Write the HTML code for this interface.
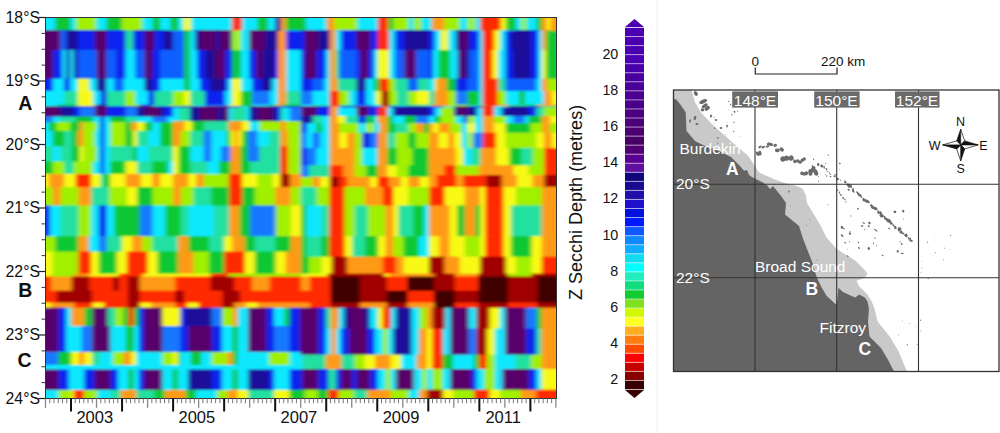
<!DOCTYPE html>
<html><head><meta charset="utf-8"><style>
html,body{margin:0;padding:0;background:#fff;}
svg{display:block;font-family:"Liberation Sans",sans-serif;}
</style></head><body>
<svg width="1000" height="433" viewBox="0 0 1000 433">
<defs>
<clipPath id="pc"><rect x="45.5" y="17.5" width="511" height="381"/></clipPath>
<filter id="bl" x="0" y="0" width="1" height="1"><feGaussianBlur stdDeviation="2.2 1.2"/></filter>
</defs>
<rect width="1000" height="433" fill="#fff"/>

<g clip-path="url(#pc)"><g filter="url(#bl)">
<rect x="38.00" y="273.00" width="13.51" height="4.15" fill="#f8fa18"/>
<rect x="50.91" y="273.00" width="24.25" height="4.15" fill="#a0f000"/>
<rect x="74.56" y="273.00" width="15.38" height="4.15" fill="#ff9a18"/>
<rect x="89.34" y="273.00" width="30.16" height="4.15" fill="#f8fa18"/>
<rect x="118.90" y="273.00" width="24.25" height="4.15" fill="#ff2a00"/>
<rect x="142.55" y="273.00" width="68.59" height="4.15" fill="#f8fa18"/>
<rect x="210.54" y="273.00" width="18.34" height="4.15" fill="#ff2a00"/>
<rect x="228.28" y="273.00" width="73.32" height="4.15" fill="#a0f000"/>
<rect x="38.00" y="276.55" width="13.51" height="14.79" fill="#ff2a00"/>
<rect x="50.91" y="276.55" width="21.29" height="14.79" fill="#ff9a18"/>
<rect x="71.61" y="276.55" width="18.34" height="14.79" fill="#a00000"/>
<rect x="89.34" y="276.55" width="24.25" height="14.79" fill="#ff2a00"/>
<rect x="112.99" y="276.55" width="6.51" height="14.79" fill="#a00000"/>
<rect x="118.90" y="276.55" width="9.47" height="14.79" fill="#ff2a00"/>
<rect x="127.77" y="276.55" width="12.42" height="14.79" fill="#a00000"/>
<rect x="139.60" y="276.55" width="36.07" height="14.79" fill="#ff9a18"/>
<rect x="175.07" y="276.55" width="36.07" height="14.79" fill="#ff2a00"/>
<rect x="210.54" y="276.55" width="24.25" height="14.79" fill="#a00000"/>
<rect x="234.19" y="276.55" width="18.34" height="14.79" fill="#ff2a00"/>
<rect x="251.93" y="276.55" width="18.34" height="14.79" fill="#ff9a18"/>
<rect x="269.67" y="276.55" width="31.93" height="14.79" fill="#ff2a00"/>
<rect x="38.00" y="290.74" width="19.42" height="12.42" fill="#ff2a00"/>
<rect x="56.82" y="290.74" width="36.07" height="12.42" fill="#a00000"/>
<rect x="92.30" y="290.74" width="36.07" height="12.42" fill="#ff2a00"/>
<rect x="127.77" y="290.74" width="12.42" height="12.42" fill="#a00000"/>
<rect x="139.60" y="290.74" width="36.07" height="12.42" fill="#ff2a00"/>
<rect x="175.07" y="290.74" width="9.47" height="12.42" fill="#a00000"/>
<rect x="183.94" y="290.74" width="39.03" height="12.42" fill="#ff2a00"/>
<rect x="222.37" y="290.74" width="18.34" height="12.42" fill="#a00000"/>
<rect x="240.10" y="290.74" width="61.50" height="12.42" fill="#ff2a00"/>
<rect x="38.00" y="302.56" width="13.51" height="5.92" fill="#f8fa18"/>
<rect x="50.91" y="302.56" width="24.25" height="5.92" fill="#ff9a18"/>
<rect x="74.56" y="302.56" width="18.34" height="5.92" fill="#ff2a00"/>
<rect x="92.30" y="302.56" width="12.42" height="5.92" fill="#f8fa18"/>
<rect x="104.12" y="302.56" width="24.25" height="5.92" fill="#ff2a00"/>
<rect x="127.77" y="302.56" width="12.42" height="5.92" fill="#a00000"/>
<rect x="139.60" y="302.56" width="12.42" height="5.92" fill="#f8fa18"/>
<rect x="151.42" y="302.56" width="24.25" height="5.92" fill="#ff9a18"/>
<rect x="175.07" y="302.56" width="12.42" height="5.92" fill="#ff2a00"/>
<rect x="186.89" y="302.56" width="12.42" height="5.92" fill="#f8fa18"/>
<rect x="198.72" y="302.56" width="24.25" height="5.92" fill="#ff2a00"/>
<rect x="222.37" y="302.56" width="12.42" height="5.92" fill="#a00000"/>
<rect x="234.19" y="302.56" width="12.42" height="5.92" fill="#ff9a18"/>
<rect x="246.02" y="302.56" width="12.42" height="5.92" fill="#f8fa18"/>
<rect x="257.84" y="302.56" width="43.76" height="5.92" fill="#ff9a18"/>
<rect x="38.00" y="307.88" width="19.42" height="10.06" fill="#58066a"/>
<rect x="56.82" y="307.88" width="9.47" height="10.06" fill="#1024ee"/>
<rect x="65.69" y="307.88" width="9.47" height="10.06" fill="#10c830"/>
<rect x="74.56" y="307.88" width="15.38" height="10.06" fill="#a0f000"/>
<rect x="89.34" y="307.88" width="6.51" height="10.06" fill="#10c830"/>
<rect x="95.25" y="307.88" width="15.38" height="10.06" fill="#58066a"/>
<rect x="110.03" y="307.88" width="9.47" height="10.06" fill="#10c830"/>
<rect x="118.90" y="307.88" width="9.47" height="10.06" fill="#f8fa18"/>
<rect x="127.77" y="307.88" width="6.51" height="10.06" fill="#ff2a00"/>
<rect x="133.68" y="307.88" width="3.56" height="10.06" fill="#10e8ff"/>
<rect x="136.64" y="307.88" width="27.21" height="10.06" fill="#58066a"/>
<rect x="163.24" y="307.88" width="24.25" height="10.06" fill="#a0f000"/>
<rect x="186.89" y="307.88" width="24.25" height="10.06" fill="#1c0c9a"/>
<rect x="210.54" y="307.88" width="12.42" height="10.06" fill="#10e8ff"/>
<rect x="222.37" y="307.88" width="12.42" height="10.06" fill="#f8fa18"/>
<rect x="234.19" y="307.88" width="12.42" height="10.06" fill="#10c830"/>
<rect x="246.02" y="307.88" width="24.25" height="10.06" fill="#58066a"/>
<rect x="269.67" y="307.88" width="12.42" height="10.06" fill="#10c830"/>
<rect x="281.49" y="307.88" width="20.11" height="10.06" fill="#1024ee"/>
<rect x="38.00" y="317.34" width="19.42" height="15.38" fill="#58066a"/>
<rect x="56.82" y="317.34" width="9.47" height="15.38" fill="#1024ee"/>
<rect x="65.69" y="317.34" width="12.42" height="15.38" fill="#10e8ff"/>
<rect x="77.52" y="317.34" width="12.42" height="15.38" fill="#10c830"/>
<rect x="89.34" y="317.34" width="6.51" height="15.38" fill="#10e8ff"/>
<rect x="95.25" y="317.34" width="15.38" height="15.38" fill="#58066a"/>
<rect x="110.03" y="317.34" width="12.42" height="15.38" fill="#10e8ff"/>
<rect x="121.86" y="317.34" width="9.47" height="15.38" fill="#10c830"/>
<rect x="130.73" y="317.34" width="6.51" height="15.38" fill="#10e8ff"/>
<rect x="136.64" y="317.34" width="27.21" height="15.38" fill="#58066a"/>
<rect x="163.24" y="317.34" width="12.42" height="15.38" fill="#20e0a0"/>
<rect x="175.07" y="317.34" width="12.42" height="15.38" fill="#10e8ff"/>
<rect x="186.89" y="317.34" width="24.25" height="15.38" fill="#58066a"/>
<rect x="210.54" y="317.34" width="18.34" height="15.38" fill="#10e8ff"/>
<rect x="228.28" y="317.34" width="12.42" height="15.38" fill="#10c830"/>
<rect x="240.10" y="317.34" width="9.47" height="15.38" fill="#10e8ff"/>
<rect x="248.97" y="317.34" width="24.25" height="15.38" fill="#58066a"/>
<rect x="272.62" y="317.34" width="12.42" height="15.38" fill="#10e8ff"/>
<rect x="284.45" y="317.34" width="17.15" height="15.38" fill="#1024ee"/>
<rect x="38.00" y="332.12" width="19.42" height="24.25" fill="#58066a"/>
<rect x="56.82" y="332.12" width="6.51" height="24.25" fill="#1024ee"/>
<rect x="62.74" y="332.12" width="30.16" height="24.25" fill="#10e8ff"/>
<rect x="92.30" y="332.12" width="5.03" height="24.25" fill="#1024ee"/>
<rect x="96.73" y="332.12" width="12.42" height="24.25" fill="#58066a"/>
<rect x="108.56" y="332.12" width="5.03" height="24.25" fill="#1024ee"/>
<rect x="112.99" y="332.12" width="21.29" height="24.25" fill="#10e8ff"/>
<rect x="133.68" y="332.12" width="5.03" height="24.25" fill="#1024ee"/>
<rect x="138.12" y="332.12" width="24.25" height="24.25" fill="#58066a"/>
<rect x="161.77" y="332.12" width="5.03" height="24.25" fill="#1024ee"/>
<rect x="166.20" y="332.12" width="18.34" height="24.25" fill="#10e8ff"/>
<rect x="183.94" y="332.12" width="5.03" height="24.25" fill="#1024ee"/>
<rect x="188.37" y="332.12" width="21.29" height="24.25" fill="#58066a"/>
<rect x="209.06" y="332.12" width="5.03" height="24.25" fill="#1024ee"/>
<rect x="213.50" y="332.12" width="33.12" height="24.25" fill="#10e8ff"/>
<rect x="246.02" y="332.12" width="5.03" height="24.25" fill="#1024ee"/>
<rect x="250.45" y="332.12" width="19.81" height="24.25" fill="#58066a"/>
<rect x="269.67" y="332.12" width="5.03" height="24.25" fill="#1024ee"/>
<rect x="274.10" y="332.12" width="13.90" height="24.25" fill="#10e8ff"/>
<rect x="287.40" y="332.12" width="14.20" height="24.25" fill="#1024ee"/>
<rect x="38.00" y="355.77" width="16.47" height="10.95" fill="#10e8ff"/>
<rect x="53.87" y="355.77" width="21.29" height="10.95" fill="#10c830"/>
<rect x="74.56" y="355.77" width="12.42" height="10.95" fill="#f8fa18"/>
<rect x="86.39" y="355.77" width="9.47" height="10.95" fill="#10c830"/>
<rect x="95.25" y="355.77" width="15.38" height="10.95" fill="#10e8ff"/>
<rect x="110.03" y="355.77" width="15.38" height="10.95" fill="#10c830"/>
<rect x="124.82" y="355.77" width="12.42" height="10.95" fill="#ff9a18"/>
<rect x="136.64" y="355.77" width="21.29" height="10.95" fill="#10e8ff"/>
<rect x="157.33" y="355.77" width="12.42" height="10.95" fill="#10c830"/>
<rect x="169.16" y="355.77" width="12.42" height="10.95" fill="#f8fa18"/>
<rect x="180.98" y="355.77" width="18.34" height="10.95" fill="#10c830"/>
<rect x="198.72" y="355.77" width="15.38" height="10.95" fill="#10e8ff"/>
<rect x="213.50" y="355.77" width="15.38" height="10.95" fill="#10c830"/>
<rect x="228.28" y="355.77" width="12.42" height="10.95" fill="#ff9a18"/>
<rect x="240.10" y="355.77" width="12.42" height="10.95" fill="#10c830"/>
<rect x="251.93" y="355.77" width="24.25" height="10.95" fill="#10e8ff"/>
<rect x="275.58" y="355.77" width="26.02" height="10.95" fill="#a0f000"/>
<rect x="38.00" y="366.12" width="19.42" height="24.25" fill="#58066a"/>
<rect x="56.82" y="366.12" width="12.42" height="24.25" fill="#1024ee"/>
<rect x="68.65" y="366.12" width="27.21" height="24.25" fill="#10e8ff"/>
<rect x="95.25" y="366.12" width="21.29" height="24.25" fill="#58066a"/>
<rect x="115.95" y="366.12" width="18.34" height="24.25" fill="#10e8ff"/>
<rect x="133.68" y="366.12" width="30.16" height="24.25" fill="#58066a"/>
<rect x="163.24" y="366.12" width="18.34" height="24.25" fill="#10e8ff"/>
<rect x="180.98" y="366.12" width="6.51" height="24.25" fill="#1024ee"/>
<rect x="186.89" y="366.12" width="24.25" height="24.25" fill="#58066a"/>
<rect x="210.54" y="366.12" width="36.07" height="24.25" fill="#10e8ff"/>
<rect x="246.02" y="366.12" width="27.21" height="24.25" fill="#58066a"/>
<rect x="272.62" y="366.12" width="15.38" height="24.25" fill="#10e8ff"/>
<rect x="287.40" y="366.12" width="14.20" height="24.25" fill="#1024ee"/>
<rect x="38.00" y="389.77" width="19.42" height="7.99" fill="#10e8ff"/>
<rect x="56.82" y="389.77" width="18.34" height="7.99" fill="#a0f000"/>
<rect x="74.56" y="389.77" width="9.47" height="7.99" fill="#ff2a00"/>
<rect x="83.43" y="389.77" width="15.38" height="7.99" fill="#a0f000"/>
<rect x="98.21" y="389.77" width="18.34" height="7.99" fill="#10e8ff"/>
<rect x="115.95" y="389.77" width="12.42" height="7.99" fill="#f8fa18"/>
<rect x="127.77" y="389.77" width="12.42" height="7.99" fill="#ff2a00"/>
<rect x="139.60" y="389.77" width="24.25" height="7.99" fill="#a0f000"/>
<rect x="163.24" y="389.77" width="18.34" height="7.99" fill="#20e0a0"/>
<rect x="180.98" y="389.77" width="18.34" height="7.99" fill="#f8fa18"/>
<rect x="198.72" y="389.77" width="12.42" height="7.99" fill="#10c830"/>
<rect x="210.54" y="389.77" width="24.25" height="7.99" fill="#10e8ff"/>
<rect x="234.19" y="389.77" width="18.34" height="7.99" fill="#a0f000"/>
<rect x="251.93" y="389.77" width="18.34" height="7.99" fill="#20e0a0"/>
<rect x="269.67" y="389.77" width="31.93" height="7.99" fill="#a0f000"/>
<rect x="301.00" y="273.00" width="27.21" height="4.15" fill="#f8fa18"/>
<rect x="327.61" y="273.00" width="56.77" height="4.15" fill="#a00000"/>
<rect x="383.77" y="273.00" width="6.51" height="4.15" fill="#f8fa18"/>
<rect x="389.68" y="273.00" width="44.94" height="4.15" fill="#ff9a18"/>
<rect x="434.03" y="273.00" width="21.29" height="4.15" fill="#a00000"/>
<rect x="454.72" y="273.00" width="24.25" height="4.15" fill="#ff9a18"/>
<rect x="478.37" y="273.00" width="30.16" height="4.15" fill="#a00000"/>
<rect x="507.93" y="273.00" width="24.25" height="4.15" fill="#a0f000"/>
<rect x="531.58" y="273.00" width="34.02" height="4.15" fill="#a00000"/>
<rect x="301.00" y="276.55" width="9.47" height="14.79" fill="#ff9a18"/>
<rect x="309.87" y="276.55" width="21.29" height="14.79" fill="#ff2a00"/>
<rect x="330.56" y="276.55" width="30.16" height="14.79" fill="#400000"/>
<rect x="360.12" y="276.55" width="27.21" height="14.79" fill="#a00000"/>
<rect x="386.73" y="276.55" width="21.29" height="14.79" fill="#ff2a00"/>
<rect x="407.42" y="276.55" width="27.21" height="14.79" fill="#400000"/>
<rect x="434.03" y="276.55" width="21.29" height="14.79" fill="#a00000"/>
<rect x="454.72" y="276.55" width="24.25" height="14.79" fill="#ff2a00"/>
<rect x="478.37" y="276.55" width="30.16" height="14.79" fill="#400000"/>
<rect x="507.93" y="276.55" width="30.16" height="14.79" fill="#a00000"/>
<rect x="537.49" y="276.55" width="28.11" height="14.79" fill="#400000"/>
<rect x="301.00" y="290.74" width="30.16" height="12.42" fill="#ff2a00"/>
<rect x="330.56" y="290.74" width="30.16" height="12.42" fill="#400000"/>
<rect x="360.12" y="290.74" width="27.21" height="12.42" fill="#a00000"/>
<rect x="386.73" y="290.74" width="21.29" height="12.42" fill="#400000"/>
<rect x="407.42" y="290.74" width="27.21" height="12.42" fill="#ff2a00"/>
<rect x="434.03" y="290.74" width="21.29" height="12.42" fill="#400000"/>
<rect x="454.72" y="290.74" width="24.25" height="12.42" fill="#a00000"/>
<rect x="478.37" y="290.74" width="30.16" height="12.42" fill="#400000"/>
<rect x="507.93" y="290.74" width="30.16" height="12.42" fill="#a00000"/>
<rect x="537.49" y="290.74" width="28.11" height="12.42" fill="#400000"/>
<rect x="301.00" y="302.56" width="9.47" height="5.92" fill="#ff9a18"/>
<rect x="309.87" y="302.56" width="21.29" height="5.92" fill="#ff2a00"/>
<rect x="330.56" y="302.56" width="30.16" height="5.92" fill="#a00000"/>
<rect x="360.12" y="302.56" width="27.21" height="5.92" fill="#ff9a18"/>
<rect x="386.73" y="302.56" width="21.29" height="5.92" fill="#a00000"/>
<rect x="407.42" y="302.56" width="27.21" height="5.92" fill="#ff9a18"/>
<rect x="434.03" y="302.56" width="21.29" height="5.92" fill="#400000"/>
<rect x="454.72" y="302.56" width="24.25" height="5.92" fill="#ff2a00"/>
<rect x="478.37" y="302.56" width="30.16" height="5.92" fill="#a00000"/>
<rect x="507.93" y="302.56" width="30.16" height="5.92" fill="#ff2a00"/>
<rect x="537.49" y="302.56" width="28.11" height="5.92" fill="#a00000"/>
<rect x="301.00" y="307.88" width="6.51" height="10.06" fill="#10e8ff"/>
<rect x="306.91" y="307.88" width="18.34" height="10.06" fill="#1c0c9a"/>
<rect x="324.65" y="307.88" width="6.51" height="10.06" fill="#10e8ff"/>
<rect x="330.56" y="307.88" width="6.51" height="10.06" fill="#f8fa18"/>
<rect x="336.47" y="307.88" width="6.51" height="10.06" fill="#10e8ff"/>
<rect x="342.39" y="307.88" width="24.25" height="10.06" fill="#1024ee"/>
<rect x="366.03" y="307.88" width="15.38" height="10.06" fill="#20e0a0"/>
<rect x="380.82" y="307.88" width="9.47" height="10.06" fill="#10c830"/>
<rect x="389.68" y="307.88" width="9.47" height="10.06" fill="#10e8ff"/>
<rect x="398.55" y="307.88" width="21.29" height="10.06" fill="#1024ee"/>
<rect x="419.24" y="307.88" width="12.42" height="10.06" fill="#10e8ff"/>
<rect x="431.07" y="307.88" width="6.51" height="10.06" fill="#10c830"/>
<rect x="436.98" y="307.88" width="9.47" height="10.06" fill="#a00000"/>
<rect x="445.85" y="307.88" width="6.51" height="10.06" fill="#10e8ff"/>
<rect x="451.76" y="307.88" width="15.38" height="10.06" fill="#1024ee"/>
<rect x="466.54" y="307.88" width="12.42" height="10.06" fill="#10e8ff"/>
<rect x="478.37" y="307.88" width="18.34" height="10.06" fill="#f8fa18"/>
<rect x="496.10" y="307.88" width="9.47" height="10.06" fill="#10e8ff"/>
<rect x="504.97" y="307.88" width="24.25" height="10.06" fill="#1c0c9a"/>
<rect x="528.62" y="307.88" width="15.38" height="10.06" fill="#10e8ff"/>
<rect x="543.40" y="307.88" width="22.20" height="10.06" fill="#ff9a18"/>
<rect x="301.00" y="317.34" width="15.38" height="15.38" fill="#58066a"/>
<rect x="315.78" y="317.34" width="12.42" height="15.38" fill="#1024ee"/>
<rect x="327.61" y="317.34" width="12.42" height="15.38" fill="#10e8ff"/>
<rect x="339.43" y="317.34" width="9.47" height="15.38" fill="#1024ee"/>
<rect x="348.30" y="317.34" width="15.38" height="15.38" fill="#58066a"/>
<rect x="363.08" y="317.34" width="12.42" height="15.38" fill="#1024ee"/>
<rect x="374.90" y="317.34" width="9.47" height="15.38" fill="#10e8ff"/>
<rect x="383.77" y="317.34" width="6.51" height="15.38" fill="#10c830"/>
<rect x="389.68" y="317.34" width="9.47" height="15.38" fill="#10e8ff"/>
<rect x="398.55" y="317.34" width="15.38" height="15.38" fill="#1c0c9a"/>
<rect x="413.33" y="317.34" width="12.42" height="15.38" fill="#1024ee"/>
<rect x="425.16" y="317.34" width="9.47" height="15.38" fill="#10e8ff"/>
<rect x="434.03" y="317.34" width="12.42" height="15.38" fill="#ff2a00"/>
<rect x="445.85" y="317.34" width="6.51" height="15.38" fill="#10e8ff"/>
<rect x="451.76" y="317.34" width="15.38" height="15.38" fill="#58066a"/>
<rect x="466.54" y="317.34" width="12.42" height="15.38" fill="#1024ee"/>
<rect x="478.37" y="317.34" width="9.47" height="15.38" fill="#10e8ff"/>
<rect x="487.24" y="317.34" width="9.47" height="15.38" fill="#f8fa18"/>
<rect x="496.10" y="317.34" width="9.47" height="15.38" fill="#10e8ff"/>
<rect x="504.97" y="317.34" width="21.29" height="15.38" fill="#58066a"/>
<rect x="525.67" y="317.34" width="12.42" height="15.38" fill="#1024ee"/>
<rect x="537.49" y="317.34" width="9.47" height="15.38" fill="#10e8ff"/>
<rect x="546.36" y="317.34" width="19.24" height="15.38" fill="#ff9a18"/>
<rect x="301.00" y="332.12" width="15.38" height="21.29" fill="#58066a"/>
<rect x="315.78" y="332.12" width="12.42" height="21.29" fill="#1024ee"/>
<rect x="327.61" y="332.12" width="15.38" height="21.29" fill="#10e8ff"/>
<rect x="342.39" y="332.12" width="9.47" height="21.29" fill="#1024ee"/>
<rect x="351.25" y="332.12" width="18.34" height="21.29" fill="#58066a"/>
<rect x="368.99" y="332.12" width="9.47" height="21.29" fill="#1024ee"/>
<rect x="377.86" y="332.12" width="6.51" height="21.29" fill="#10e8ff"/>
<rect x="383.77" y="332.12" width="6.51" height="21.29" fill="#10c830"/>
<rect x="389.68" y="332.12" width="12.42" height="21.29" fill="#10e8ff"/>
<rect x="401.51" y="332.12" width="15.38" height="21.29" fill="#1c0c9a"/>
<rect x="416.29" y="332.12" width="9.47" height="21.29" fill="#1024ee"/>
<rect x="425.16" y="332.12" width="6.51" height="21.29" fill="#10e8ff"/>
<rect x="431.07" y="332.12" width="9.47" height="21.29" fill="#10c830"/>
<rect x="439.94" y="332.12" width="9.47" height="21.29" fill="#ff2a00"/>
<rect x="448.81" y="332.12" width="6.51" height="21.29" fill="#10e8ff"/>
<rect x="454.72" y="332.12" width="15.38" height="21.29" fill="#58066a"/>
<rect x="469.50" y="332.12" width="9.47" height="21.29" fill="#1024ee"/>
<rect x="478.37" y="332.12" width="12.42" height="21.29" fill="#10e8ff"/>
<rect x="490.19" y="332.12" width="6.51" height="21.29" fill="#f8fa18"/>
<rect x="496.10" y="332.12" width="12.42" height="21.29" fill="#1878ff"/>
<rect x="507.93" y="332.12" width="21.29" height="21.29" fill="#58066a"/>
<rect x="528.62" y="332.12" width="12.42" height="21.29" fill="#1024ee"/>
<rect x="540.45" y="332.12" width="6.51" height="21.29" fill="#10e8ff"/>
<rect x="546.36" y="332.12" width="19.24" height="21.29" fill="#ff9a18"/>
<rect x="301.00" y="352.82" width="9.47" height="15.38" fill="#10e8ff"/>
<rect x="309.87" y="352.82" width="12.42" height="15.38" fill="#10c830"/>
<rect x="321.69" y="352.82" width="12.42" height="15.38" fill="#f8fa18"/>
<rect x="333.52" y="352.82" width="9.47" height="15.38" fill="#ff9a18"/>
<rect x="342.39" y="352.82" width="18.34" height="15.38" fill="#10c830"/>
<rect x="360.12" y="352.82" width="18.34" height="15.38" fill="#a0f000"/>
<rect x="377.86" y="352.82" width="12.42" height="15.38" fill="#ff9a18"/>
<rect x="389.68" y="352.82" width="12.42" height="15.38" fill="#f8fa18"/>
<rect x="401.51" y="352.82" width="12.42" height="15.38" fill="#10c830"/>
<rect x="413.33" y="352.82" width="12.42" height="15.38" fill="#ff9a18"/>
<rect x="425.16" y="352.82" width="9.47" height="15.38" fill="#10c830"/>
<rect x="434.03" y="352.82" width="12.42" height="15.38" fill="#ff2a00"/>
<rect x="445.85" y="352.82" width="9.47" height="15.38" fill="#a0f000"/>
<rect x="454.72" y="352.82" width="12.42" height="15.38" fill="#20e0a0"/>
<rect x="466.54" y="352.82" width="12.42" height="15.38" fill="#f8fa18"/>
<rect x="478.37" y="352.82" width="12.42" height="15.38" fill="#ff9a18"/>
<rect x="490.19" y="352.82" width="12.42" height="15.38" fill="#a0f000"/>
<rect x="502.02" y="352.82" width="24.25" height="15.38" fill="#20e0a0"/>
<rect x="525.67" y="352.82" width="18.34" height="15.38" fill="#a0f000"/>
<rect x="543.40" y="352.82" width="22.20" height="15.38" fill="#ff9a18"/>
<rect x="301.00" y="367.60" width="18.34" height="24.25" fill="#58066a"/>
<rect x="318.74" y="367.60" width="12.42" height="24.25" fill="#1024ee"/>
<rect x="330.56" y="367.60" width="12.42" height="24.25" fill="#10e8ff"/>
<rect x="342.39" y="367.60" width="9.47" height="24.25" fill="#1024ee"/>
<rect x="351.25" y="367.60" width="21.29" height="24.25" fill="#58066a"/>
<rect x="371.95" y="367.60" width="9.47" height="24.25" fill="#1024ee"/>
<rect x="380.82" y="367.60" width="15.38" height="24.25" fill="#10e8ff"/>
<rect x="395.60" y="367.60" width="18.34" height="24.25" fill="#1c0c9a"/>
<rect x="413.33" y="367.60" width="12.42" height="24.25" fill="#10e8ff"/>
<rect x="425.16" y="367.60" width="9.47" height="24.25" fill="#10c830"/>
<rect x="434.03" y="367.60" width="9.47" height="24.25" fill="#ff9a18"/>
<rect x="442.89" y="367.60" width="6.51" height="24.25" fill="#10e8ff"/>
<rect x="448.81" y="367.60" width="18.34" height="24.25" fill="#58066a"/>
<rect x="466.54" y="367.60" width="12.42" height="24.25" fill="#1024ee"/>
<rect x="478.37" y="367.60" width="12.42" height="24.25" fill="#20e0a0"/>
<rect x="490.19" y="367.60" width="12.42" height="24.25" fill="#10e8ff"/>
<rect x="502.02" y="367.60" width="24.25" height="24.25" fill="#58066a"/>
<rect x="525.67" y="367.60" width="12.42" height="24.25" fill="#1024ee"/>
<rect x="537.49" y="367.60" width="9.47" height="24.25" fill="#10e8ff"/>
<rect x="546.36" y="367.60" width="19.24" height="24.25" fill="#ff9a18"/>
<rect x="301.00" y="391.24" width="24.25" height="6.51" fill="#a0f000"/>
<rect x="324.65" y="391.24" width="12.42" height="6.51" fill="#f8fa18"/>
<rect x="336.47" y="391.24" width="6.51" height="6.51" fill="#ff9a18"/>
<rect x="342.39" y="391.24" width="18.34" height="6.51" fill="#a0f000"/>
<rect x="360.12" y="391.24" width="18.34" height="6.51" fill="#10c830"/>
<rect x="377.86" y="391.24" width="12.42" height="6.51" fill="#f8fa18"/>
<rect x="389.68" y="391.24" width="18.34" height="6.51" fill="#10c830"/>
<rect x="407.42" y="391.24" width="24.25" height="6.51" fill="#f8fa18"/>
<rect x="431.07" y="391.24" width="12.42" height="6.51" fill="#a00000"/>
<rect x="442.89" y="391.24" width="12.42" height="6.51" fill="#f8fa18"/>
<rect x="454.72" y="391.24" width="24.25" height="6.51" fill="#10c830"/>
<rect x="478.37" y="391.24" width="12.42" height="6.51" fill="#ff9a18"/>
<rect x="490.19" y="391.24" width="18.34" height="6.51" fill="#f8fa18"/>
<rect x="507.93" y="391.24" width="24.25" height="6.51" fill="#ff9a18"/>
<rect x="531.58" y="391.24" width="34.02" height="6.51" fill="#ff2a00"/>
<rect x="38.00" y="10.00" width="19.42" height="19.42" fill="#10e8ff"/>
<rect x="56.82" y="10.00" width="12.42" height="19.42" fill="#10c830"/>
<rect x="68.65" y="10.00" width="9.47" height="19.42" fill="#10e8ff"/>
<rect x="77.52" y="10.00" width="18.34" height="19.42" fill="#a0f000"/>
<rect x="95.25" y="10.00" width="6.51" height="19.42" fill="#10e8ff"/>
<rect x="101.17" y="10.00" width="5.03" height="19.42" fill="#1060ff"/>
<rect x="105.60" y="10.00" width="19.81" height="19.42" fill="#10e8ff"/>
<rect x="124.82" y="10.00" width="18.34" height="19.42" fill="#a0f000"/>
<rect x="142.55" y="10.00" width="27.21" height="19.42" fill="#10e8ff"/>
<rect x="169.16" y="10.00" width="15.38" height="19.42" fill="#10c830"/>
<rect x="183.94" y="10.00" width="6.51" height="19.42" fill="#f8fa18"/>
<rect x="189.85" y="10.00" width="39.03" height="19.42" fill="#10e8ff"/>
<rect x="228.28" y="10.00" width="12.42" height="19.42" fill="#ff2a00"/>
<rect x="240.10" y="10.00" width="12.42" height="19.42" fill="#10c830"/>
<rect x="251.93" y="10.00" width="18.34" height="19.42" fill="#10e8ff"/>
<rect x="269.67" y="10.00" width="6.51" height="19.42" fill="#10c830"/>
<rect x="275.58" y="10.00" width="6.51" height="19.42" fill="#ff9a18"/>
<rect x="281.49" y="10.00" width="20.11" height="19.42" fill="#20e0a0"/>
<rect x="38.00" y="28.82" width="19.42" height="6.51" fill="#58066a"/>
<rect x="56.82" y="28.82" width="9.47" height="6.51" fill="#1024ee"/>
<rect x="65.69" y="28.82" width="12.42" height="6.51" fill="#1c0c9a"/>
<rect x="77.52" y="28.82" width="15.38" height="6.51" fill="#1024ee"/>
<rect x="92.30" y="28.82" width="15.38" height="6.51" fill="#58066a"/>
<rect x="107.08" y="28.82" width="18.34" height="6.51" fill="#1024ee"/>
<rect x="124.82" y="28.82" width="9.47" height="6.51" fill="#10c830"/>
<rect x="133.68" y="28.82" width="18.34" height="6.51" fill="#58066a"/>
<rect x="151.42" y="28.82" width="18.34" height="6.51" fill="#1c0c9a"/>
<rect x="169.16" y="28.82" width="9.47" height="6.51" fill="#10e8ff"/>
<rect x="178.03" y="28.82" width="15.38" height="6.51" fill="#10c830"/>
<rect x="192.81" y="28.82" width="12.42" height="6.51" fill="#1c0c9a"/>
<rect x="204.63" y="28.82" width="24.25" height="6.51" fill="#58066a"/>
<rect x="228.28" y="28.82" width="12.42" height="6.51" fill="#ff9a18"/>
<rect x="240.10" y="28.82" width="9.47" height="6.51" fill="#10e8ff"/>
<rect x="248.97" y="28.82" width="27.21" height="6.51" fill="#58066a"/>
<rect x="275.58" y="28.82" width="6.51" height="6.51" fill="#1c0c9a"/>
<rect x="281.49" y="28.82" width="20.11" height="6.51" fill="#10e8ff"/>
<rect x="38.00" y="34.74" width="19.42" height="12.42" fill="#1c0c9a"/>
<rect x="56.82" y="34.74" width="9.47" height="12.42" fill="#1024ee"/>
<rect x="65.69" y="34.74" width="12.42" height="12.42" fill="#10e8ff"/>
<rect x="77.52" y="34.74" width="18.34" height="12.42" fill="#1060ff"/>
<rect x="95.25" y="34.74" width="12.42" height="12.42" fill="#58066a"/>
<rect x="107.08" y="34.74" width="18.34" height="12.42" fill="#1024ee"/>
<rect x="124.82" y="34.74" width="9.47" height="12.42" fill="#10e8ff"/>
<rect x="133.68" y="34.74" width="18.34" height="12.42" fill="#58066a"/>
<rect x="151.42" y="34.74" width="18.34" height="12.42" fill="#1c0c9a"/>
<rect x="169.16" y="34.74" width="12.42" height="12.42" fill="#10e8ff"/>
<rect x="180.98" y="34.74" width="12.42" height="12.42" fill="#10c830"/>
<rect x="192.81" y="34.74" width="12.42" height="12.42" fill="#1024ee"/>
<rect x="204.63" y="34.74" width="24.25" height="12.42" fill="#58066a"/>
<rect x="228.28" y="34.74" width="9.47" height="12.42" fill="#f8fa18"/>
<rect x="237.15" y="34.74" width="12.42" height="12.42" fill="#10e8ff"/>
<rect x="248.97" y="34.74" width="27.21" height="12.42" fill="#58066a"/>
<rect x="275.58" y="34.74" width="6.51" height="12.42" fill="#1c0c9a"/>
<rect x="281.49" y="34.74" width="20.11" height="12.42" fill="#1878ff"/>
<rect x="38.00" y="46.56" width="19.42" height="7.99" fill="#1024ee"/>
<rect x="56.82" y="46.56" width="39.03" height="7.99" fill="#10e8ff"/>
<rect x="95.25" y="46.56" width="12.42" height="7.99" fill="#58066a"/>
<rect x="107.08" y="46.56" width="27.21" height="7.99" fill="#10e8ff"/>
<rect x="133.68" y="46.56" width="18.34" height="7.99" fill="#58066a"/>
<rect x="151.42" y="46.56" width="18.34" height="7.99" fill="#1024ee"/>
<rect x="169.16" y="46.56" width="24.25" height="7.99" fill="#20e0a0"/>
<rect x="192.81" y="46.56" width="12.42" height="7.99" fill="#10e8ff"/>
<rect x="204.63" y="46.56" width="24.25" height="7.99" fill="#1c0c9a"/>
<rect x="228.28" y="46.56" width="12.42" height="7.99" fill="#a0f000"/>
<rect x="240.10" y="46.56" width="12.42" height="7.99" fill="#10e8ff"/>
<rect x="251.93" y="46.56" width="24.25" height="7.99" fill="#1c0c9a"/>
<rect x="275.58" y="46.56" width="6.51" height="7.99" fill="#ff9a18"/>
<rect x="281.49" y="46.56" width="20.11" height="7.99" fill="#10e8ff"/>
<rect x="38.00" y="53.95" width="19.42" height="22.77" fill="#1024ee"/>
<rect x="56.82" y="53.95" width="15.38" height="22.77" fill="#1878ff"/>
<rect x="71.61" y="53.95" width="6.51" height="22.77" fill="#1024ee"/>
<rect x="77.52" y="53.95" width="18.34" height="22.77" fill="#1878ff"/>
<rect x="95.25" y="53.95" width="12.42" height="22.77" fill="#58066a"/>
<rect x="107.08" y="53.95" width="18.34" height="22.77" fill="#1024ee"/>
<rect x="124.82" y="53.95" width="15.38" height="22.77" fill="#1878ff"/>
<rect x="139.60" y="53.95" width="12.42" height="22.77" fill="#58066a"/>
<rect x="151.42" y="53.95" width="18.34" height="22.77" fill="#1024ee"/>
<rect x="169.16" y="53.95" width="15.38" height="22.77" fill="#1878ff"/>
<rect x="183.94" y="53.95" width="6.51" height="22.77" fill="#10c830"/>
<rect x="189.85" y="53.95" width="9.47" height="22.77" fill="#1024ee"/>
<rect x="198.72" y="53.95" width="12.42" height="22.77" fill="#1c0c9a"/>
<rect x="210.54" y="53.95" width="18.34" height="22.77" fill="#58066a"/>
<rect x="228.28" y="53.95" width="9.47" height="22.77" fill="#a0f000"/>
<rect x="237.15" y="53.95" width="15.38" height="22.77" fill="#10e8ff"/>
<rect x="251.93" y="53.95" width="9.47" height="22.77" fill="#58066a"/>
<rect x="260.80" y="53.95" width="15.38" height="22.77" fill="#1024ee"/>
<rect x="275.58" y="53.95" width="6.51" height="22.77" fill="#ff9a18"/>
<rect x="281.49" y="53.95" width="20.11" height="22.77" fill="#10e8ff"/>
<rect x="38.00" y="76.12" width="19.42" height="15.38" fill="#1024ee"/>
<rect x="56.82" y="76.12" width="21.29" height="15.38" fill="#10e8ff"/>
<rect x="77.52" y="76.12" width="18.34" height="15.38" fill="#f8fa18"/>
<rect x="95.25" y="76.12" width="12.42" height="15.38" fill="#1c0c9a"/>
<rect x="107.08" y="76.12" width="18.34" height="15.38" fill="#1878ff"/>
<rect x="124.82" y="76.12" width="15.38" height="15.38" fill="#10c830"/>
<rect x="139.60" y="76.12" width="12.42" height="15.38" fill="#1c0c9a"/>
<rect x="151.42" y="76.12" width="18.34" height="15.38" fill="#1878ff"/>
<rect x="169.16" y="76.12" width="15.38" height="15.38" fill="#10e8ff"/>
<rect x="183.94" y="76.12" width="6.51" height="15.38" fill="#10c830"/>
<rect x="189.85" y="76.12" width="9.47" height="15.38" fill="#10e8ff"/>
<rect x="198.72" y="76.12" width="30.16" height="15.38" fill="#1024ee"/>
<rect x="228.28" y="76.12" width="9.47" height="15.38" fill="#f8fa18"/>
<rect x="237.15" y="76.12" width="15.38" height="15.38" fill="#10e8ff"/>
<rect x="251.93" y="76.12" width="18.34" height="15.38" fill="#1024ee"/>
<rect x="269.67" y="76.12" width="6.51" height="15.38" fill="#10e8ff"/>
<rect x="275.58" y="76.12" width="6.51" height="15.38" fill="#ff9a18"/>
<rect x="281.49" y="76.12" width="20.11" height="15.38" fill="#20e0a0"/>
<rect x="38.00" y="90.90" width="19.42" height="15.97" fill="#10e8ff"/>
<rect x="56.82" y="90.90" width="21.29" height="15.97" fill="#10c830"/>
<rect x="77.52" y="90.90" width="18.34" height="15.97" fill="#f8fa18"/>
<rect x="95.25" y="90.90" width="12.42" height="15.97" fill="#1c0c9a"/>
<rect x="107.08" y="90.90" width="18.34" height="15.97" fill="#20e0a0"/>
<rect x="124.82" y="90.90" width="15.38" height="15.97" fill="#a0f000"/>
<rect x="139.60" y="90.90" width="12.42" height="15.97" fill="#1024ee"/>
<rect x="151.42" y="90.90" width="18.34" height="15.97" fill="#20e0a0"/>
<rect x="169.16" y="90.90" width="24.25" height="15.97" fill="#a0f000"/>
<rect x="192.81" y="90.90" width="12.42" height="15.97" fill="#10e8ff"/>
<rect x="204.63" y="90.90" width="24.25" height="15.97" fill="#1878ff"/>
<rect x="228.28" y="90.90" width="12.42" height="15.97" fill="#f8fa18"/>
<rect x="240.10" y="90.90" width="12.42" height="15.97" fill="#10c830"/>
<rect x="251.93" y="90.90" width="18.34" height="15.97" fill="#10e8ff"/>
<rect x="269.67" y="90.90" width="6.51" height="15.97" fill="#10c830"/>
<rect x="275.58" y="90.90" width="6.51" height="15.97" fill="#ff9a18"/>
<rect x="281.49" y="90.90" width="20.11" height="15.97" fill="#10c830"/>
<rect x="38.00" y="106.27" width="19.42" height="4.44" fill="#58066a"/>
<rect x="56.82" y="106.27" width="39.03" height="4.44" fill="#1024ee"/>
<rect x="95.25" y="106.27" width="12.42" height="4.44" fill="#58066a"/>
<rect x="107.08" y="106.27" width="30.16" height="4.44" fill="#1024ee"/>
<rect x="136.64" y="106.27" width="18.34" height="4.44" fill="#58066a"/>
<rect x="154.38" y="106.27" width="39.03" height="4.44" fill="#1024ee"/>
<rect x="192.81" y="106.27" width="36.07" height="4.44" fill="#58066a"/>
<rect x="228.28" y="106.27" width="12.42" height="4.44" fill="#1024ee"/>
<rect x="240.10" y="106.27" width="9.47" height="4.44" fill="#10e8ff"/>
<rect x="248.97" y="106.27" width="21.29" height="4.44" fill="#58066a"/>
<rect x="269.67" y="106.27" width="31.93" height="4.44" fill="#1024ee"/>
<rect x="38.00" y="110.12" width="19.42" height="9.47" fill="#1c0c9a"/>
<rect x="56.82" y="110.12" width="39.03" height="9.47" fill="#1878ff"/>
<rect x="95.25" y="110.12" width="12.42" height="9.47" fill="#1c0c9a"/>
<rect x="107.08" y="110.12" width="30.16" height="9.47" fill="#1878ff"/>
<rect x="136.64" y="110.12" width="18.34" height="9.47" fill="#1c0c9a"/>
<rect x="154.38" y="110.12" width="39.03" height="9.47" fill="#10e8ff"/>
<rect x="192.81" y="110.12" width="36.07" height="9.47" fill="#1c0c9a"/>
<rect x="228.28" y="110.12" width="24.25" height="9.47" fill="#10e8ff"/>
<rect x="251.93" y="110.12" width="18.34" height="9.47" fill="#1c0c9a"/>
<rect x="269.67" y="110.12" width="31.93" height="9.47" fill="#10e8ff"/>
<rect x="301.00" y="10.00" width="6.51" height="19.42" fill="#10c830"/>
<rect x="306.91" y="10.00" width="24.25" height="19.42" fill="#10e8ff"/>
<rect x="330.56" y="10.00" width="6.51" height="19.42" fill="#ff9a18"/>
<rect x="336.47" y="10.00" width="21.29" height="19.42" fill="#a0f000"/>
<rect x="357.17" y="10.00" width="21.29" height="19.42" fill="#10e8ff"/>
<rect x="377.86" y="10.00" width="12.42" height="19.42" fill="#ff2a00"/>
<rect x="389.68" y="10.00" width="12.42" height="19.42" fill="#10c830"/>
<rect x="401.51" y="10.00" width="33.12" height="19.42" fill="#10e8ff"/>
<rect x="434.03" y="10.00" width="15.38" height="19.42" fill="#ff9a18"/>
<rect x="448.81" y="10.00" width="18.34" height="19.42" fill="#a0f000"/>
<rect x="466.54" y="10.00" width="12.42" height="19.42" fill="#10e8ff"/>
<rect x="478.37" y="10.00" width="6.51" height="19.42" fill="#10c830"/>
<rect x="484.28" y="10.00" width="12.42" height="19.42" fill="#ff2a00"/>
<rect x="496.10" y="10.00" width="12.42" height="19.42" fill="#a0f000"/>
<rect x="507.93" y="10.00" width="18.34" height="19.42" fill="#20e0a0"/>
<rect x="525.67" y="10.00" width="12.42" height="19.42" fill="#10c830"/>
<rect x="537.49" y="10.00" width="6.51" height="19.42" fill="#10e8ff"/>
<rect x="543.40" y="10.00" width="22.20" height="19.42" fill="#ff9a18"/>
<rect x="301.00" y="28.82" width="12.42" height="6.51" fill="#58066a"/>
<rect x="312.82" y="28.82" width="18.34" height="6.51" fill="#1024ee"/>
<rect x="330.56" y="28.82" width="6.51" height="6.51" fill="#ff9a18"/>
<rect x="336.47" y="28.82" width="18.34" height="6.51" fill="#1878ff"/>
<rect x="354.21" y="28.82" width="18.34" height="6.51" fill="#58066a"/>
<rect x="371.95" y="28.82" width="6.51" height="6.51" fill="#1024ee"/>
<rect x="377.86" y="28.82" width="9.47" height="6.51" fill="#ff2a00"/>
<rect x="386.73" y="28.82" width="9.47" height="6.51" fill="#10e8ff"/>
<rect x="395.60" y="28.82" width="12.42" height="6.51" fill="#1024ee"/>
<rect x="407.42" y="28.82" width="24.25" height="6.51" fill="#1c0c9a"/>
<rect x="431.07" y="28.82" width="9.47" height="6.51" fill="#10e8ff"/>
<rect x="439.94" y="28.82" width="9.47" height="6.51" fill="#f8fa18"/>
<rect x="448.81" y="28.82" width="6.51" height="6.51" fill="#10e8ff"/>
<rect x="454.72" y="28.82" width="18.34" height="6.51" fill="#1c0c9a"/>
<rect x="472.45" y="28.82" width="9.47" height="6.51" fill="#10e8ff"/>
<rect x="481.32" y="28.82" width="12.42" height="6.51" fill="#ff2a00"/>
<rect x="493.15" y="28.82" width="9.47" height="6.51" fill="#a0f000"/>
<rect x="502.02" y="28.82" width="12.42" height="6.51" fill="#10e8ff"/>
<rect x="513.84" y="28.82" width="18.34" height="6.51" fill="#1c0c9a"/>
<rect x="531.58" y="28.82" width="9.47" height="6.51" fill="#1024ee"/>
<rect x="540.45" y="28.82" width="25.15" height="6.51" fill="#ff9a18"/>
<rect x="301.00" y="34.74" width="15.38" height="12.42" fill="#58066a"/>
<rect x="315.78" y="34.74" width="15.38" height="12.42" fill="#1024ee"/>
<rect x="330.56" y="34.74" width="6.51" height="12.42" fill="#ff9a18"/>
<rect x="336.47" y="34.74" width="18.34" height="12.42" fill="#1878ff"/>
<rect x="354.21" y="34.74" width="18.34" height="12.42" fill="#58066a"/>
<rect x="371.95" y="34.74" width="6.51" height="12.42" fill="#1024ee"/>
<rect x="377.86" y="34.74" width="9.47" height="12.42" fill="#ff9a18"/>
<rect x="386.73" y="34.74" width="9.47" height="12.42" fill="#10e8ff"/>
<rect x="395.60" y="34.74" width="12.42" height="12.42" fill="#1024ee"/>
<rect x="407.42" y="34.74" width="24.25" height="12.42" fill="#1c0c9a"/>
<rect x="431.07" y="34.74" width="9.47" height="12.42" fill="#10e8ff"/>
<rect x="439.94" y="34.74" width="9.47" height="12.42" fill="#10c830"/>
<rect x="448.81" y="34.74" width="6.51" height="12.42" fill="#10e8ff"/>
<rect x="454.72" y="34.74" width="18.34" height="12.42" fill="#1c0c9a"/>
<rect x="472.45" y="34.74" width="12.42" height="12.42" fill="#1024ee"/>
<rect x="484.28" y="34.74" width="9.47" height="12.42" fill="#ff2a00"/>
<rect x="493.15" y="34.74" width="9.47" height="12.42" fill="#f8fa18"/>
<rect x="502.02" y="34.74" width="12.42" height="12.42" fill="#10e8ff"/>
<rect x="513.84" y="34.74" width="21.29" height="12.42" fill="#1c0c9a"/>
<rect x="534.53" y="34.74" width="6.51" height="12.42" fill="#1024ee"/>
<rect x="540.45" y="34.74" width="25.15" height="12.42" fill="#a0f000"/>
<rect x="301.00" y="46.56" width="12.42" height="7.99" fill="#1024ee"/>
<rect x="312.82" y="46.56" width="18.34" height="7.99" fill="#10e8ff"/>
<rect x="330.56" y="46.56" width="6.51" height="7.99" fill="#f8fa18"/>
<rect x="336.47" y="46.56" width="21.29" height="7.99" fill="#10e8ff"/>
<rect x="357.17" y="46.56" width="15.38" height="7.99" fill="#58066a"/>
<rect x="371.95" y="46.56" width="6.51" height="7.99" fill="#10e8ff"/>
<rect x="377.86" y="46.56" width="9.47" height="7.99" fill="#ff9a18"/>
<rect x="386.73" y="46.56" width="21.29" height="7.99" fill="#10e8ff"/>
<rect x="407.42" y="46.56" width="24.25" height="7.99" fill="#1024ee"/>
<rect x="431.07" y="46.56" width="18.34" height="7.99" fill="#20e0a0"/>
<rect x="448.81" y="46.56" width="12.42" height="7.99" fill="#10e8ff"/>
<rect x="460.63" y="46.56" width="12.42" height="7.99" fill="#1024ee"/>
<rect x="472.45" y="46.56" width="12.42" height="7.99" fill="#10e8ff"/>
<rect x="484.28" y="46.56" width="9.47" height="7.99" fill="#ff2a00"/>
<rect x="493.15" y="46.56" width="12.42" height="7.99" fill="#f8fa18"/>
<rect x="504.97" y="46.56" width="9.47" height="7.99" fill="#10e8ff"/>
<rect x="513.84" y="46.56" width="21.29" height="7.99" fill="#1024ee"/>
<rect x="534.53" y="46.56" width="6.51" height="7.99" fill="#10e8ff"/>
<rect x="540.45" y="46.56" width="25.15" height="7.99" fill="#10c830"/>
<rect x="301.00" y="53.95" width="15.38" height="22.77" fill="#58066a"/>
<rect x="315.78" y="53.95" width="15.38" height="22.77" fill="#1024ee"/>
<rect x="330.56" y="53.95" width="6.51" height="22.77" fill="#a0f000"/>
<rect x="336.47" y="53.95" width="18.34" height="22.77" fill="#10e8ff"/>
<rect x="354.21" y="53.95" width="18.34" height="22.77" fill="#58066a"/>
<rect x="371.95" y="53.95" width="6.51" height="22.77" fill="#1024ee"/>
<rect x="377.86" y="53.95" width="9.47" height="22.77" fill="#a0f000"/>
<rect x="386.73" y="53.95" width="9.47" height="22.77" fill="#10e8ff"/>
<rect x="395.60" y="53.95" width="12.42" height="22.77" fill="#1878ff"/>
<rect x="407.42" y="53.95" width="12.42" height="22.77" fill="#58066a"/>
<rect x="419.24" y="53.95" width="12.42" height="22.77" fill="#1c0c9a"/>
<rect x="431.07" y="53.95" width="9.47" height="22.77" fill="#10e8ff"/>
<rect x="439.94" y="53.95" width="9.47" height="22.77" fill="#10c830"/>
<rect x="448.81" y="53.95" width="9.47" height="22.77" fill="#10e8ff"/>
<rect x="457.67" y="53.95" width="12.42" height="22.77" fill="#1c0c9a"/>
<rect x="469.50" y="53.95" width="15.38" height="22.77" fill="#1878ff"/>
<rect x="484.28" y="53.95" width="12.42" height="22.77" fill="#ff2a00"/>
<rect x="496.10" y="53.95" width="9.47" height="22.77" fill="#f8fa18"/>
<rect x="504.97" y="53.95" width="9.47" height="22.77" fill="#10e8ff"/>
<rect x="513.84" y="53.95" width="24.25" height="22.77" fill="#1c0c9a"/>
<rect x="537.49" y="53.95" width="6.51" height="22.77" fill="#10e8ff"/>
<rect x="543.40" y="53.95" width="22.20" height="22.77" fill="#a0f000"/>
<rect x="301.00" y="76.12" width="18.34" height="15.38" fill="#1024ee"/>
<rect x="318.74" y="76.12" width="12.42" height="15.38" fill="#10e8ff"/>
<rect x="330.56" y="76.12" width="6.51" height="15.38" fill="#f8fa18"/>
<rect x="336.47" y="76.12" width="18.34" height="15.38" fill="#10e8ff"/>
<rect x="354.21" y="76.12" width="18.34" height="15.38" fill="#1c0c9a"/>
<rect x="371.95" y="76.12" width="6.51" height="15.38" fill="#1024ee"/>
<rect x="377.86" y="76.12" width="9.47" height="15.38" fill="#10c830"/>
<rect x="386.73" y="76.12" width="15.38" height="15.38" fill="#10e8ff"/>
<rect x="401.51" y="76.12" width="30.16" height="15.38" fill="#1024ee"/>
<rect x="431.07" y="76.12" width="9.47" height="15.38" fill="#10e8ff"/>
<rect x="439.94" y="76.12" width="9.47" height="15.38" fill="#a0f000"/>
<rect x="448.81" y="76.12" width="18.34" height="15.38" fill="#10e8ff"/>
<rect x="466.54" y="76.12" width="18.34" height="15.38" fill="#1878ff"/>
<rect x="484.28" y="76.12" width="12.42" height="15.38" fill="#ff2a00"/>
<rect x="496.10" y="76.12" width="9.47" height="15.38" fill="#f8fa18"/>
<rect x="504.97" y="76.12" width="9.47" height="15.38" fill="#10e8ff"/>
<rect x="513.84" y="76.12" width="24.25" height="15.38" fill="#1878ff"/>
<rect x="537.49" y="76.12" width="28.11" height="15.38" fill="#20e0a0"/>
<rect x="301.00" y="90.90" width="12.42" height="15.97" fill="#10e8ff"/>
<rect x="312.82" y="90.90" width="18.34" height="15.97" fill="#20e0a0"/>
<rect x="330.56" y="90.90" width="9.47" height="15.97" fill="#ff2a00"/>
<rect x="339.43" y="90.90" width="15.38" height="15.97" fill="#20e0a0"/>
<rect x="354.21" y="90.90" width="18.34" height="15.97" fill="#1878ff"/>
<rect x="371.95" y="90.90" width="9.47" height="15.97" fill="#10e8ff"/>
<rect x="380.82" y="90.90" width="9.47" height="15.97" fill="#a00000"/>
<rect x="389.68" y="90.90" width="18.34" height="15.97" fill="#20e0a0"/>
<rect x="407.42" y="90.90" width="24.25" height="15.97" fill="#20e0a0"/>
<rect x="431.07" y="90.90" width="18.34" height="15.97" fill="#ff9a18"/>
<rect x="448.81" y="90.90" width="18.34" height="15.97" fill="#a0f000"/>
<rect x="466.54" y="90.90" width="18.34" height="15.97" fill="#20e0a0"/>
<rect x="484.28" y="90.90" width="12.42" height="15.97" fill="#ff2a00"/>
<rect x="496.10" y="90.90" width="12.42" height="15.97" fill="#ff9a18"/>
<rect x="507.93" y="90.90" width="18.34" height="15.97" fill="#20e0a0"/>
<rect x="525.67" y="90.90" width="12.42" height="15.97" fill="#10c830"/>
<rect x="537.49" y="90.90" width="28.11" height="15.97" fill="#ff9a18"/>
<rect x="301.00" y="106.27" width="18.34" height="4.44" fill="#58066a"/>
<rect x="318.74" y="106.27" width="12.42" height="4.44" fill="#1024ee"/>
<rect x="330.56" y="106.27" width="9.47" height="4.44" fill="#ff9a18"/>
<rect x="339.43" y="106.27" width="15.38" height="4.44" fill="#1024ee"/>
<rect x="354.21" y="106.27" width="18.34" height="4.44" fill="#58066a"/>
<rect x="371.95" y="106.27" width="9.47" height="4.44" fill="#1024ee"/>
<rect x="380.82" y="106.27" width="9.47" height="4.44" fill="#ff9a18"/>
<rect x="389.68" y="106.27" width="18.34" height="4.44" fill="#1024ee"/>
<rect x="407.42" y="106.27" width="18.34" height="4.44" fill="#1c0c9a"/>
<rect x="425.16" y="106.27" width="18.34" height="4.44" fill="#1024ee"/>
<rect x="442.89" y="106.27" width="12.42" height="4.44" fill="#10e8ff"/>
<rect x="454.72" y="106.27" width="15.38" height="4.44" fill="#58066a"/>
<rect x="469.50" y="106.27" width="12.42" height="4.44" fill="#1024ee"/>
<rect x="481.32" y="106.27" width="12.42" height="4.44" fill="#ff2a00"/>
<rect x="493.15" y="106.27" width="15.38" height="4.44" fill="#10e8ff"/>
<rect x="507.93" y="106.27" width="18.34" height="4.44" fill="#1c0c9a"/>
<rect x="525.67" y="106.27" width="15.38" height="4.44" fill="#1024ee"/>
<rect x="540.45" y="106.27" width="25.15" height="4.44" fill="#20e0a0"/>
<rect x="301.00" y="110.12" width="18.34" height="9.47" fill="#1c0c9a"/>
<rect x="318.74" y="110.12" width="12.42" height="9.47" fill="#10e8ff"/>
<rect x="330.56" y="110.12" width="9.47" height="9.47" fill="#ff9a18"/>
<rect x="339.43" y="110.12" width="15.38" height="9.47" fill="#10e8ff"/>
<rect x="354.21" y="110.12" width="18.34" height="9.47" fill="#1c0c9a"/>
<rect x="371.95" y="110.12" width="9.47" height="9.47" fill="#10e8ff"/>
<rect x="380.82" y="110.12" width="9.47" height="9.47" fill="#f8fa18"/>
<rect x="389.68" y="110.12" width="18.34" height="9.47" fill="#10e8ff"/>
<rect x="407.42" y="110.12" width="24.25" height="9.47" fill="#1878ff"/>
<rect x="431.07" y="110.12" width="24.25" height="9.47" fill="#10e8ff"/>
<rect x="454.72" y="110.12" width="18.34" height="9.47" fill="#1c0c9a"/>
<rect x="472.45" y="110.12" width="9.47" height="9.47" fill="#10e8ff"/>
<rect x="481.32" y="110.12" width="12.42" height="9.47" fill="#ff9a18"/>
<rect x="493.15" y="110.12" width="15.38" height="9.47" fill="#10e8ff"/>
<rect x="507.93" y="110.12" width="24.25" height="9.47" fill="#1c0c9a"/>
<rect x="531.58" y="110.12" width="12.42" height="9.47" fill="#10e8ff"/>
<rect x="543.40" y="110.12" width="22.20" height="9.47" fill="#10c830"/>
<rect x="38.00" y="30.70" width="22.90" height="19.90" fill="#58066a"/>
<rect x="60.30" y="30.70" width="6.40" height="19.90" fill="#1060ff"/>
<rect x="66.10" y="30.70" width="12.10" height="19.90" fill="#1c0c9a"/>
<rect x="77.60" y="30.70" width="17.80" height="19.90" fill="#1024ee"/>
<rect x="94.80" y="30.70" width="12.10" height="19.90" fill="#58066a"/>
<rect x="106.30" y="30.70" width="19.80" height="19.90" fill="#1024ee"/>
<rect x="125.50" y="30.70" width="8.20" height="19.90" fill="#20e0a0"/>
<rect x="133.10" y="30.70" width="12.10" height="19.90" fill="#1024ee"/>
<rect x="144.60" y="30.70" width="10.20" height="19.90" fill="#58066a"/>
<rect x="154.20" y="30.70" width="10.20" height="19.90" fill="#1024ee"/>
<rect x="163.80" y="30.70" width="9.80" height="19.90" fill="#1c0c9a"/>
<rect x="173.00" y="30.70" width="11.60" height="19.90" fill="#1060ff"/>
<rect x="184.00" y="30.70" width="6.60" height="19.90" fill="#10c830"/>
<rect x="190.00" y="30.70" width="5.60" height="19.90" fill="#10e8ff"/>
<rect x="195.00" y="30.70" width="5.60" height="19.90" fill="#1c0c9a"/>
<rect x="200.00" y="30.70" width="15.60" height="19.90" fill="#58066a"/>
<rect x="215.00" y="30.70" width="5.60" height="19.90" fill="#1c0c9a"/>
<rect x="220.00" y="30.70" width="10.60" height="19.90" fill="#58066a"/>
<rect x="230.00" y="30.70" width="2.60" height="19.90" fill="#1c0c9a"/>
<rect x="232.00" y="30.70" width="9.60" height="19.90" fill="#a0f000"/>
<rect x="241.00" y="30.70" width="8.60" height="19.90" fill="#10e8ff"/>
<rect x="249.00" y="30.70" width="16.60" height="19.90" fill="#58066a"/>
<rect x="265.00" y="30.70" width="13.60" height="19.90" fill="#1c0c9a"/>
<rect x="278.00" y="30.70" width="8.60" height="19.90" fill="#ff9a18"/>
<rect x="286.00" y="30.70" width="15.60" height="19.90" fill="#1024ee"/>
<rect x="301.00" y="30.70" width="4.40" height="19.90" fill="#1024ee"/>
<rect x="304.80" y="30.70" width="14.00" height="19.90" fill="#58066a"/>
<rect x="318.20" y="30.70" width="12.10" height="19.90" fill="#1c0c9a"/>
<rect x="329.70" y="30.70" width="6.40" height="19.90" fill="#ff9a18"/>
<rect x="335.50" y="30.70" width="6.30" height="19.90" fill="#10e8ff"/>
<rect x="341.20" y="30.70" width="16.00" height="19.90" fill="#1024ee"/>
<rect x="356.60" y="30.70" width="14.00" height="19.90" fill="#58066a"/>
<rect x="370.00" y="30.70" width="8.20" height="19.90" fill="#1024ee"/>
<rect x="377.60" y="30.70" width="12.10" height="19.90" fill="#ff2a00"/>
<rect x="389.10" y="30.70" width="6.40" height="19.90" fill="#10e8ff"/>
<rect x="394.90" y="30.70" width="10.20" height="19.90" fill="#1024ee"/>
<rect x="404.50" y="30.70" width="12.10" height="19.90" fill="#1c0c9a"/>
<rect x="416.00" y="30.70" width="13.60" height="19.90" fill="#1c0c9a"/>
<rect x="429.00" y="30.70" width="6.30" height="19.90" fill="#1024ee"/>
<rect x="434.70" y="30.70" width="6.40" height="19.90" fill="#10e8ff"/>
<rect x="440.50" y="30.70" width="8.30" height="19.90" fill="#f8fa18"/>
<rect x="448.20" y="30.70" width="8.20" height="19.90" fill="#10e8ff"/>
<rect x="455.80" y="30.70" width="4.50" height="19.90" fill="#1c0c9a"/>
<rect x="459.70" y="30.70" width="8.20" height="19.90" fill="#58066a"/>
<rect x="467.30" y="30.70" width="2.50" height="19.90" fill="#1c0c9a"/>
<rect x="469.20" y="30.70" width="10.20" height="19.90" fill="#1024ee"/>
<rect x="478.80" y="30.70" width="4.50" height="19.90" fill="#10e8ff"/>
<rect x="482.70" y="30.70" width="12.00" height="19.90" fill="#ff2a00"/>
<rect x="494.10" y="30.70" width="6.40" height="19.90" fill="#f8fa18"/>
<rect x="499.90" y="30.70" width="6.30" height="19.90" fill="#10e8ff"/>
<rect x="505.60" y="30.70" width="6.40" height="19.90" fill="#1024ee"/>
<rect x="511.40" y="30.70" width="19.80" height="19.90" fill="#1c0c9a"/>
<rect x="530.60" y="30.70" width="8.20" height="19.90" fill="#1024ee"/>
<rect x="538.20" y="30.70" width="4.40" height="19.90" fill="#10e8ff"/>
<rect x="542.00" y="30.70" width="4.50" height="19.90" fill="#ff9a18"/>
<rect x="545.90" y="30.70" width="19.70" height="19.90" fill="#10c830"/>
<rect x="38.00" y="50.00" width="15.30" height="29.20" fill="#58066a"/>
<rect x="52.70" y="50.00" width="10.10" height="29.20" fill="#1024ee"/>
<rect x="62.20" y="50.00" width="4.50" height="29.20" fill="#10e8ff"/>
<rect x="66.10" y="50.00" width="4.40" height="29.20" fill="#1c0c9a"/>
<rect x="69.90" y="50.00" width="4.40" height="29.20" fill="#10e8ff"/>
<rect x="73.70" y="50.00" width="4.50" height="29.20" fill="#1c0c9a"/>
<rect x="77.60" y="50.00" width="19.70" height="29.20" fill="#1060ff"/>
<rect x="96.70" y="50.00" width="10.20" height="29.20" fill="#58066a"/>
<rect x="106.30" y="50.00" width="10.20" height="29.20" fill="#1060ff"/>
<rect x="115.90" y="50.00" width="10.20" height="29.20" fill="#1024ee"/>
<rect x="125.50" y="50.00" width="10.20" height="29.20" fill="#10e8ff"/>
<rect x="135.10" y="50.00" width="10.10" height="29.20" fill="#1060ff"/>
<rect x="144.60" y="50.00" width="8.30" height="29.20" fill="#58066a"/>
<rect x="152.30" y="50.00" width="8.30" height="29.20" fill="#1024ee"/>
<rect x="160.00" y="50.00" width="13.60" height="29.20" fill="#1060ff"/>
<rect x="173.00" y="50.00" width="11.60" height="29.20" fill="#1060ff"/>
<rect x="184.00" y="50.00" width="6.60" height="29.20" fill="#10c830"/>
<rect x="190.00" y="50.00" width="7.60" height="29.20" fill="#10e8ff"/>
<rect x="197.00" y="50.00" width="8.60" height="29.20" fill="#1024ee"/>
<rect x="205.00" y="50.00" width="10.60" height="29.20" fill="#1c0c9a"/>
<rect x="215.00" y="50.00" width="10.60" height="29.20" fill="#58066a"/>
<rect x="225.00" y="50.00" width="7.60" height="29.20" fill="#1024ee"/>
<rect x="232.00" y="50.00" width="9.60" height="29.20" fill="#10c830"/>
<rect x="241.00" y="50.00" width="8.60" height="29.20" fill="#10e8ff"/>
<rect x="249.00" y="50.00" width="7.60" height="29.20" fill="#1024ee"/>
<rect x="256.00" y="50.00" width="6.60" height="29.20" fill="#58066a"/>
<rect x="262.00" y="50.00" width="13.60" height="29.20" fill="#1c0c9a"/>
<rect x="275.00" y="50.00" width="3.60" height="29.20" fill="#1024ee"/>
<rect x="278.00" y="50.00" width="8.60" height="29.20" fill="#ff9a18"/>
<rect x="286.00" y="50.00" width="15.60" height="29.20" fill="#10e8ff"/>
<rect x="301.00" y="50.00" width="4.40" height="29.20" fill="#1024ee"/>
<rect x="304.80" y="50.00" width="12.10" height="29.20" fill="#58066a"/>
<rect x="316.30" y="50.00" width="10.20" height="29.20" fill="#1024ee"/>
<rect x="325.90" y="50.00" width="4.40" height="29.20" fill="#10e8ff"/>
<rect x="329.70" y="50.00" width="6.40" height="29.20" fill="#ff9a18"/>
<rect x="335.50" y="50.00" width="4.40" height="29.20" fill="#20e0a0"/>
<rect x="339.30" y="50.00" width="17.90" height="29.20" fill="#1060ff"/>
<rect x="356.60" y="50.00" width="4.40" height="29.20" fill="#1024ee"/>
<rect x="360.40" y="50.00" width="8.30" height="29.20" fill="#58066a"/>
<rect x="368.10" y="50.00" width="6.30" height="29.20" fill="#1024ee"/>
<rect x="373.80" y="50.00" width="4.40" height="29.20" fill="#10e8ff"/>
<rect x="377.60" y="50.00" width="12.10" height="29.20" fill="#f8fa18"/>
<rect x="389.10" y="50.00" width="6.40" height="29.20" fill="#10e8ff"/>
<rect x="394.90" y="50.00" width="10.20" height="29.20" fill="#1060ff"/>
<rect x="404.50" y="50.00" width="12.10" height="29.20" fill="#58066a"/>
<rect x="416.00" y="50.00" width="13.60" height="29.20" fill="#1060ff"/>
<rect x="429.00" y="50.00" width="4.40" height="29.20" fill="#1024ee"/>
<rect x="432.80" y="50.00" width="6.40" height="29.20" fill="#10e8ff"/>
<rect x="438.60" y="50.00" width="12.10" height="29.20" fill="#10c830"/>
<rect x="450.10" y="50.00" width="8.20" height="29.20" fill="#10e8ff"/>
<rect x="457.70" y="50.00" width="2.60" height="29.20" fill="#1c0c9a"/>
<rect x="459.70" y="50.00" width="5.90" height="29.20" fill="#58066a"/>
<rect x="465.00" y="50.00" width="4.80" height="29.20" fill="#1c0c9a"/>
<rect x="469.20" y="50.00" width="10.20" height="29.20" fill="#1060ff"/>
<rect x="478.80" y="50.00" width="4.50" height="29.20" fill="#10e8ff"/>
<rect x="482.70" y="50.00" width="10.10" height="29.20" fill="#ff2a00"/>
<rect x="492.20" y="50.00" width="6.40" height="29.20" fill="#f8fa18"/>
<rect x="498.00" y="50.00" width="8.20" height="29.20" fill="#10e8ff"/>
<rect x="505.60" y="50.00" width="8.30" height="29.20" fill="#1024ee"/>
<rect x="513.30" y="50.00" width="17.90" height="29.20" fill="#1c0c9a"/>
<rect x="530.60" y="50.00" width="8.20" height="29.20" fill="#1024ee"/>
<rect x="538.20" y="50.00" width="4.40" height="29.20" fill="#10e8ff"/>
<rect x="542.00" y="50.00" width="4.50" height="29.20" fill="#f8fa18"/>
<rect x="545.90" y="50.00" width="19.70" height="29.20" fill="#10c830"/>
<rect x="38.00" y="78.60" width="15.30" height="13.00" fill="#1024ee"/>
<rect x="52.70" y="78.60" width="12.10" height="13.00" fill="#10e8ff"/>
<rect x="64.20" y="78.60" width="6.30" height="13.00" fill="#1024ee"/>
<rect x="69.90" y="78.60" width="8.30" height="13.00" fill="#10e8ff"/>
<rect x="77.60" y="78.60" width="12.10" height="13.00" fill="#f8fa18"/>
<rect x="89.10" y="78.60" width="8.20" height="13.00" fill="#10e8ff"/>
<rect x="96.70" y="78.60" width="10.20" height="13.00" fill="#1c0c9a"/>
<rect x="106.30" y="78.60" width="8.30" height="13.00" fill="#10e8ff"/>
<rect x="114.00" y="78.60" width="10.20" height="13.00" fill="#1060ff"/>
<rect x="123.60" y="78.60" width="21.60" height="13.00" fill="#10e8ff"/>
<rect x="144.60" y="78.60" width="8.30" height="13.00" fill="#1c0c9a"/>
<rect x="152.30" y="78.60" width="8.30" height="13.00" fill="#1024ee"/>
<rect x="160.00" y="78.60" width="13.60" height="13.00" fill="#10e8ff"/>
<rect x="173.00" y="78.60" width="11.60" height="13.00" fill="#10e8ff"/>
<rect x="184.00" y="78.60" width="6.60" height="13.00" fill="#10c830"/>
<rect x="190.00" y="78.60" width="10.60" height="13.00" fill="#10e8ff"/>
<rect x="200.00" y="78.60" width="10.60" height="13.00" fill="#1024ee"/>
<rect x="210.00" y="78.60" width="15.60" height="13.00" fill="#1c0c9a"/>
<rect x="225.00" y="78.60" width="3.60" height="13.00" fill="#1024ee"/>
<rect x="228.00" y="78.60" width="4.60" height="13.00" fill="#10e8ff"/>
<rect x="232.00" y="78.60" width="9.60" height="13.00" fill="#f8fa18"/>
<rect x="241.00" y="78.60" width="11.60" height="13.00" fill="#10e8ff"/>
<rect x="252.00" y="78.60" width="10.60" height="13.00" fill="#1024ee"/>
<rect x="262.00" y="78.60" width="10.60" height="13.00" fill="#1c0c9a"/>
<rect x="272.00" y="78.60" width="6.60" height="13.00" fill="#10e8ff"/>
<rect x="278.00" y="78.60" width="8.60" height="13.00" fill="#ff9a18"/>
<rect x="286.00" y="78.60" width="15.60" height="13.00" fill="#10e8ff"/>
<rect x="301.00" y="78.60" width="12.10" height="13.00" fill="#1024ee"/>
<rect x="312.50" y="78.60" width="12.10" height="13.00" fill="#1060ff"/>
<rect x="324.00" y="78.60" width="6.30" height="13.00" fill="#10e8ff"/>
<rect x="329.70" y="78.60" width="8.30" height="13.00" fill="#ff9a18"/>
<rect x="337.40" y="78.60" width="19.80" height="13.00" fill="#20e0a0"/>
<rect x="356.60" y="78.60" width="10.10" height="13.00" fill="#1c0c9a"/>
<rect x="366.10" y="78.60" width="8.30" height="13.00" fill="#10e8ff"/>
<rect x="373.80" y="78.60" width="6.40" height="13.00" fill="#10c830"/>
<rect x="379.60" y="78.60" width="10.10" height="13.00" fill="#ff2a00"/>
<rect x="389.10" y="78.60" width="6.40" height="13.00" fill="#a0f000"/>
<rect x="394.90" y="78.60" width="14.00" height="13.00" fill="#20e0a0"/>
<rect x="408.30" y="78.60" width="10.20" height="13.00" fill="#1060ff"/>
<rect x="417.90" y="78.60" width="11.70" height="13.00" fill="#20e0a0"/>
<rect x="429.00" y="78.60" width="6.30" height="13.00" fill="#10e8ff"/>
<rect x="434.70" y="78.60" width="2.60" height="13.00" fill="#f8fa18"/>
<rect x="436.70" y="78.60" width="10.10" height="13.00" fill="#ff9a18"/>
<rect x="446.20" y="78.60" width="10.20" height="13.00" fill="#10c830"/>
<rect x="455.80" y="78.60" width="12.10" height="13.00" fill="#1024ee"/>
<rect x="467.30" y="78.60" width="12.10" height="13.00" fill="#1060ff"/>
<rect x="478.80" y="78.60" width="4.50" height="13.00" fill="#10e8ff"/>
<rect x="482.70" y="78.60" width="15.90" height="13.00" fill="#ff2a00"/>
<rect x="498.00" y="78.60" width="8.20" height="13.00" fill="#20e0a0"/>
<rect x="505.60" y="78.60" width="31.30" height="13.00" fill="#1060ff"/>
<rect x="536.30" y="78.60" width="6.30" height="13.00" fill="#10e8ff"/>
<rect x="542.00" y="78.60" width="6.40" height="13.00" fill="#ff9a18"/>
<rect x="547.80" y="78.60" width="17.80" height="13.00" fill="#a0f000"/>
<rect x="38.00" y="91.00" width="26.80" height="13.60" fill="#10e8ff"/>
<rect x="64.20" y="91.00" width="14.00" height="13.60" fill="#20e0a0"/>
<rect x="77.60" y="91.00" width="15.90" height="13.60" fill="#f8fa18"/>
<rect x="92.90" y="91.00" width="8.30" height="13.60" fill="#10e8ff"/>
<rect x="100.60" y="91.00" width="6.30" height="13.60" fill="#1024ee"/>
<rect x="106.30" y="91.00" width="19.80" height="13.60" fill="#20e0a0"/>
<rect x="125.50" y="91.00" width="10.20" height="13.60" fill="#a0f000"/>
<rect x="135.10" y="91.00" width="14.00" height="13.60" fill="#10e8ff"/>
<rect x="148.50" y="91.00" width="6.30" height="13.60" fill="#1024ee"/>
<rect x="154.20" y="91.00" width="19.40" height="13.60" fill="#20e0a0"/>
<rect x="173.00" y="91.00" width="11.60" height="13.60" fill="#a0f000"/>
<rect x="184.00" y="91.00" width="6.60" height="13.60" fill="#f8fa18"/>
<rect x="190.00" y="91.00" width="15.60" height="13.60" fill="#20e0a0"/>
<rect x="205.00" y="91.00" width="20.60" height="13.60" fill="#1024ee"/>
<rect x="225.00" y="91.00" width="7.60" height="13.60" fill="#10e8ff"/>
<rect x="232.00" y="91.00" width="9.60" height="13.60" fill="#f8fa18"/>
<rect x="241.00" y="91.00" width="11.60" height="13.60" fill="#10c830"/>
<rect x="252.00" y="91.00" width="18.60" height="13.60" fill="#1878ff"/>
<rect x="270.00" y="91.00" width="8.60" height="13.60" fill="#10e8ff"/>
<rect x="278.00" y="91.00" width="8.60" height="13.60" fill="#ff9a18"/>
<rect x="286.00" y="91.00" width="15.60" height="13.60" fill="#20e0a0"/>
<rect x="301.00" y="91.00" width="12.10" height="13.60" fill="#1878ff"/>
<rect x="312.50" y="91.00" width="17.80" height="13.60" fill="#10e8ff"/>
<rect x="329.70" y="91.00" width="10.20" height="13.60" fill="#ff2a00"/>
<rect x="339.30" y="91.00" width="10.20" height="13.60" fill="#a0f000"/>
<rect x="348.90" y="91.00" width="8.30" height="13.60" fill="#10e8ff"/>
<rect x="356.60" y="91.00" width="10.10" height="13.60" fill="#1024ee"/>
<rect x="366.10" y="91.00" width="10.20" height="13.60" fill="#10e8ff"/>
<rect x="375.70" y="91.00" width="6.40" height="13.60" fill="#f8fa18"/>
<rect x="381.50" y="91.00" width="8.20" height="13.60" fill="#a00000"/>
<rect x="389.10" y="91.00" width="8.30" height="13.60" fill="#a0f000"/>
<rect x="396.80" y="91.00" width="12.10" height="13.60" fill="#20e0a0"/>
<rect x="408.30" y="91.00" width="8.30" height="13.60" fill="#a0f000"/>
<rect x="416.00" y="91.00" width="13.60" height="13.60" fill="#f8fa18"/>
<rect x="429.00" y="91.00" width="6.30" height="13.60" fill="#20e0a0"/>
<rect x="434.70" y="91.00" width="14.10" height="13.60" fill="#ff9a18"/>
<rect x="448.20" y="91.00" width="8.20" height="13.60" fill="#a0f000"/>
<rect x="455.80" y="91.00" width="12.10" height="13.60" fill="#1878ff"/>
<rect x="467.30" y="91.00" width="12.10" height="13.60" fill="#10c830"/>
<rect x="478.80" y="91.00" width="4.50" height="13.60" fill="#10e8ff"/>
<rect x="482.70" y="91.00" width="15.90" height="13.60" fill="#ff2a00"/>
<rect x="498.00" y="91.00" width="8.20" height="13.60" fill="#a0f000"/>
<rect x="505.60" y="91.00" width="14.10" height="13.60" fill="#10e8ff"/>
<rect x="519.10" y="91.00" width="6.30" height="13.60" fill="#10c830"/>
<rect x="524.80" y="91.00" width="19.80" height="13.60" fill="#10e8ff"/>
<rect x="544.00" y="91.00" width="8.20" height="13.60" fill="#ff9a18"/>
<rect x="551.60" y="91.00" width="14.00" height="13.60" fill="#f8fa18"/>
<rect x="38.00" y="107.50" width="22.90" height="9.60" fill="#58066a"/>
<rect x="60.30" y="107.50" width="14.00" height="9.60" fill="#1c0c9a"/>
<rect x="73.70" y="107.50" width="6.40" height="9.60" fill="#1024ee"/>
<rect x="79.50" y="107.50" width="15.90" height="9.60" fill="#1878ff"/>
<rect x="94.80" y="107.50" width="12.10" height="9.60" fill="#58066a"/>
<rect x="106.30" y="107.50" width="19.80" height="9.60" fill="#1024ee"/>
<rect x="125.50" y="107.50" width="12.10" height="9.60" fill="#1878ff"/>
<rect x="137.00" y="107.50" width="8.20" height="9.60" fill="#1c0c9a"/>
<rect x="144.60" y="107.50" width="16.00" height="9.60" fill="#58066a"/>
<rect x="160.00" y="107.50" width="4.40" height="9.60" fill="#1c0c9a"/>
<rect x="163.80" y="107.50" width="9.80" height="9.60" fill="#1024ee"/>
<rect x="38.00" y="116.50" width="15.30" height="6.30" fill="#1878ff"/>
<rect x="52.70" y="116.50" width="8.20" height="6.30" fill="#10e8ff"/>
<rect x="60.30" y="116.50" width="16.00" height="6.30" fill="#20e0a0"/>
<rect x="75.70" y="116.50" width="17.80" height="6.30" fill="#10c830"/>
<rect x="92.90" y="116.50" width="8.30" height="6.30" fill="#10e8ff"/>
<rect x="100.60" y="116.50" width="4.40" height="6.30" fill="#1024ee"/>
<rect x="104.40" y="116.50" width="6.30" height="6.30" fill="#10e8ff"/>
<rect x="110.10" y="116.50" width="16.00" height="6.30" fill="#10c830"/>
<rect x="125.50" y="116.50" width="12.10" height="6.30" fill="#20e0a0"/>
<rect x="137.00" y="116.50" width="15.90" height="6.30" fill="#10e8ff"/>
<rect x="152.30" y="116.50" width="15.90" height="6.30" fill="#1878ff"/>
<rect x="167.60" y="116.50" width="6.00" height="6.30" fill="#10e8ff"/>
<rect x="38.00" y="122.20" width="11.40" height="9.20" fill="#10e8ff"/>
<rect x="48.80" y="122.20" width="8.30" height="9.20" fill="#10c830"/>
<rect x="56.50" y="122.20" width="14.00" height="9.20" fill="#a0f000"/>
<rect x="69.90" y="122.20" width="10.20" height="9.20" fill="#10c830"/>
<rect x="79.50" y="122.20" width="4.40" height="9.20" fill="#ff9a18"/>
<rect x="83.30" y="122.20" width="14.00" height="9.20" fill="#a0f000"/>
<rect x="96.70" y="122.20" width="4.50" height="9.20" fill="#10e8ff"/>
<rect x="100.60" y="122.20" width="4.40" height="9.20" fill="#1024ee"/>
<rect x="104.40" y="122.20" width="6.30" height="9.20" fill="#10e8ff"/>
<rect x="110.10" y="122.20" width="16.00" height="9.20" fill="#a0f000"/>
<rect x="125.50" y="122.20" width="6.30" height="9.20" fill="#10c830"/>
<rect x="131.20" y="122.20" width="6.40" height="9.20" fill="#ff9a18"/>
<rect x="137.00" y="122.20" width="8.20" height="9.20" fill="#f8fa18"/>
<rect x="144.60" y="122.20" width="8.30" height="9.20" fill="#10c830"/>
<rect x="152.30" y="122.20" width="8.30" height="9.20" fill="#10e8ff"/>
<rect x="160.00" y="122.20" width="13.60" height="9.20" fill="#10c830"/>
<rect x="38.00" y="130.80" width="15.30" height="16.00" fill="#10e8ff"/>
<rect x="52.70" y="130.80" width="12.10" height="16.00" fill="#10c830"/>
<rect x="64.20" y="130.80" width="8.20" height="16.00" fill="#20e0a0"/>
<rect x="71.80" y="130.80" width="6.40" height="16.00" fill="#10c830"/>
<rect x="77.60" y="130.80" width="6.30" height="16.00" fill="#ff9a18"/>
<rect x="83.30" y="130.80" width="12.10" height="16.00" fill="#a0f000"/>
<rect x="94.80" y="130.80" width="6.40" height="16.00" fill="#10e8ff"/>
<rect x="100.60" y="130.80" width="4.40" height="16.00" fill="#1024ee"/>
<rect x="104.40" y="130.80" width="6.30" height="16.00" fill="#10e8ff"/>
<rect x="110.10" y="130.80" width="16.00" height="16.00" fill="#a0f000"/>
<rect x="125.50" y="130.80" width="8.20" height="16.00" fill="#10c830"/>
<rect x="133.10" y="130.80" width="4.50" height="16.00" fill="#f8fa18"/>
<rect x="137.00" y="130.80" width="12.10" height="16.00" fill="#20e0a0"/>
<rect x="148.50" y="130.80" width="12.10" height="16.00" fill="#10e8ff"/>
<rect x="160.00" y="130.80" width="13.60" height="16.00" fill="#10c830"/>
<rect x="38.00" y="146.20" width="15.30" height="15.90" fill="#20e0a0"/>
<rect x="52.70" y="146.20" width="8.20" height="15.90" fill="#10e8ff"/>
<rect x="60.30" y="146.20" width="12.10" height="15.90" fill="#20e0a0"/>
<rect x="71.80" y="146.20" width="8.30" height="15.90" fill="#10c830"/>
<rect x="79.50" y="146.20" width="4.40" height="15.90" fill="#f8fa18"/>
<rect x="83.30" y="146.20" width="14.00" height="15.90" fill="#a0f000"/>
<rect x="96.70" y="146.20" width="4.50" height="15.90" fill="#10e8ff"/>
<rect x="100.60" y="146.20" width="4.40" height="15.90" fill="#1024ee"/>
<rect x="104.40" y="146.20" width="6.30" height="15.90" fill="#10e8ff"/>
<rect x="110.10" y="146.20" width="16.00" height="15.90" fill="#20e0a0"/>
<rect x="125.50" y="146.20" width="8.20" height="15.90" fill="#20e0a0"/>
<rect x="133.10" y="146.20" width="4.50" height="15.90" fill="#10c830"/>
<rect x="137.00" y="146.20" width="12.10" height="15.90" fill="#10e8ff"/>
<rect x="148.50" y="146.20" width="12.10" height="15.90" fill="#20e0a0"/>
<rect x="160.00" y="146.20" width="13.60" height="15.90" fill="#20e0a0"/>
<rect x="38.00" y="161.50" width="15.30" height="13.10" fill="#10c830"/>
<rect x="52.70" y="161.50" width="12.10" height="13.10" fill="#a0f000"/>
<rect x="64.20" y="161.50" width="10.10" height="13.10" fill="#20e0a0"/>
<rect x="73.70" y="161.50" width="19.80" height="13.10" fill="#a0f000"/>
<rect x="92.90" y="161.50" width="8.30" height="13.10" fill="#10e8ff"/>
<rect x="100.60" y="161.50" width="4.40" height="13.10" fill="#1024ee"/>
<rect x="104.40" y="161.50" width="6.30" height="13.10" fill="#10e8ff"/>
<rect x="110.10" y="161.50" width="16.00" height="13.10" fill="#10c830"/>
<rect x="125.50" y="161.50" width="12.10" height="13.10" fill="#f8fa18"/>
<rect x="137.00" y="161.50" width="15.90" height="13.10" fill="#20e0a0"/>
<rect x="152.30" y="161.50" width="15.90" height="13.10" fill="#10c830"/>
<rect x="167.60" y="161.50" width="6.00" height="13.10" fill="#10e8ff"/>
<rect x="38.00" y="174.00" width="11.40" height="13.60" fill="#f8fa18"/>
<rect x="48.80" y="174.00" width="16.00" height="13.60" fill="#ff9a18"/>
<rect x="64.20" y="174.00" width="12.10" height="13.60" fill="#f8fa18"/>
<rect x="75.70" y="174.00" width="15.90" height="13.60" fill="#ff2a00"/>
<rect x="91.00" y="174.00" width="10.20" height="13.60" fill="#f8fa18"/>
<rect x="100.60" y="174.00" width="4.40" height="13.60" fill="#20e0a0"/>
<rect x="104.40" y="174.00" width="6.30" height="13.60" fill="#10c830"/>
<rect x="110.10" y="174.00" width="16.00" height="13.60" fill="#f8fa18"/>
<rect x="125.50" y="174.00" width="15.90" height="13.60" fill="#ff9a18"/>
<rect x="140.80" y="174.00" width="12.10" height="13.60" fill="#f8fa18"/>
<rect x="152.30" y="174.00" width="8.30" height="13.60" fill="#ff9a18"/>
<rect x="160.00" y="174.00" width="13.60" height="13.60" fill="#f8fa18"/>
<rect x="173.00" y="107.50" width="6.30" height="14.30" fill="#10e8ff"/>
<rect x="178.70" y="107.50" width="12.10" height="14.30" fill="#20e0a0"/>
<rect x="190.20" y="107.50" width="10.20" height="14.30" fill="#1c0c9a"/>
<rect x="199.80" y="107.50" width="17.90" height="14.30" fill="#58066a"/>
<rect x="217.10" y="107.50" width="6.30" height="14.30" fill="#1c0c9a"/>
<rect x="222.80" y="107.50" width="6.40" height="14.30" fill="#58066a"/>
<rect x="228.60" y="107.50" width="4.40" height="14.30" fill="#10e8ff"/>
<rect x="232.40" y="107.50" width="14.00" height="14.30" fill="#20e0a0"/>
<rect x="245.80" y="107.50" width="4.40" height="14.30" fill="#10e8ff"/>
<rect x="249.60" y="107.50" width="8.30" height="14.30" fill="#1c0c9a"/>
<rect x="257.30" y="107.50" width="15.90" height="14.30" fill="#58066a"/>
<rect x="272.60" y="107.50" width="4.50" height="14.30" fill="#1c0c9a"/>
<rect x="276.50" y="107.50" width="4.40" height="14.30" fill="#1024ee"/>
<rect x="280.30" y="107.50" width="4.40" height="14.30" fill="#20e0a0"/>
<rect x="284.10" y="107.50" width="6.40" height="14.30" fill="#10e8ff"/>
<rect x="289.90" y="107.50" width="11.70" height="14.30" fill="#1878ff"/>
<rect x="173.00" y="121.20" width="12.10" height="10.20" fill="#ff9a18"/>
<rect x="184.50" y="121.20" width="8.30" height="10.20" fill="#f8fa18"/>
<rect x="192.20" y="121.20" width="12.10" height="10.20" fill="#10c830"/>
<rect x="203.70" y="121.20" width="25.50" height="10.20" fill="#20e0a0"/>
<rect x="228.60" y="121.20" width="14.00" height="10.20" fill="#ff9a18"/>
<rect x="242.00" y="121.20" width="8.20" height="10.20" fill="#f8fa18"/>
<rect x="249.60" y="121.20" width="10.20" height="10.20" fill="#10e8ff"/>
<rect x="259.20" y="121.20" width="21.70" height="10.20" fill="#a0f000"/>
<rect x="280.30" y="121.20" width="6.30" height="10.20" fill="#ff9a18"/>
<rect x="286.00" y="121.20" width="15.60" height="10.20" fill="#a0f000"/>
<rect x="173.00" y="130.80" width="8.30" height="16.00" fill="#ff9a18"/>
<rect x="180.70" y="130.80" width="10.10" height="16.00" fill="#a0f000"/>
<rect x="190.20" y="130.80" width="14.10" height="16.00" fill="#20e0a0"/>
<rect x="203.70" y="130.80" width="8.20" height="16.00" fill="#1878ff"/>
<rect x="211.30" y="130.80" width="15.90" height="16.00" fill="#10e8ff"/>
<rect x="226.60" y="130.80" width="4.50" height="16.00" fill="#10c830"/>
<rect x="230.50" y="130.80" width="4.40" height="16.00" fill="#f8fa18"/>
<rect x="234.30" y="130.80" width="4.40" height="16.00" fill="#ff9a18"/>
<rect x="238.10" y="130.80" width="4.50" height="16.00" fill="#f8fa18"/>
<rect x="242.00" y="130.80" width="6.30" height="16.00" fill="#10c830"/>
<rect x="247.70" y="130.80" width="10.20" height="16.00" fill="#1878ff"/>
<rect x="257.30" y="130.80" width="12.10" height="16.00" fill="#10e8ff"/>
<rect x="268.80" y="130.80" width="12.10" height="16.00" fill="#20e0a0"/>
<rect x="280.30" y="130.80" width="8.30" height="16.00" fill="#ff9a18"/>
<rect x="288.00" y="130.80" width="13.60" height="16.00" fill="#a0f000"/>
<rect x="173.00" y="146.20" width="6.30" height="15.90" fill="#f8fa18"/>
<rect x="178.70" y="146.20" width="12.10" height="15.90" fill="#10c830"/>
<rect x="190.20" y="146.20" width="14.10" height="15.90" fill="#10e8ff"/>
<rect x="203.70" y="146.20" width="8.20" height="15.90" fill="#1878ff"/>
<rect x="211.30" y="146.20" width="10.20" height="15.90" fill="#10e8ff"/>
<rect x="220.90" y="146.20" width="10.20" height="15.90" fill="#1878ff"/>
<rect x="230.50" y="146.20" width="10.20" height="15.90" fill="#ff9a18"/>
<rect x="240.10" y="146.20" width="8.20" height="15.90" fill="#10c830"/>
<rect x="247.70" y="146.20" width="12.10" height="15.90" fill="#1878ff"/>
<rect x="259.20" y="146.20" width="21.70" height="15.90" fill="#20e0a0"/>
<rect x="280.30" y="146.20" width="8.30" height="15.90" fill="#ff2a00"/>
<rect x="288.00" y="146.20" width="13.60" height="15.90" fill="#a0f000"/>
<rect x="173.00" y="161.50" width="6.30" height="13.10" fill="#f8fa18"/>
<rect x="178.70" y="161.50" width="12.10" height="13.10" fill="#10c830"/>
<rect x="190.20" y="161.50" width="17.90" height="13.10" fill="#20e0a0"/>
<rect x="207.50" y="161.50" width="12.10" height="13.10" fill="#10e8ff"/>
<rect x="219.00" y="161.50" width="12.10" height="13.10" fill="#10c830"/>
<rect x="230.50" y="161.50" width="10.20" height="13.10" fill="#ff9a18"/>
<rect x="240.10" y="161.50" width="10.10" height="13.10" fill="#10c830"/>
<rect x="249.60" y="161.50" width="12.10" height="13.10" fill="#20e0a0"/>
<rect x="261.10" y="161.50" width="19.80" height="13.10" fill="#20e0a0"/>
<rect x="280.30" y="161.50" width="8.30" height="13.10" fill="#ff2a00"/>
<rect x="288.00" y="161.50" width="13.60" height="13.10" fill="#a0f000"/>
<rect x="173.00" y="174.00" width="15.90" height="13.60" fill="#ff9a18"/>
<rect x="188.30" y="174.00" width="8.30" height="13.60" fill="#f8fa18"/>
<rect x="196.00" y="174.00" width="8.30" height="13.60" fill="#ff9a18"/>
<rect x="203.70" y="174.00" width="14.00" height="13.60" fill="#a0f000"/>
<rect x="217.10" y="174.00" width="12.10" height="13.60" fill="#a0f000"/>
<rect x="228.60" y="174.00" width="14.00" height="13.60" fill="#ff2a00"/>
<rect x="242.00" y="174.00" width="15.90" height="13.60" fill="#f8fa18"/>
<rect x="257.30" y="174.00" width="15.90" height="13.60" fill="#a0f000"/>
<rect x="272.60" y="174.00" width="8.30" height="13.60" fill="#f8fa18"/>
<rect x="280.30" y="174.00" width="10.20" height="13.60" fill="#a00000"/>
<rect x="289.90" y="174.00" width="11.70" height="13.60" fill="#ff9a18"/>
<rect x="301.00" y="107.50" width="15.90" height="9.10" fill="#58066a"/>
<rect x="316.30" y="107.50" width="14.00" height="9.10" fill="#1024ee"/>
<rect x="329.70" y="107.50" width="8.30" height="9.10" fill="#ff9a18"/>
<rect x="337.40" y="107.50" width="19.80" height="9.10" fill="#10e8ff"/>
<rect x="356.60" y="107.50" width="12.10" height="9.10" fill="#58066a"/>
<rect x="368.10" y="107.50" width="10.10" height="9.10" fill="#1024ee"/>
<rect x="377.60" y="107.50" width="10.20" height="9.10" fill="#ff2a00"/>
<rect x="387.20" y="107.50" width="6.40" height="9.10" fill="#10e8ff"/>
<rect x="393.00" y="107.50" width="36.60" height="9.10" fill="#1c0c9a"/>
<rect x="301.00" y="116.00" width="12.10" height="7.80" fill="#1c0c9a"/>
<rect x="312.50" y="116.00" width="10.20" height="7.80" fill="#20e0a0"/>
<rect x="322.10" y="116.00" width="8.20" height="7.80" fill="#10e8ff"/>
<rect x="329.70" y="116.00" width="8.30" height="7.80" fill="#ff9a18"/>
<rect x="337.40" y="116.00" width="8.30" height="7.80" fill="#f8fa18"/>
<rect x="345.10" y="116.00" width="14.00" height="7.80" fill="#20e0a0"/>
<rect x="358.50" y="116.00" width="8.20" height="7.80" fill="#1024ee"/>
<rect x="366.10" y="116.00" width="8.30" height="7.80" fill="#10c830"/>
<rect x="373.80" y="116.00" width="4.40" height="7.80" fill="#10e8ff"/>
<rect x="377.60" y="116.00" width="10.20" height="7.80" fill="#ff9a18"/>
<rect x="387.20" y="116.00" width="6.40" height="7.80" fill="#10c830"/>
<rect x="393.00" y="116.00" width="12.10" height="7.80" fill="#10e8ff"/>
<rect x="404.50" y="116.00" width="12.10" height="7.80" fill="#10c830"/>
<rect x="416.00" y="116.00" width="13.60" height="7.80" fill="#1878ff"/>
<rect x="301.00" y="123.20" width="6.30" height="10.10" fill="#1024ee"/>
<rect x="306.70" y="123.20" width="10.20" height="10.10" fill="#10e8ff"/>
<rect x="316.30" y="123.20" width="6.40" height="10.10" fill="#10c830"/>
<rect x="322.10" y="123.20" width="8.20" height="10.10" fill="#10e8ff"/>
<rect x="329.70" y="123.20" width="10.20" height="10.10" fill="#ff9a18"/>
<rect x="339.30" y="123.20" width="19.80" height="10.10" fill="#a0f000"/>
<rect x="358.50" y="123.20" width="8.20" height="10.10" fill="#10e8ff"/>
<rect x="366.10" y="123.20" width="8.30" height="10.10" fill="#a0f000"/>
<rect x="373.80" y="123.20" width="6.40" height="10.10" fill="#10e8ff"/>
<rect x="379.60" y="123.20" width="8.20" height="10.10" fill="#ff9a18"/>
<rect x="387.20" y="123.20" width="8.30" height="10.10" fill="#10c830"/>
<rect x="394.90" y="123.20" width="14.00" height="10.10" fill="#20e0a0"/>
<rect x="408.30" y="123.20" width="8.30" height="10.10" fill="#a0f000"/>
<rect x="416.00" y="123.20" width="8.20" height="10.10" fill="#ff9a18"/>
<rect x="423.60" y="123.20" width="6.00" height="10.10" fill="#10c830"/>
<rect x="301.00" y="132.70" width="6.30" height="15.90" fill="#1878ff"/>
<rect x="306.70" y="132.70" width="6.40" height="15.90" fill="#10e8ff"/>
<rect x="312.50" y="132.70" width="8.30" height="15.90" fill="#1878ff"/>
<rect x="320.20" y="132.70" width="10.10" height="15.90" fill="#10e8ff"/>
<rect x="329.70" y="132.70" width="10.20" height="15.90" fill="#ff9a18"/>
<rect x="339.30" y="132.70" width="8.30" height="15.90" fill="#f8fa18"/>
<rect x="347.00" y="132.70" width="8.30" height="15.90" fill="#ff9a18"/>
<rect x="354.70" y="132.70" width="8.20" height="15.90" fill="#a0f000"/>
<rect x="362.30" y="132.70" width="8.30" height="15.90" fill="#1024ee"/>
<rect x="370.00" y="132.70" width="8.20" height="15.90" fill="#1878ff"/>
<rect x="377.60" y="132.70" width="10.20" height="15.90" fill="#ff9a18"/>
<rect x="387.20" y="132.70" width="8.30" height="15.90" fill="#20e0a0"/>
<rect x="394.90" y="132.70" width="14.00" height="15.90" fill="#a0f000"/>
<rect x="408.30" y="132.70" width="8.30" height="15.90" fill="#10c830"/>
<rect x="416.00" y="132.70" width="13.60" height="15.90" fill="#a0f000"/>
<rect x="301.00" y="148.00" width="6.30" height="17.90" fill="#1024ee"/>
<rect x="306.70" y="148.00" width="10.20" height="17.90" fill="#1878ff"/>
<rect x="316.30" y="148.00" width="14.00" height="17.90" fill="#10e8ff"/>
<rect x="329.70" y="148.00" width="10.20" height="17.90" fill="#ff9a18"/>
<rect x="339.30" y="148.00" width="16.00" height="17.90" fill="#ff9a18"/>
<rect x="354.70" y="148.00" width="8.20" height="17.90" fill="#a0f000"/>
<rect x="362.30" y="148.00" width="15.90" height="17.90" fill="#10e8ff"/>
<rect x="377.60" y="148.00" width="10.20" height="17.90" fill="#ff9a18"/>
<rect x="387.20" y="148.00" width="10.20" height="17.90" fill="#10c830"/>
<rect x="396.80" y="148.00" width="15.90" height="17.90" fill="#a0f000"/>
<rect x="412.10" y="148.00" width="17.50" height="17.90" fill="#10c830"/>
<rect x="301.00" y="165.30" width="8.30" height="12.10" fill="#1878ff"/>
<rect x="308.70" y="165.30" width="12.10" height="12.10" fill="#20e0a0"/>
<rect x="320.20" y="165.30" width="10.10" height="12.10" fill="#20e0a0"/>
<rect x="329.70" y="165.30" width="14.10" height="12.10" fill="#ff2a00"/>
<rect x="343.20" y="165.30" width="12.10" height="12.10" fill="#ff9a18"/>
<rect x="354.70" y="165.30" width="12.00" height="12.10" fill="#a0f000"/>
<rect x="366.10" y="165.30" width="12.10" height="12.10" fill="#10c830"/>
<rect x="377.60" y="165.30" width="10.20" height="12.10" fill="#ff9a18"/>
<rect x="387.20" y="165.30" width="10.20" height="12.10" fill="#f8fa18"/>
<rect x="396.80" y="165.30" width="12.10" height="12.10" fill="#a0f000"/>
<rect x="408.30" y="165.30" width="21.30" height="12.10" fill="#10c830"/>
<rect x="301.00" y="176.80" width="12.10" height="10.80" fill="#a0f000"/>
<rect x="312.50" y="176.80" width="8.30" height="10.80" fill="#ff9a18"/>
<rect x="320.20" y="176.80" width="10.10" height="10.80" fill="#f8fa18"/>
<rect x="329.70" y="176.80" width="10.20" height="10.80" fill="#a00000"/>
<rect x="339.30" y="176.80" width="8.30" height="10.80" fill="#ff2a00"/>
<rect x="347.00" y="176.80" width="12.10" height="10.80" fill="#ff9a18"/>
<rect x="358.50" y="176.80" width="12.10" height="10.80" fill="#ff9a18"/>
<rect x="370.00" y="176.80" width="8.20" height="10.80" fill="#f8fa18"/>
<rect x="377.60" y="176.80" width="12.10" height="10.80" fill="#ff2a00"/>
<rect x="389.10" y="176.80" width="12.10" height="10.80" fill="#ff9a18"/>
<rect x="400.60" y="176.80" width="8.30" height="10.80" fill="#f8fa18"/>
<rect x="408.30" y="176.80" width="12.10" height="10.80" fill="#ff9a18"/>
<rect x="419.80" y="176.80" width="9.80" height="10.80" fill="#f8fa18"/>
<rect x="429.00" y="107.50" width="6.30" height="9.10" fill="#1024ee"/>
<rect x="434.70" y="107.50" width="6.40" height="9.10" fill="#10e8ff"/>
<rect x="440.50" y="107.50" width="14.00" height="9.10" fill="#a0f000"/>
<rect x="453.90" y="107.50" width="4.40" height="9.10" fill="#1c0c9a"/>
<rect x="457.70" y="107.50" width="10.20" height="9.10" fill="#58066a"/>
<rect x="467.30" y="107.50" width="10.20" height="9.10" fill="#1c0c9a"/>
<rect x="476.90" y="107.50" width="6.40" height="9.10" fill="#10e8ff"/>
<rect x="482.70" y="107.50" width="12.00" height="9.10" fill="#ff2a00"/>
<rect x="494.10" y="107.50" width="8.30" height="9.10" fill="#10e8ff"/>
<rect x="501.80" y="107.50" width="27.40" height="9.10" fill="#1c0c9a"/>
<rect x="528.60" y="107.50" width="8.30" height="9.10" fill="#1024ee"/>
<rect x="536.30" y="107.50" width="8.30" height="9.10" fill="#20e0a0"/>
<rect x="544.00" y="107.50" width="21.60" height="9.10" fill="#a0f000"/>
<rect x="429.00" y="116.00" width="6.30" height="7.80" fill="#10e8ff"/>
<rect x="434.70" y="116.00" width="6.40" height="7.80" fill="#10c830"/>
<rect x="440.50" y="116.00" width="15.90" height="7.80" fill="#a0f000"/>
<rect x="455.80" y="116.00" width="8.30" height="7.80" fill="#10e8ff"/>
<rect x="463.50" y="116.00" width="4.40" height="7.80" fill="#1024ee"/>
<rect x="467.30" y="116.00" width="8.30" height="7.80" fill="#a0f000"/>
<rect x="475.00" y="116.00" width="8.30" height="7.80" fill="#10e8ff"/>
<rect x="482.70" y="116.00" width="12.00" height="7.80" fill="#ff9a18"/>
<rect x="494.10" y="116.00" width="12.10" height="7.80" fill="#a0f000"/>
<rect x="505.60" y="116.00" width="8.30" height="7.80" fill="#10e8ff"/>
<rect x="513.30" y="116.00" width="12.10" height="7.80" fill="#1878ff"/>
<rect x="524.80" y="116.00" width="4.40" height="7.80" fill="#10e8ff"/>
<rect x="528.60" y="116.00" width="14.00" height="7.80" fill="#10c830"/>
<rect x="542.00" y="116.00" width="8.30" height="7.80" fill="#ff9a18"/>
<rect x="549.70" y="116.00" width="15.90" height="7.80" fill="#f8fa18"/>
<rect x="429.00" y="123.20" width="4.40" height="10.10" fill="#ff9a18"/>
<rect x="432.80" y="123.20" width="6.40" height="10.10" fill="#f8fa18"/>
<rect x="438.60" y="123.20" width="12.10" height="10.10" fill="#ff9a18"/>
<rect x="450.10" y="123.20" width="12.10" height="10.10" fill="#a0f000"/>
<rect x="461.60" y="123.20" width="6.30" height="10.10" fill="#10e8ff"/>
<rect x="467.30" y="123.20" width="8.30" height="10.10" fill="#f8fa18"/>
<rect x="475.00" y="123.20" width="8.30" height="10.10" fill="#10e8ff"/>
<rect x="482.70" y="123.20" width="12.00" height="10.10" fill="#ff9a18"/>
<rect x="494.10" y="123.20" width="12.10" height="10.10" fill="#f8fa18"/>
<rect x="505.60" y="123.20" width="25.60" height="10.10" fill="#10c830"/>
<rect x="530.60" y="123.20" width="12.00" height="10.10" fill="#a0f000"/>
<rect x="542.00" y="123.20" width="8.30" height="10.10" fill="#ff9a18"/>
<rect x="549.70" y="123.20" width="15.90" height="10.10" fill="#a0f000"/>
<rect x="429.00" y="132.70" width="10.20" height="15.90" fill="#ff9a18"/>
<rect x="438.60" y="132.70" width="10.20" height="15.90" fill="#f8fa18"/>
<rect x="448.20" y="132.70" width="6.30" height="15.90" fill="#ff9a18"/>
<rect x="453.90" y="132.70" width="8.30" height="15.90" fill="#f8fa18"/>
<rect x="461.60" y="132.70" width="6.30" height="15.90" fill="#10e8ff"/>
<rect x="467.30" y="132.70" width="6.40" height="15.90" fill="#a0f000"/>
<rect x="473.10" y="132.70" width="10.20" height="15.90" fill="#1878ff"/>
<rect x="482.70" y="132.70" width="14.00" height="15.90" fill="#ff2a00"/>
<rect x="496.10" y="132.70" width="10.10" height="15.90" fill="#f8fa18"/>
<rect x="505.60" y="132.70" width="31.30" height="15.90" fill="#a0f000"/>
<rect x="536.30" y="132.70" width="8.30" height="15.90" fill="#f8fa18"/>
<rect x="544.00" y="132.70" width="8.20" height="15.90" fill="#ff9a18"/>
<rect x="551.60" y="132.70" width="14.00" height="15.90" fill="#f8fa18"/>
<rect x="429.00" y="148.00" width="12.10" height="17.90" fill="#ff9a18"/>
<rect x="440.50" y="148.00" width="15.90" height="17.90" fill="#ff9a18"/>
<rect x="455.80" y="148.00" width="8.30" height="17.90" fill="#f8fa18"/>
<rect x="463.50" y="148.00" width="8.30" height="17.90" fill="#10e8ff"/>
<rect x="471.20" y="148.00" width="10.10" height="17.90" fill="#20e0a0"/>
<rect x="480.70" y="148.00" width="16.00" height="17.90" fill="#ff9a18"/>
<rect x="496.10" y="148.00" width="14.00" height="17.90" fill="#f8fa18"/>
<rect x="509.50" y="148.00" width="12.10" height="17.90" fill="#10c830"/>
<rect x="521.00" y="148.00" width="12.10" height="17.90" fill="#20e0a0"/>
<rect x="532.50" y="148.00" width="12.10" height="17.90" fill="#a0f000"/>
<rect x="544.00" y="148.00" width="21.60" height="17.90" fill="#ff2a00"/>
<rect x="429.00" y="165.30" width="15.90" height="10.30" fill="#ff9a18"/>
<rect x="444.30" y="165.30" width="12.10" height="10.30" fill="#ff2a00"/>
<rect x="455.80" y="165.30" width="12.10" height="10.30" fill="#a0f000"/>
<rect x="467.30" y="165.30" width="12.10" height="10.30" fill="#a0f000"/>
<rect x="478.80" y="165.30" width="19.80" height="10.30" fill="#ff9a18"/>
<rect x="498.00" y="165.30" width="15.90" height="10.30" fill="#ff9a18"/>
<rect x="513.30" y="165.30" width="15.90" height="10.30" fill="#f8fa18"/>
<rect x="528.60" y="165.30" width="16.00" height="10.30" fill="#a0f000"/>
<rect x="544.00" y="165.30" width="21.60" height="10.30" fill="#ff2a00"/>
<rect x="429.00" y="175.00" width="8.30" height="12.60" fill="#ff9a18"/>
<rect x="436.70" y="175.00" width="19.70" height="12.60" fill="#ff2a00"/>
<rect x="455.80" y="175.00" width="8.30" height="12.60" fill="#ff9a18"/>
<rect x="463.50" y="175.00" width="15.90" height="12.60" fill="#ff2a00"/>
<rect x="478.80" y="175.00" width="8.30" height="12.60" fill="#ff2a00"/>
<rect x="486.50" y="175.00" width="15.90" height="12.60" fill="#a00000"/>
<rect x="501.80" y="175.00" width="15.90" height="12.60" fill="#ff9a18"/>
<rect x="517.10" y="175.00" width="16.00" height="12.60" fill="#f8fa18"/>
<rect x="532.50" y="175.00" width="12.10" height="12.60" fill="#ff9a18"/>
<rect x="544.00" y="175.00" width="21.60" height="12.60" fill="#a00000"/>
<rect x="38.00" y="187.00" width="15.30" height="19.10" fill="#a0f000"/>
<rect x="52.70" y="187.00" width="8.30" height="19.10" fill="#ff9a18"/>
<rect x="60.40" y="187.00" width="18.50" height="19.10" fill="#a0f000"/>
<rect x="78.30" y="187.00" width="13.40" height="19.10" fill="#ff9a18"/>
<rect x="91.10" y="187.00" width="18.50" height="19.10" fill="#20e0a0"/>
<rect x="109.00" y="187.00" width="18.50" height="19.10" fill="#a0f000"/>
<rect x="126.90" y="187.00" width="10.90" height="19.10" fill="#f8fa18"/>
<rect x="137.20" y="187.00" width="15.90" height="19.10" fill="#10c830"/>
<rect x="152.50" y="187.00" width="21.10" height="19.10" fill="#a0f000"/>
<rect x="173.00" y="187.00" width="8.30" height="19.10" fill="#ff9a18"/>
<rect x="180.70" y="187.00" width="13.40" height="19.10" fill="#a0f000"/>
<rect x="193.50" y="187.00" width="18.50" height="19.10" fill="#20e0a0"/>
<rect x="211.40" y="187.00" width="18.50" height="19.10" fill="#10c830"/>
<rect x="229.30" y="187.00" width="13.40" height="19.10" fill="#ff2a00"/>
<rect x="242.10" y="187.00" width="13.40" height="19.10" fill="#10c830"/>
<rect x="254.90" y="187.00" width="21.10" height="19.10" fill="#a0f000"/>
<rect x="275.40" y="187.00" width="16.00" height="19.10" fill="#ff9a18"/>
<rect x="290.80" y="187.00" width="10.80" height="19.10" fill="#a0f000"/>
<rect x="38.00" y="205.50" width="12.70" height="31.30" fill="#1024ee"/>
<rect x="50.10" y="205.50" width="10.90" height="31.30" fill="#10e8ff"/>
<rect x="60.40" y="205.50" width="18.50" height="31.30" fill="#20e0a0"/>
<rect x="78.30" y="205.50" width="13.40" height="31.30" fill="#a0f000"/>
<rect x="91.10" y="205.50" width="8.30" height="31.30" fill="#10e8ff"/>
<rect x="98.80" y="205.50" width="8.20" height="31.30" fill="#1024ee"/>
<rect x="106.40" y="205.50" width="8.30" height="31.30" fill="#10e8ff"/>
<rect x="114.10" y="205.50" width="26.20" height="31.30" fill="#10c830"/>
<rect x="139.70" y="205.50" width="13.40" height="31.30" fill="#1878ff"/>
<rect x="152.50" y="205.50" width="13.40" height="31.30" fill="#10e8ff"/>
<rect x="165.30" y="205.50" width="16.00" height="31.30" fill="#10c830"/>
<rect x="180.70" y="205.50" width="8.30" height="31.30" fill="#20e0a0"/>
<rect x="188.40" y="205.50" width="26.20" height="31.30" fill="#10e8ff"/>
<rect x="214.00" y="205.50" width="15.90" height="31.30" fill="#20e0a0"/>
<rect x="229.30" y="205.50" width="10.90" height="31.30" fill="#ff9a18"/>
<rect x="239.60" y="205.50" width="10.80" height="31.30" fill="#10c830"/>
<rect x="249.80" y="205.50" width="26.20" height="31.30" fill="#1878ff"/>
<rect x="275.40" y="205.50" width="16.00" height="31.30" fill="#a0f000"/>
<rect x="290.80" y="205.50" width="10.80" height="31.30" fill="#f8fa18"/>
<rect x="38.00" y="236.20" width="17.80" height="16.00" fill="#a0f000"/>
<rect x="55.20" y="236.20" width="23.70" height="16.00" fill="#10c830"/>
<rect x="78.30" y="236.20" width="10.80" height="16.00" fill="#ff9a18"/>
<rect x="88.50" y="236.20" width="10.90" height="16.00" fill="#10e8ff"/>
<rect x="98.80" y="236.20" width="8.20" height="16.00" fill="#1878ff"/>
<rect x="106.40" y="236.20" width="16.00" height="16.00" fill="#20e0a0"/>
<rect x="121.80" y="236.20" width="10.80" height="16.00" fill="#f8fa18"/>
<rect x="132.00" y="236.20" width="10.90" height="16.00" fill="#ff9a18"/>
<rect x="142.30" y="236.20" width="10.80" height="16.00" fill="#a0f000"/>
<rect x="152.50" y="236.20" width="26.20" height="16.00" fill="#20e0a0"/>
<rect x="178.10" y="236.20" width="10.90" height="16.00" fill="#ff9a18"/>
<rect x="188.40" y="236.20" width="21.10" height="16.00" fill="#10c830"/>
<rect x="208.90" y="236.20" width="15.90" height="16.00" fill="#20e0a0"/>
<rect x="224.20" y="236.20" width="8.30" height="16.00" fill="#f8fa18"/>
<rect x="231.90" y="236.20" width="13.40" height="16.00" fill="#ff9a18"/>
<rect x="244.70" y="236.20" width="10.80" height="16.00" fill="#10c830"/>
<rect x="254.90" y="236.20" width="21.10" height="16.00" fill="#20e0a0"/>
<rect x="275.40" y="236.20" width="16.00" height="16.00" fill="#10c830"/>
<rect x="290.80" y="236.20" width="10.80" height="16.00" fill="#ff9a18"/>
<rect x="38.00" y="251.60" width="15.30" height="22.00" fill="#f8fa18"/>
<rect x="52.70" y="251.60" width="26.20" height="22.00" fill="#a0f000"/>
<rect x="78.30" y="251.60" width="13.40" height="22.00" fill="#ff2a00"/>
<rect x="91.10" y="251.60" width="8.30" height="22.00" fill="#f8fa18"/>
<rect x="98.80" y="251.60" width="18.50" height="22.00" fill="#10c830"/>
<rect x="116.70" y="251.60" width="10.80" height="22.00" fill="#f8fa18"/>
<rect x="126.90" y="251.60" width="21.10" height="22.00" fill="#ff2a00"/>
<rect x="147.40" y="251.60" width="10.80" height="22.00" fill="#f8fa18"/>
<rect x="157.60" y="251.60" width="21.10" height="22.00" fill="#10c830"/>
<rect x="178.10" y="251.60" width="16.00" height="22.00" fill="#ff9a18"/>
<rect x="193.50" y="251.60" width="16.00" height="22.00" fill="#a0f000"/>
<rect x="208.90" y="251.60" width="15.90" height="22.00" fill="#10c830"/>
<rect x="224.20" y="251.60" width="21.10" height="22.00" fill="#ff2a00"/>
<rect x="244.70" y="251.60" width="10.80" height="22.00" fill="#f8fa18"/>
<rect x="254.90" y="251.60" width="21.10" height="22.00" fill="#10c830"/>
<rect x="275.40" y="251.60" width="10.90" height="22.00" fill="#f8fa18"/>
<rect x="285.70" y="251.60" width="15.90" height="22.00" fill="#ff9a18"/>
<rect x="301.00" y="187.00" width="16.00" height="19.10" fill="#20e0a0"/>
<rect x="316.40" y="187.00" width="13.40" height="19.10" fill="#a0f000"/>
<rect x="329.20" y="187.00" width="15.90" height="19.10" fill="#ff2a00"/>
<rect x="344.50" y="187.00" width="21.10" height="19.10" fill="#a0f000"/>
<rect x="365.00" y="187.00" width="18.50" height="19.10" fill="#ff9a18"/>
<rect x="382.90" y="187.00" width="10.90" height="19.10" fill="#ff2a00"/>
<rect x="393.20" y="187.00" width="15.90" height="19.10" fill="#f8fa18"/>
<rect x="408.50" y="187.00" width="21.10" height="19.10" fill="#a0f000"/>
<rect x="429.00" y="187.00" width="16.00" height="19.10" fill="#ff2a00"/>
<rect x="444.40" y="187.00" width="21.00" height="19.10" fill="#f8fa18"/>
<rect x="464.80" y="187.00" width="16.00" height="19.10" fill="#ff9a18"/>
<rect x="480.20" y="187.00" width="5.70" height="19.10" fill="#f8fa18"/>
<rect x="485.30" y="187.00" width="18.60" height="19.10" fill="#ff2a00"/>
<rect x="503.30" y="187.00" width="13.30" height="19.10" fill="#f8fa18"/>
<rect x="516.00" y="187.00" width="26.30" height="19.10" fill="#a0f000"/>
<rect x="541.70" y="187.00" width="23.90" height="19.10" fill="#ff9a18"/>
<rect x="301.00" y="205.50" width="5.70" height="31.30" fill="#10c830"/>
<rect x="306.10" y="205.50" width="16.00" height="31.30" fill="#10e8ff"/>
<rect x="321.50" y="205.50" width="8.30" height="31.30" fill="#20e0a0"/>
<rect x="329.20" y="205.50" width="15.90" height="31.30" fill="#ff2a00"/>
<rect x="344.50" y="205.50" width="10.90" height="31.30" fill="#a0f000"/>
<rect x="354.80" y="205.50" width="13.40" height="31.30" fill="#20e0a0"/>
<rect x="367.60" y="205.50" width="18.50" height="31.30" fill="#a0f000"/>
<rect x="385.50" y="205.50" width="8.30" height="31.30" fill="#ff9a18"/>
<rect x="393.20" y="205.50" width="5.70" height="31.30" fill="#f8fa18"/>
<rect x="398.30" y="205.50" width="15.90" height="31.30" fill="#20e0a0"/>
<rect x="413.60" y="205.50" width="10.90" height="31.30" fill="#10c830"/>
<rect x="423.90" y="205.50" width="5.70" height="31.30" fill="#10e8ff"/>
<rect x="429.00" y="205.50" width="21.10" height="31.30" fill="#ff9a18"/>
<rect x="449.50" y="205.50" width="8.30" height="31.30" fill="#f8fa18"/>
<rect x="457.20" y="205.50" width="8.20" height="31.30" fill="#10c830"/>
<rect x="464.80" y="205.50" width="10.90" height="31.30" fill="#ff9a18"/>
<rect x="475.10" y="205.50" width="5.70" height="31.30" fill="#10c830"/>
<rect x="480.20" y="205.50" width="5.70" height="31.30" fill="#f8fa18"/>
<rect x="485.30" y="205.50" width="18.60" height="31.30" fill="#ff2a00"/>
<rect x="503.30" y="205.50" width="8.20" height="31.30" fill="#f8fa18"/>
<rect x="510.90" y="205.50" width="31.40" height="31.30" fill="#20e0a0"/>
<rect x="541.70" y="205.50" width="23.90" height="31.30" fill="#ff9a18"/>
<rect x="301.00" y="236.20" width="5.70" height="21.10" fill="#10c830"/>
<rect x="306.10" y="236.20" width="16.00" height="21.10" fill="#20e0a0"/>
<rect x="321.50" y="236.20" width="8.30" height="21.10" fill="#10c830"/>
<rect x="329.20" y="236.20" width="15.90" height="21.10" fill="#ff2a00"/>
<rect x="344.50" y="236.20" width="8.30" height="21.10" fill="#f8fa18"/>
<rect x="352.20" y="236.20" width="13.40" height="21.10" fill="#20e0a0"/>
<rect x="365.00" y="236.20" width="13.40" height="21.10" fill="#10c830"/>
<rect x="377.80" y="236.20" width="8.30" height="21.10" fill="#f8fa18"/>
<rect x="385.50" y="236.20" width="8.30" height="21.10" fill="#ff9a18"/>
<rect x="393.20" y="236.20" width="10.80" height="21.10" fill="#a0f000"/>
<rect x="403.40" y="236.20" width="16.00" height="21.10" fill="#10c830"/>
<rect x="418.80" y="236.20" width="10.80" height="21.10" fill="#10e8ff"/>
<rect x="429.00" y="236.20" width="10.80" height="21.10" fill="#f8fa18"/>
<rect x="439.20" y="236.20" width="10.90" height="21.10" fill="#ff9a18"/>
<rect x="449.50" y="236.20" width="15.90" height="21.10" fill="#f8fa18"/>
<rect x="464.80" y="236.20" width="16.00" height="21.10" fill="#a0f000"/>
<rect x="480.20" y="236.20" width="5.70" height="21.10" fill="#f8fa18"/>
<rect x="485.30" y="236.20" width="18.60" height="21.10" fill="#ff2a00"/>
<rect x="503.30" y="236.20" width="8.20" height="21.10" fill="#f8fa18"/>
<rect x="510.90" y="236.20" width="21.10" height="21.10" fill="#10c830"/>
<rect x="531.40" y="236.20" width="10.90" height="21.10" fill="#f8fa18"/>
<rect x="541.70" y="236.20" width="23.90" height="21.10" fill="#ff9a18"/>
<rect x="301.00" y="256.70" width="8.30" height="16.90" fill="#10c830"/>
<rect x="308.70" y="256.70" width="13.40" height="16.90" fill="#a0f000"/>
<rect x="321.50" y="256.70" width="10.80" height="16.90" fill="#f8fa18"/>
<rect x="331.70" y="256.70" width="16.00" height="16.90" fill="#a00000"/>
<rect x="347.10" y="256.70" width="36.40" height="16.90" fill="#ff9a18"/>
<rect x="382.90" y="256.70" width="13.40" height="16.90" fill="#ff2a00"/>
<rect x="395.70" y="256.70" width="8.30" height="16.90" fill="#ff9a18"/>
<rect x="403.40" y="256.70" width="26.20" height="16.90" fill="#f8fa18"/>
<rect x="429.00" y="256.70" width="16.00" height="16.90" fill="#a00000"/>
<rect x="444.40" y="256.70" width="15.90" height="16.90" fill="#ff9a18"/>
<rect x="459.70" y="256.70" width="21.10" height="16.90" fill="#f8fa18"/>
<rect x="480.20" y="256.70" width="26.20" height="16.90" fill="#a00000"/>
<rect x="505.80" y="256.70" width="10.80" height="16.90" fill="#f8fa18"/>
<rect x="516.00" y="256.70" width="16.00" height="16.90" fill="#a0f000"/>
<rect x="531.40" y="256.70" width="10.90" height="16.90" fill="#f8fa18"/>
<rect x="541.70" y="256.70" width="23.90" height="16.90" fill="#ff2a00"/>
<rect x="38.00" y="307.80" width="20.80" height="18.80" fill="#58066a"/>
<rect x="58.20" y="307.80" width="8.40" height="18.80" fill="#1024ee"/>
<rect x="66.00" y="307.80" width="5.80" height="18.80" fill="#10e8ff"/>
<rect x="71.20" y="307.80" width="13.60" height="18.80" fill="#ff9a18"/>
<rect x="84.20" y="307.80" width="8.40" height="18.80" fill="#10c830"/>
<rect x="92.00" y="307.80" width="16.20" height="18.80" fill="#58066a"/>
<rect x="107.60" y="307.80" width="8.40" height="18.80" fill="#20e0a0"/>
<rect x="115.40" y="307.80" width="8.40" height="18.80" fill="#a0f000"/>
<rect x="123.20" y="307.80" width="5.80" height="18.80" fill="#10c830"/>
<rect x="128.40" y="307.80" width="5.80" height="18.80" fill="#ff2a00"/>
<rect x="133.60" y="307.80" width="5.80" height="18.80" fill="#10c830"/>
<rect x="138.80" y="307.80" width="5.80" height="18.80" fill="#1024ee"/>
<rect x="144.00" y="307.80" width="18.80" height="18.80" fill="#58066a"/>
<rect x="162.20" y="307.80" width="18.80" height="18.80" fill="#f8fa18"/>
<rect x="180.40" y="307.80" width="5.80" height="18.80" fill="#1024ee"/>
<rect x="185.60" y="307.80" width="26.60" height="18.80" fill="#1c0c9a"/>
<rect x="211.60" y="307.80" width="11.00" height="18.80" fill="#1878ff"/>
<rect x="222.00" y="307.80" width="11.00" height="18.80" fill="#a0f000"/>
<rect x="232.40" y="307.80" width="5.80" height="18.80" fill="#ff9a18"/>
<rect x="237.60" y="307.80" width="11.00" height="18.80" fill="#10e8ff"/>
<rect x="248.00" y="307.80" width="18.80" height="18.80" fill="#58066a"/>
<rect x="266.20" y="307.80" width="8.40" height="18.80" fill="#1024ee"/>
<rect x="274.00" y="307.80" width="11.00" height="18.80" fill="#10e8ff"/>
<rect x="284.40" y="307.80" width="5.80" height="18.80" fill="#10c830"/>
<rect x="289.60" y="307.80" width="11.00" height="18.80" fill="#1024ee"/>
<rect x="38.00" y="326.00" width="20.80" height="26.60" fill="#58066a"/>
<rect x="58.20" y="326.00" width="8.40" height="26.60" fill="#1024ee"/>
<rect x="66.00" y="326.00" width="16.20" height="26.60" fill="#10e8ff"/>
<rect x="81.60" y="326.00" width="11.00" height="26.60" fill="#1878ff"/>
<rect x="92.00" y="326.00" width="18.80" height="26.60" fill="#58066a"/>
<rect x="110.20" y="326.00" width="16.20" height="26.60" fill="#10e8ff"/>
<rect x="125.80" y="326.00" width="8.40" height="26.60" fill="#10c830"/>
<rect x="133.60" y="326.00" width="5.80" height="26.60" fill="#10e8ff"/>
<rect x="138.80" y="326.00" width="5.80" height="26.60" fill="#1024ee"/>
<rect x="144.00" y="326.00" width="18.80" height="26.60" fill="#58066a"/>
<rect x="162.20" y="326.00" width="18.80" height="26.60" fill="#1878ff"/>
<rect x="180.40" y="326.00" width="8.40" height="26.60" fill="#1024ee"/>
<rect x="188.20" y="326.00" width="24.00" height="26.60" fill="#58066a"/>
<rect x="211.60" y="326.00" width="11.00" height="26.60" fill="#1024ee"/>
<rect x="222.00" y="326.00" width="11.00" height="26.60" fill="#10e8ff"/>
<rect x="232.40" y="326.00" width="5.80" height="26.60" fill="#10c830"/>
<rect x="237.60" y="326.00" width="11.00" height="26.60" fill="#10e8ff"/>
<rect x="248.00" y="326.00" width="18.80" height="26.60" fill="#58066a"/>
<rect x="266.20" y="326.00" width="8.40" height="26.60" fill="#1024ee"/>
<rect x="274.00" y="326.00" width="16.20" height="26.60" fill="#1878ff"/>
<rect x="289.60" y="326.00" width="11.00" height="26.60" fill="#1024ee"/>
<rect x="38.00" y="352.00" width="20.80" height="13.60" fill="#1878ff"/>
<rect x="58.20" y="352.00" width="13.60" height="13.60" fill="#10c830"/>
<rect x="71.20" y="352.00" width="8.40" height="13.60" fill="#f8fa18"/>
<rect x="79.00" y="352.00" width="5.80" height="13.60" fill="#ff9a18"/>
<rect x="84.20" y="352.00" width="8.40" height="13.60" fill="#f8fa18"/>
<rect x="92.00" y="352.00" width="8.40" height="13.60" fill="#20e0a0"/>
<rect x="99.80" y="352.00" width="13.60" height="13.60" fill="#10e8ff"/>
<rect x="112.80" y="352.00" width="11.00" height="13.60" fill="#a0f000"/>
<rect x="123.20" y="352.00" width="8.40" height="13.60" fill="#ff9a18"/>
<rect x="131.00" y="352.00" width="5.80" height="13.60" fill="#f8fa18"/>
<rect x="136.20" y="352.00" width="26.60" height="13.60" fill="#10e8ff"/>
<rect x="162.20" y="352.00" width="11.00" height="13.60" fill="#a0f000"/>
<rect x="172.60" y="352.00" width="5.80" height="13.60" fill="#f8fa18"/>
<rect x="177.80" y="352.00" width="3.20" height="13.60" fill="#10c830"/>
<rect x="180.40" y="352.00" width="11.00" height="13.60" fill="#10e8ff"/>
<rect x="190.80" y="352.00" width="11.00" height="13.60" fill="#10c830"/>
<rect x="201.20" y="352.00" width="11.00" height="13.60" fill="#10e8ff"/>
<rect x="211.60" y="352.00" width="16.20" height="13.60" fill="#a0f000"/>
<rect x="227.20" y="352.00" width="5.80" height="13.60" fill="#ff9a18"/>
<rect x="232.40" y="352.00" width="5.80" height="13.60" fill="#10c830"/>
<rect x="237.60" y="352.00" width="31.80" height="13.60" fill="#10e8ff"/>
<rect x="268.80" y="352.00" width="21.40" height="13.60" fill="#a0f000"/>
<rect x="289.60" y="352.00" width="11.00" height="13.60" fill="#10e8ff"/>
<rect x="38.00" y="365.00" width="262.60" height="5.10" fill="#10e8ff"/>
<rect x="38.00" y="369.50" width="20.80" height="21.10" fill="#58066a"/>
<rect x="58.20" y="369.50" width="11.00" height="21.10" fill="#1024ee"/>
<rect x="68.60" y="369.50" width="16.20" height="21.10" fill="#10e8ff"/>
<rect x="84.20" y="369.50" width="11.00" height="21.10" fill="#1024ee"/>
<rect x="94.60" y="369.50" width="16.20" height="21.10" fill="#58066a"/>
<rect x="110.20" y="369.50" width="8.40" height="21.10" fill="#1024ee"/>
<rect x="118.00" y="369.50" width="11.00" height="21.10" fill="#10e8ff"/>
<rect x="128.40" y="369.50" width="5.80" height="21.10" fill="#10c830"/>
<rect x="133.60" y="369.50" width="5.80" height="21.10" fill="#10e8ff"/>
<rect x="138.80" y="369.50" width="5.80" height="21.10" fill="#1024ee"/>
<rect x="144.00" y="369.50" width="18.80" height="21.10" fill="#58066a"/>
<rect x="162.20" y="369.50" width="11.00" height="21.10" fill="#10e8ff"/>
<rect x="172.60" y="369.50" width="5.80" height="21.10" fill="#10c830"/>
<rect x="177.80" y="369.50" width="11.00" height="21.10" fill="#10e8ff"/>
<rect x="188.20" y="369.50" width="24.00" height="21.10" fill="#1c0c9a"/>
<rect x="211.60" y="369.50" width="11.00" height="21.10" fill="#1024ee"/>
<rect x="222.00" y="369.50" width="11.00" height="21.10" fill="#10e8ff"/>
<rect x="232.40" y="369.50" width="5.80" height="21.10" fill="#10c830"/>
<rect x="237.60" y="369.50" width="11.00" height="21.10" fill="#10e8ff"/>
<rect x="248.00" y="369.50" width="21.40" height="21.10" fill="#1c0c9a"/>
<rect x="268.80" y="369.50" width="5.80" height="21.10" fill="#1024ee"/>
<rect x="274.00" y="369.50" width="16.20" height="21.10" fill="#10e8ff"/>
<rect x="289.60" y="369.50" width="11.00" height="21.10" fill="#1024ee"/>
<rect x="38.00" y="390.00" width="20.80" height="16.60" fill="#10e8ff"/>
<rect x="58.20" y="390.00" width="13.60" height="16.60" fill="#a0f000"/>
<rect x="71.20" y="390.00" width="3.20" height="16.60" fill="#f8fa18"/>
<rect x="73.80" y="390.00" width="11.00" height="16.60" fill="#ff2a00"/>
<rect x="84.20" y="390.00" width="13.60" height="16.60" fill="#a0f000"/>
<rect x="97.20" y="390.00" width="13.60" height="16.60" fill="#10e8ff"/>
<rect x="110.20" y="390.00" width="11.00" height="16.60" fill="#20e0a0"/>
<rect x="120.60" y="390.00" width="16.20" height="16.60" fill="#ff9a18"/>
<rect x="136.20" y="390.00" width="18.80" height="16.60" fill="#20e0a0"/>
<rect x="154.40" y="390.00" width="11.00" height="16.60" fill="#10c830"/>
<rect x="164.80" y="390.00" width="21.40" height="16.60" fill="#ff9a18"/>
<rect x="185.60" y="390.00" width="11.00" height="16.60" fill="#10c830"/>
<rect x="196.00" y="390.00" width="21.40" height="16.60" fill="#10e8ff"/>
<rect x="216.80" y="390.00" width="11.00" height="16.60" fill="#a0f000"/>
<rect x="227.20" y="390.00" width="11.00" height="16.60" fill="#ff9a18"/>
<rect x="237.60" y="390.00" width="11.00" height="16.60" fill="#f8fa18"/>
<rect x="248.00" y="390.00" width="26.60" height="16.60" fill="#20e0a0"/>
<rect x="274.00" y="390.00" width="16.20" height="16.60" fill="#f8fa18"/>
<rect x="289.60" y="390.00" width="11.00" height="16.60" fill="#10c830"/>
<rect x="300.00" y="307.80" width="18.40" height="21.40" fill="#58066a"/>
<rect x="317.80" y="307.80" width="8.40" height="21.40" fill="#1024ee"/>
<rect x="325.60" y="307.80" width="5.80" height="21.40" fill="#20e0a0"/>
<rect x="330.80" y="307.80" width="8.40" height="21.40" fill="#ff9a18"/>
<rect x="338.60" y="307.80" width="5.80" height="21.40" fill="#10e8ff"/>
<rect x="343.80" y="307.80" width="5.80" height="21.40" fill="#1c0c9a"/>
<rect x="349.00" y="307.80" width="16.20" height="21.40" fill="#58066a"/>
<rect x="364.60" y="307.80" width="5.80" height="21.40" fill="#1c0c9a"/>
<rect x="369.80" y="307.80" width="8.40" height="21.40" fill="#10e8ff"/>
<rect x="377.60" y="307.80" width="5.80" height="21.40" fill="#f8fa18"/>
<rect x="382.80" y="307.80" width="8.40" height="21.40" fill="#ff2a00"/>
<rect x="390.60" y="307.80" width="5.80" height="21.40" fill="#10e8ff"/>
<rect x="395.80" y="307.80" width="16.20" height="21.40" fill="#1c0c9a"/>
<rect x="411.40" y="307.80" width="8.40" height="21.40" fill="#10e8ff"/>
<rect x="419.20" y="307.80" width="8.40" height="21.40" fill="#a0f000"/>
<rect x="427.00" y="307.80" width="5.80" height="21.40" fill="#ff9a18"/>
<rect x="432.20" y="307.80" width="13.60" height="21.40" fill="#a00000"/>
<rect x="445.20" y="307.80" width="5.80" height="21.40" fill="#10e8ff"/>
<rect x="450.40" y="307.80" width="18.80" height="21.40" fill="#58066a"/>
<rect x="468.60" y="307.80" width="8.40" height="21.40" fill="#10e8ff"/>
<rect x="476.40" y="307.80" width="13.60" height="21.40" fill="#a00000"/>
<rect x="489.40" y="307.80" width="11.00" height="21.40" fill="#f8fa18"/>
<rect x="499.80" y="307.80" width="5.80" height="21.40" fill="#10e8ff"/>
<rect x="505.00" y="307.80" width="21.40" height="21.40" fill="#58066a"/>
<rect x="525.80" y="307.80" width="11.00" height="21.40" fill="#1878ff"/>
<rect x="536.20" y="307.80" width="5.80" height="21.40" fill="#10c830"/>
<rect x="541.40" y="307.80" width="24.20" height="21.40" fill="#ff9a18"/>
<rect x="300.00" y="328.60" width="18.40" height="26.60" fill="#58066a"/>
<rect x="317.80" y="328.60" width="8.40" height="26.60" fill="#1024ee"/>
<rect x="325.60" y="328.60" width="5.80" height="26.60" fill="#10e8ff"/>
<rect x="330.80" y="328.60" width="5.80" height="26.60" fill="#ff9a18"/>
<rect x="336.00" y="328.60" width="5.80" height="26.60" fill="#10e8ff"/>
<rect x="341.20" y="328.60" width="8.40" height="26.60" fill="#1024ee"/>
<rect x="349.00" y="328.60" width="18.80" height="26.60" fill="#58066a"/>
<rect x="367.20" y="328.60" width="8.40" height="26.60" fill="#1024ee"/>
<rect x="375.00" y="328.60" width="8.40" height="26.60" fill="#10e8ff"/>
<rect x="382.80" y="328.60" width="5.80" height="26.60" fill="#a0f000"/>
<rect x="388.00" y="328.60" width="5.80" height="26.60" fill="#10e8ff"/>
<rect x="393.20" y="328.60" width="18.80" height="26.60" fill="#1c0c9a"/>
<rect x="411.40" y="328.60" width="8.40" height="26.60" fill="#10e8ff"/>
<rect x="419.20" y="328.60" width="8.40" height="26.60" fill="#ff9a18"/>
<rect x="427.00" y="328.60" width="5.80" height="26.60" fill="#f8fa18"/>
<rect x="432.20" y="328.60" width="11.00" height="26.60" fill="#ff2a00"/>
<rect x="442.60" y="328.60" width="8.40" height="26.60" fill="#10e8ff"/>
<rect x="450.40" y="328.60" width="18.80" height="26.60" fill="#58066a"/>
<rect x="468.60" y="328.60" width="8.40" height="26.60" fill="#1878ff"/>
<rect x="476.40" y="328.60" width="11.00" height="26.60" fill="#a00000"/>
<rect x="486.80" y="328.60" width="8.40" height="26.60" fill="#f8fa18"/>
<rect x="494.60" y="328.60" width="11.00" height="26.60" fill="#10e8ff"/>
<rect x="505.00" y="328.60" width="21.40" height="26.60" fill="#58066a"/>
<rect x="525.80" y="328.60" width="11.00" height="26.60" fill="#1024ee"/>
<rect x="536.20" y="328.60" width="5.80" height="26.60" fill="#20e0a0"/>
<rect x="541.40" y="328.60" width="24.20" height="26.60" fill="#ff9a18"/>
<rect x="300.00" y="354.60" width="2.80" height="15.00" fill="#10e8ff"/>
<rect x="302.20" y="354.60" width="24.00" height="15.00" fill="#20e0a0"/>
<rect x="325.60" y="354.60" width="16.20" height="15.00" fill="#ff9a18"/>
<rect x="341.20" y="354.60" width="13.60" height="15.00" fill="#20e0a0"/>
<rect x="354.20" y="354.60" width="11.00" height="15.00" fill="#a0f000"/>
<rect x="364.60" y="354.60" width="11.00" height="15.00" fill="#f8fa18"/>
<rect x="375.00" y="354.60" width="16.20" height="15.00" fill="#ff9a18"/>
<rect x="390.60" y="354.60" width="11.00" height="15.00" fill="#f8fa18"/>
<rect x="401.00" y="354.60" width="16.20" height="15.00" fill="#10e8ff"/>
<rect x="416.60" y="354.60" width="11.00" height="15.00" fill="#ff9a18"/>
<rect x="427.00" y="354.60" width="5.80" height="15.00" fill="#f8fa18"/>
<rect x="432.20" y="354.60" width="11.00" height="15.00" fill="#ff2a00"/>
<rect x="442.60" y="354.60" width="11.00" height="15.00" fill="#10c830"/>
<rect x="453.00" y="354.60" width="21.40" height="15.00" fill="#10e8ff"/>
<rect x="473.80" y="354.60" width="5.80" height="15.00" fill="#10c830"/>
<rect x="479.00" y="354.60" width="8.40" height="15.00" fill="#ff2a00"/>
<rect x="486.80" y="354.60" width="8.40" height="15.00" fill="#a0f000"/>
<rect x="494.60" y="354.60" width="21.40" height="15.00" fill="#10e8ff"/>
<rect x="515.40" y="354.60" width="16.20" height="15.00" fill="#20e0a0"/>
<rect x="531.00" y="354.60" width="11.00" height="15.00" fill="#a0f000"/>
<rect x="541.40" y="354.60" width="24.20" height="15.00" fill="#ff9a18"/>
<rect x="300.00" y="369.00" width="2.80" height="21.30" fill="#1024ee"/>
<rect x="302.20" y="369.00" width="16.20" height="21.30" fill="#58066a"/>
<rect x="317.80" y="369.00" width="11.00" height="21.30" fill="#1024ee"/>
<rect x="328.20" y="369.00" width="8.40" height="21.30" fill="#20e0a0"/>
<rect x="336.00" y="369.00" width="5.80" height="21.30" fill="#1024ee"/>
<rect x="341.20" y="369.00" width="11.00" height="21.30" fill="#58066a"/>
<rect x="351.60" y="369.00" width="5.80" height="21.30" fill="#1024ee"/>
<rect x="356.80" y="369.00" width="13.60" height="21.30" fill="#58066a"/>
<rect x="369.80" y="369.00" width="8.40" height="21.30" fill="#1024ee"/>
<rect x="377.60" y="369.00" width="8.40" height="21.30" fill="#10e8ff"/>
<rect x="385.40" y="369.00" width="5.80" height="21.30" fill="#a0f000"/>
<rect x="390.60" y="369.00" width="5.80" height="21.30" fill="#10e8ff"/>
<rect x="395.80" y="369.00" width="18.80" height="21.30" fill="#58066a"/>
<rect x="414.00" y="369.00" width="8.40" height="21.30" fill="#10e8ff"/>
<rect x="421.80" y="369.00" width="5.80" height="21.30" fill="#a0f000"/>
<rect x="427.00" y="369.00" width="5.80" height="21.30" fill="#10e8ff"/>
<rect x="432.20" y="369.00" width="11.00" height="21.30" fill="#a0f000"/>
<rect x="442.60" y="369.00" width="8.40" height="21.30" fill="#10e8ff"/>
<rect x="450.40" y="369.00" width="21.40" height="21.30" fill="#58066a"/>
<rect x="471.20" y="369.00" width="5.80" height="21.30" fill="#1024ee"/>
<rect x="476.40" y="369.00" width="8.40" height="21.30" fill="#10e8ff"/>
<rect x="484.20" y="369.00" width="11.00" height="21.30" fill="#a0f000"/>
<rect x="494.60" y="369.00" width="8.40" height="21.30" fill="#10e8ff"/>
<rect x="502.40" y="369.00" width="26.60" height="21.30" fill="#58066a"/>
<rect x="528.40" y="369.00" width="8.40" height="21.30" fill="#1024ee"/>
<rect x="536.20" y="369.00" width="5.80" height="21.30" fill="#10e8ff"/>
<rect x="541.40" y="369.00" width="24.20" height="21.30" fill="#f8fa18"/>
<rect x="300.00" y="389.70" width="5.40" height="16.90" fill="#10c830"/>
<rect x="304.80" y="389.70" width="13.60" height="16.90" fill="#a0f000"/>
<rect x="317.80" y="389.70" width="11.00" height="16.90" fill="#10c830"/>
<rect x="328.20" y="389.70" width="11.00" height="16.90" fill="#ff2a00"/>
<rect x="338.60" y="389.70" width="16.20" height="16.90" fill="#a0f000"/>
<rect x="354.20" y="389.70" width="13.60" height="16.90" fill="#20e0a0"/>
<rect x="367.20" y="389.70" width="13.60" height="16.90" fill="#ff9a18"/>
<rect x="380.20" y="389.70" width="11.00" height="16.90" fill="#ff9a18"/>
<rect x="390.60" y="389.70" width="18.80" height="16.90" fill="#a0f000"/>
<rect x="408.80" y="389.70" width="11.00" height="16.90" fill="#10e8ff"/>
<rect x="419.20" y="389.70" width="8.40" height="16.90" fill="#ff9a18"/>
<rect x="427.00" y="389.70" width="16.20" height="16.90" fill="#a00000"/>
<rect x="442.60" y="389.70" width="11.00" height="16.90" fill="#f8fa18"/>
<rect x="453.00" y="389.70" width="21.40" height="16.90" fill="#a0f000"/>
<rect x="473.80" y="389.70" width="16.20" height="16.90" fill="#ff2a00"/>
<rect x="489.40" y="389.70" width="11.00" height="16.90" fill="#f8fa18"/>
<rect x="499.80" y="389.70" width="21.40" height="16.90" fill="#a0f000"/>
<rect x="520.60" y="389.70" width="16.20" height="16.90" fill="#ff9a18"/>
<rect x="536.20" y="389.70" width="29.40" height="16.90" fill="#ff2a00"/>
<rect x="38.00" y="10.00" width="17.80" height="20.10" fill="#10e8ff"/>
<rect x="55.20" y="10.00" width="16.00" height="20.10" fill="#10c830"/>
<rect x="70.60" y="10.00" width="5.70" height="20.10" fill="#10e8ff"/>
<rect x="75.70" y="10.00" width="21.10" height="20.10" fill="#a0f000"/>
<rect x="96.20" y="10.00" width="10.80" height="20.10" fill="#10e8ff"/>
<rect x="106.40" y="10.00" width="16.00" height="20.10" fill="#10c830"/>
<rect x="121.80" y="10.00" width="21.10" height="20.10" fill="#a0f000"/>
<rect x="142.30" y="10.00" width="10.80" height="20.10" fill="#10e8ff"/>
<rect x="152.50" y="10.00" width="8.30" height="20.10" fill="#10c830"/>
<rect x="160.20" y="10.00" width="10.80" height="20.10" fill="#10e8ff"/>
<rect x="170.40" y="10.00" width="8.30" height="20.10" fill="#10c830"/>
<rect x="178.10" y="10.00" width="5.70" height="20.10" fill="#10e8ff"/>
<rect x="183.20" y="10.00" width="8.30" height="20.10" fill="#f8fa18"/>
<rect x="190.90" y="10.00" width="41.60" height="20.10" fill="#10e8ff"/>
<rect x="231.90" y="10.00" width="10.80" height="20.10" fill="#ff2a00"/>
<rect x="242.10" y="10.00" width="16.00" height="20.10" fill="#10e8ff"/>
<rect x="257.50" y="10.00" width="10.80" height="20.10" fill="#10c830"/>
<rect x="267.70" y="10.00" width="8.30" height="20.10" fill="#10e8ff"/>
<rect x="275.40" y="10.00" width="5.70" height="20.10" fill="#1c0c9a"/>
<rect x="280.50" y="10.00" width="5.80" height="20.10" fill="#ff9a18"/>
<rect x="285.70" y="10.00" width="15.90" height="20.10" fill="#10c830"/>
<rect x="301.00" y="10.00" width="5.60" height="20.10" fill="#10c830"/>
<rect x="306.00" y="10.00" width="21.20" height="20.10" fill="#10e8ff"/>
<rect x="326.60" y="10.00" width="8.30" height="20.10" fill="#ff9a18"/>
<rect x="334.30" y="10.00" width="23.60" height="20.10" fill="#a0f000"/>
<rect x="357.30" y="10.00" width="21.10" height="20.10" fill="#10e8ff"/>
<rect x="377.80" y="10.00" width="10.80" height="20.10" fill="#ff2a00"/>
<rect x="388.00" y="10.00" width="5.80" height="20.10" fill="#10c830"/>
<rect x="393.20" y="10.00" width="15.90" height="20.10" fill="#a0f000"/>
<rect x="408.50" y="10.00" width="5.70" height="20.10" fill="#10e8ff"/>
<rect x="413.60" y="10.00" width="8.30" height="20.10" fill="#a0f000"/>
<rect x="421.30" y="10.00" width="10.90" height="20.10" fill="#10e8ff"/>
<rect x="431.60" y="10.00" width="13.40" height="20.10" fill="#ff9a18"/>
<rect x="444.40" y="10.00" width="15.90" height="20.10" fill="#a0f000"/>
<rect x="459.70" y="10.00" width="8.30" height="20.10" fill="#10e8ff"/>
<rect x="467.40" y="10.00" width="8.30" height="20.10" fill="#a0f000"/>
<rect x="475.10" y="10.00" width="5.70" height="20.10" fill="#10e8ff"/>
<rect x="480.20" y="10.00" width="21.10" height="20.10" fill="#ff2a00"/>
<rect x="500.70" y="10.00" width="5.70" height="20.10" fill="#f8fa18"/>
<rect x="505.80" y="10.00" width="10.80" height="20.10" fill="#10c830"/>
<rect x="516.00" y="10.00" width="5.80" height="20.10" fill="#10e8ff"/>
<rect x="521.20" y="10.00" width="5.70" height="20.10" fill="#a0f000"/>
<rect x="526.30" y="10.00" width="10.80" height="20.10" fill="#10e8ff"/>
<rect x="536.50" y="10.00" width="5.80" height="20.10" fill="#10c830"/>
<rect x="541.70" y="10.00" width="5.70" height="20.10" fill="#ff9a18"/>
<rect x="546.80" y="10.00" width="4.40" height="20.10" fill="#f8fa18"/>
<rect x="550.60" y="10.00" width="15.00" height="20.10" fill="#ff9a18"/>
</g></g>
<rect x="45.5" y="17.5" width="511" height="381" fill="none" stroke="#333" stroke-width="1"/>
<line x1="38.5" x2="45.5" y1="17.50" y2="17.50" stroke="#222" stroke-width="1.2"/>
<line x1="41.5" x2="45.5" y1="33.38" y2="33.38" stroke="#333" stroke-width="1"/>
<line x1="41.5" x2="45.5" y1="49.25" y2="49.25" stroke="#333" stroke-width="1"/>
<line x1="41.5" x2="45.5" y1="65.12" y2="65.12" stroke="#333" stroke-width="1"/>
<line x1="38.5" x2="45.5" y1="81.00" y2="81.00" stroke="#222" stroke-width="1.2"/>
<line x1="41.5" x2="45.5" y1="96.88" y2="96.88" stroke="#333" stroke-width="1"/>
<line x1="41.5" x2="45.5" y1="112.75" y2="112.75" stroke="#333" stroke-width="1"/>
<line x1="41.5" x2="45.5" y1="128.62" y2="128.62" stroke="#333" stroke-width="1"/>
<line x1="38.5" x2="45.5" y1="144.50" y2="144.50" stroke="#222" stroke-width="1.2"/>
<line x1="41.5" x2="45.5" y1="160.38" y2="160.38" stroke="#333" stroke-width="1"/>
<line x1="41.5" x2="45.5" y1="176.25" y2="176.25" stroke="#333" stroke-width="1"/>
<line x1="41.5" x2="45.5" y1="192.12" y2="192.12" stroke="#333" stroke-width="1"/>
<line x1="38.5" x2="45.5" y1="208.00" y2="208.00" stroke="#222" stroke-width="1.2"/>
<line x1="41.5" x2="45.5" y1="223.88" y2="223.88" stroke="#333" stroke-width="1"/>
<line x1="41.5" x2="45.5" y1="239.75" y2="239.75" stroke="#333" stroke-width="1"/>
<line x1="41.5" x2="45.5" y1="255.62" y2="255.62" stroke="#333" stroke-width="1"/>
<line x1="38.5" x2="45.5" y1="271.50" y2="271.50" stroke="#222" stroke-width="1.2"/>
<line x1="41.5" x2="45.5" y1="287.38" y2="287.38" stroke="#333" stroke-width="1"/>
<line x1="41.5" x2="45.5" y1="303.25" y2="303.25" stroke="#333" stroke-width="1"/>
<line x1="41.5" x2="45.5" y1="319.12" y2="319.12" stroke="#333" stroke-width="1"/>
<line x1="38.5" x2="45.5" y1="335.00" y2="335.00" stroke="#222" stroke-width="1.2"/>
<line x1="41.5" x2="45.5" y1="350.88" y2="350.88" stroke="#333" stroke-width="1"/>
<line x1="41.5" x2="45.5" y1="366.75" y2="366.75" stroke="#333" stroke-width="1"/>
<line x1="41.5" x2="45.5" y1="382.62" y2="382.62" stroke="#333" stroke-width="1"/>
<line x1="38.5" x2="45.5" y1="398.50" y2="398.50" stroke="#222" stroke-width="1.2"/>
<line x1="45.50" x2="45.50" y1="398.5" y2="407.8" stroke="#888" stroke-width="1.3"/>
<line x1="49.75" x2="49.75" y1="398.5" y2="403.2" stroke="#777" stroke-width="1"/>
<line x1="54.01" x2="54.01" y1="398.5" y2="403.2" stroke="#777" stroke-width="1"/>
<line x1="58.26" x2="58.26" y1="398.5" y2="403.2" stroke="#777" stroke-width="1"/>
<line x1="62.51" x2="62.51" y1="398.5" y2="403.2" stroke="#777" stroke-width="1"/>
<line x1="66.77" x2="66.77" y1="398.5" y2="403.2" stroke="#777" stroke-width="1"/>
<line x1="71.02" x2="71.02" y1="398.5" y2="411.5" stroke="#111" stroke-width="2"/>
<line x1="75.27" x2="75.27" y1="398.5" y2="403.2" stroke="#777" stroke-width="1"/>
<line x1="79.53" x2="79.53" y1="398.5" y2="403.2" stroke="#777" stroke-width="1"/>
<line x1="83.78" x2="83.78" y1="398.5" y2="403.2" stroke="#777" stroke-width="1"/>
<line x1="88.03" x2="88.03" y1="398.5" y2="403.2" stroke="#777" stroke-width="1"/>
<line x1="92.29" x2="92.29" y1="398.5" y2="403.2" stroke="#777" stroke-width="1"/>
<line x1="96.54" x2="96.54" y1="398.5" y2="407.8" stroke="#888" stroke-width="1.3"/>
<line x1="100.79" x2="100.79" y1="398.5" y2="403.2" stroke="#777" stroke-width="1"/>
<line x1="105.05" x2="105.05" y1="398.5" y2="403.2" stroke="#777" stroke-width="1"/>
<line x1="109.30" x2="109.30" y1="398.5" y2="403.2" stroke="#777" stroke-width="1"/>
<line x1="113.55" x2="113.55" y1="398.5" y2="403.2" stroke="#777" stroke-width="1"/>
<line x1="117.81" x2="117.81" y1="398.5" y2="403.2" stroke="#777" stroke-width="1"/>
<line x1="122.06" x2="122.06" y1="398.5" y2="411.5" stroke="#111" stroke-width="2"/>
<line x1="126.31" x2="126.31" y1="398.5" y2="403.2" stroke="#777" stroke-width="1"/>
<line x1="130.57" x2="130.57" y1="398.5" y2="403.2" stroke="#777" stroke-width="1"/>
<line x1="134.82" x2="134.82" y1="398.5" y2="403.2" stroke="#777" stroke-width="1"/>
<line x1="139.07" x2="139.07" y1="398.5" y2="403.2" stroke="#777" stroke-width="1"/>
<line x1="143.33" x2="143.33" y1="398.5" y2="403.2" stroke="#777" stroke-width="1"/>
<line x1="147.58" x2="147.58" y1="398.5" y2="407.8" stroke="#888" stroke-width="1.3"/>
<line x1="151.83" x2="151.83" y1="398.5" y2="403.2" stroke="#777" stroke-width="1"/>
<line x1="156.09" x2="156.09" y1="398.5" y2="403.2" stroke="#777" stroke-width="1"/>
<line x1="160.34" x2="160.34" y1="398.5" y2="403.2" stroke="#777" stroke-width="1"/>
<line x1="164.59" x2="164.59" y1="398.5" y2="403.2" stroke="#777" stroke-width="1"/>
<line x1="168.85" x2="168.85" y1="398.5" y2="403.2" stroke="#777" stroke-width="1"/>
<line x1="173.10" x2="173.10" y1="398.5" y2="411.5" stroke="#111" stroke-width="2"/>
<line x1="177.35" x2="177.35" y1="398.5" y2="403.2" stroke="#777" stroke-width="1"/>
<line x1="181.61" x2="181.61" y1="398.5" y2="403.2" stroke="#777" stroke-width="1"/>
<line x1="185.86" x2="185.86" y1="398.5" y2="403.2" stroke="#777" stroke-width="1"/>
<line x1="190.11" x2="190.11" y1="398.5" y2="403.2" stroke="#777" stroke-width="1"/>
<line x1="194.37" x2="194.37" y1="398.5" y2="403.2" stroke="#777" stroke-width="1"/>
<line x1="198.62" x2="198.62" y1="398.5" y2="407.8" stroke="#888" stroke-width="1.3"/>
<line x1="202.87" x2="202.87" y1="398.5" y2="403.2" stroke="#777" stroke-width="1"/>
<line x1="207.13" x2="207.13" y1="398.5" y2="403.2" stroke="#777" stroke-width="1"/>
<line x1="211.38" x2="211.38" y1="398.5" y2="403.2" stroke="#777" stroke-width="1"/>
<line x1="215.63" x2="215.63" y1="398.5" y2="403.2" stroke="#777" stroke-width="1"/>
<line x1="219.89" x2="219.89" y1="398.5" y2="403.2" stroke="#777" stroke-width="1"/>
<line x1="224.14" x2="224.14" y1="398.5" y2="411.5" stroke="#111" stroke-width="2"/>
<line x1="228.39" x2="228.39" y1="398.5" y2="403.2" stroke="#777" stroke-width="1"/>
<line x1="232.65" x2="232.65" y1="398.5" y2="403.2" stroke="#777" stroke-width="1"/>
<line x1="236.90" x2="236.90" y1="398.5" y2="403.2" stroke="#777" stroke-width="1"/>
<line x1="241.15" x2="241.15" y1="398.5" y2="403.2" stroke="#777" stroke-width="1"/>
<line x1="245.41" x2="245.41" y1="398.5" y2="403.2" stroke="#777" stroke-width="1"/>
<line x1="249.66" x2="249.66" y1="398.5" y2="407.8" stroke="#888" stroke-width="1.3"/>
<line x1="253.91" x2="253.91" y1="398.5" y2="403.2" stroke="#777" stroke-width="1"/>
<line x1="258.17" x2="258.17" y1="398.5" y2="403.2" stroke="#777" stroke-width="1"/>
<line x1="262.42" x2="262.42" y1="398.5" y2="403.2" stroke="#777" stroke-width="1"/>
<line x1="266.67" x2="266.67" y1="398.5" y2="403.2" stroke="#777" stroke-width="1"/>
<line x1="270.93" x2="270.93" y1="398.5" y2="403.2" stroke="#777" stroke-width="1"/>
<line x1="275.18" x2="275.18" y1="398.5" y2="411.5" stroke="#111" stroke-width="2"/>
<line x1="279.43" x2="279.43" y1="398.5" y2="403.2" stroke="#777" stroke-width="1"/>
<line x1="283.69" x2="283.69" y1="398.5" y2="403.2" stroke="#777" stroke-width="1"/>
<line x1="287.94" x2="287.94" y1="398.5" y2="403.2" stroke="#777" stroke-width="1"/>
<line x1="292.19" x2="292.19" y1="398.5" y2="403.2" stroke="#777" stroke-width="1"/>
<line x1="296.45" x2="296.45" y1="398.5" y2="403.2" stroke="#777" stroke-width="1"/>
<line x1="300.70" x2="300.70" y1="398.5" y2="407.8" stroke="#888" stroke-width="1.3"/>
<line x1="304.95" x2="304.95" y1="398.5" y2="403.2" stroke="#777" stroke-width="1"/>
<line x1="309.21" x2="309.21" y1="398.5" y2="403.2" stroke="#777" stroke-width="1"/>
<line x1="313.46" x2="313.46" y1="398.5" y2="403.2" stroke="#777" stroke-width="1"/>
<line x1="317.71" x2="317.71" y1="398.5" y2="403.2" stroke="#777" stroke-width="1"/>
<line x1="321.97" x2="321.97" y1="398.5" y2="403.2" stroke="#777" stroke-width="1"/>
<line x1="326.22" x2="326.22" y1="398.5" y2="411.5" stroke="#111" stroke-width="2"/>
<line x1="330.47" x2="330.47" y1="398.5" y2="403.2" stroke="#777" stroke-width="1"/>
<line x1="334.73" x2="334.73" y1="398.5" y2="403.2" stroke="#777" stroke-width="1"/>
<line x1="338.98" x2="338.98" y1="398.5" y2="403.2" stroke="#777" stroke-width="1"/>
<line x1="343.23" x2="343.23" y1="398.5" y2="403.2" stroke="#777" stroke-width="1"/>
<line x1="347.49" x2="347.49" y1="398.5" y2="403.2" stroke="#777" stroke-width="1"/>
<line x1="351.74" x2="351.74" y1="398.5" y2="407.8" stroke="#888" stroke-width="1.3"/>
<line x1="355.99" x2="355.99" y1="398.5" y2="403.2" stroke="#777" stroke-width="1"/>
<line x1="360.25" x2="360.25" y1="398.5" y2="403.2" stroke="#777" stroke-width="1"/>
<line x1="364.50" x2="364.50" y1="398.5" y2="403.2" stroke="#777" stroke-width="1"/>
<line x1="368.75" x2="368.75" y1="398.5" y2="403.2" stroke="#777" stroke-width="1"/>
<line x1="373.01" x2="373.01" y1="398.5" y2="403.2" stroke="#777" stroke-width="1"/>
<line x1="377.26" x2="377.26" y1="398.5" y2="411.5" stroke="#111" stroke-width="2"/>
<line x1="381.51" x2="381.51" y1="398.5" y2="403.2" stroke="#777" stroke-width="1"/>
<line x1="385.77" x2="385.77" y1="398.5" y2="403.2" stroke="#777" stroke-width="1"/>
<line x1="390.02" x2="390.02" y1="398.5" y2="403.2" stroke="#777" stroke-width="1"/>
<line x1="394.27" x2="394.27" y1="398.5" y2="403.2" stroke="#777" stroke-width="1"/>
<line x1="398.53" x2="398.53" y1="398.5" y2="403.2" stroke="#777" stroke-width="1"/>
<line x1="402.78" x2="402.78" y1="398.5" y2="407.8" stroke="#888" stroke-width="1.3"/>
<line x1="407.03" x2="407.03" y1="398.5" y2="403.2" stroke="#777" stroke-width="1"/>
<line x1="411.29" x2="411.29" y1="398.5" y2="403.2" stroke="#777" stroke-width="1"/>
<line x1="415.54" x2="415.54" y1="398.5" y2="403.2" stroke="#777" stroke-width="1"/>
<line x1="419.79" x2="419.79" y1="398.5" y2="403.2" stroke="#777" stroke-width="1"/>
<line x1="424.05" x2="424.05" y1="398.5" y2="403.2" stroke="#777" stroke-width="1"/>
<line x1="428.30" x2="428.30" y1="398.5" y2="411.5" stroke="#111" stroke-width="2"/>
<line x1="432.55" x2="432.55" y1="398.5" y2="403.2" stroke="#777" stroke-width="1"/>
<line x1="436.81" x2="436.81" y1="398.5" y2="403.2" stroke="#777" stroke-width="1"/>
<line x1="441.06" x2="441.06" y1="398.5" y2="403.2" stroke="#777" stroke-width="1"/>
<line x1="445.31" x2="445.31" y1="398.5" y2="403.2" stroke="#777" stroke-width="1"/>
<line x1="449.57" x2="449.57" y1="398.5" y2="403.2" stroke="#777" stroke-width="1"/>
<line x1="453.82" x2="453.82" y1="398.5" y2="407.8" stroke="#888" stroke-width="1.3"/>
<line x1="458.07" x2="458.07" y1="398.5" y2="403.2" stroke="#777" stroke-width="1"/>
<line x1="462.33" x2="462.33" y1="398.5" y2="403.2" stroke="#777" stroke-width="1"/>
<line x1="466.58" x2="466.58" y1="398.5" y2="403.2" stroke="#777" stroke-width="1"/>
<line x1="470.83" x2="470.83" y1="398.5" y2="403.2" stroke="#777" stroke-width="1"/>
<line x1="475.09" x2="475.09" y1="398.5" y2="403.2" stroke="#777" stroke-width="1"/>
<line x1="479.34" x2="479.34" y1="398.5" y2="411.5" stroke="#111" stroke-width="2"/>
<line x1="483.59" x2="483.59" y1="398.5" y2="403.2" stroke="#777" stroke-width="1"/>
<line x1="487.85" x2="487.85" y1="398.5" y2="403.2" stroke="#777" stroke-width="1"/>
<line x1="492.10" x2="492.10" y1="398.5" y2="403.2" stroke="#777" stroke-width="1"/>
<line x1="496.35" x2="496.35" y1="398.5" y2="403.2" stroke="#777" stroke-width="1"/>
<line x1="500.61" x2="500.61" y1="398.5" y2="403.2" stroke="#777" stroke-width="1"/>
<line x1="504.86" x2="504.86" y1="398.5" y2="407.8" stroke="#888" stroke-width="1.3"/>
<line x1="509.11" x2="509.11" y1="398.5" y2="403.2" stroke="#777" stroke-width="1"/>
<line x1="513.37" x2="513.37" y1="398.5" y2="403.2" stroke="#777" stroke-width="1"/>
<line x1="517.62" x2="517.62" y1="398.5" y2="403.2" stroke="#777" stroke-width="1"/>
<line x1="521.87" x2="521.87" y1="398.5" y2="403.2" stroke="#777" stroke-width="1"/>
<line x1="526.13" x2="526.13" y1="398.5" y2="403.2" stroke="#777" stroke-width="1"/>
<line x1="530.38" x2="530.38" y1="398.5" y2="411.5" stroke="#111" stroke-width="2"/>
<line x1="534.63" x2="534.63" y1="398.5" y2="403.2" stroke="#777" stroke-width="1"/>
<line x1="538.89" x2="538.89" y1="398.5" y2="403.2" stroke="#777" stroke-width="1"/>
<line x1="543.14" x2="543.14" y1="398.5" y2="403.2" stroke="#777" stroke-width="1"/>
<line x1="547.39" x2="547.39" y1="398.5" y2="403.2" stroke="#777" stroke-width="1"/>
<line x1="551.65" x2="551.65" y1="398.5" y2="403.2" stroke="#777" stroke-width="1"/>
<line x1="555.90" x2="555.90" y1="398.5" y2="407.8" stroke="#888" stroke-width="1.3"/>
<g fill="#111"><text x="40" y="22.70" text-anchor="end" font-size="15.8">18°S</text>
<text x="40" y="86.20" text-anchor="end" font-size="15.8">19°S</text>
<text x="40" y="149.70" text-anchor="end" font-size="15.8">20°S</text>
<text x="40" y="213.20" text-anchor="end" font-size="15.8">21°S</text>
<text x="40" y="276.70" text-anchor="end" font-size="15.8">22°S</text>
<text x="40" y="340.20" text-anchor="end" font-size="15.8">23°S</text>
<text x="40" y="403.70" text-anchor="end" font-size="15.8">24°S</text>
<text x="94.80" y="422.7" text-anchor="middle" font-size="16.5">2003</text>
<text x="196.88" y="422.7" text-anchor="middle" font-size="16.5">2005</text>
<text x="298.96" y="422.7" text-anchor="middle" font-size="16.5">2007</text>
<text x="401.04" y="422.7" text-anchor="middle" font-size="16.5">2009</text>
<text x="503.12" y="422.7" text-anchor="middle" font-size="16.5">2011</text></g>
<g font-weight="bold" font-size="19.5" fill="#111"><text x="25.2" y="109.9" text-anchor="middle">A</text><text x="25.2" y="296.8" text-anchor="middle">B</text><text x="24.6" y="367" text-anchor="middle">C</text></g>
<rect x="625" y="380.45" width="19" height="9.15" fill="#380000"/>
<rect x="625" y="371.40" width="19" height="9.15" fill="#880000"/>
<rect x="625" y="362.35" width="19" height="9.15" fill="#c40000"/>
<rect x="625" y="353.30" width="19" height="9.15" fill="#ff0000"/>
<rect x="625" y="344.25" width="19" height="9.15" fill="#ff4a00"/>
<rect x="625" y="335.20" width="19" height="9.15" fill="#ff7d10"/>
<rect x="625" y="326.15" width="19" height="9.15" fill="#ffae20"/>
<rect x="625" y="317.10" width="19" height="9.15" fill="#ffff20"/>
<rect x="625" y="308.05" width="19" height="9.15" fill="#d2f800"/>
<rect x="625" y="299.00" width="19" height="9.15" fill="#80e020"/>
<rect x="625" y="289.95" width="19" height="9.15" fill="#10cc30"/>
<rect x="625" y="280.90" width="19" height="9.15" fill="#10dc80"/>
<rect x="625" y="271.85" width="19" height="9.15" fill="#20eebe"/>
<rect x="625" y="262.80" width="19" height="9.15" fill="#00ffff"/>
<rect x="625" y="253.75" width="19" height="9.15" fill="#10dcf0"/>
<rect x="625" y="244.70" width="19" height="9.15" fill="#10acff"/>
<rect x="625" y="235.65" width="19" height="9.15" fill="#1088ff"/>
<rect x="625" y="226.60" width="19" height="9.15" fill="#1058ff"/>
<rect x="625" y="217.55" width="19" height="9.15" fill="#0018ff"/>
<rect x="625" y="208.50" width="19" height="9.15" fill="#0010dd"/>
<rect x="625" y="199.45" width="19" height="9.15" fill="#2010cc"/>
<rect x="625" y="190.40" width="19" height="9.15" fill="#2010aa"/>
<rect x="625" y="181.35" width="19" height="9.15" fill="#1a0a90"/>
<rect x="625" y="172.30" width="19" height="9.15" fill="#10087a"/>
<rect x="625" y="163.25" width="19" height="9.15" fill="#6010a0"/>
<rect x="625" y="154.20" width="19" height="9.15" fill="#5a0090"/>
<rect x="625" y="145.15" width="19" height="9.15" fill="#500075"/>
<rect x="625" y="136.10" width="19" height="9.15" fill="#480066"/>
<rect x="625" y="127.05" width="19" height="9.15" fill="#4a0070"/>
<rect x="625" y="118.00" width="19" height="9.15" fill="#4a0078"/>
<rect x="625" y="108.95" width="19" height="9.15" fill="#4a0080"/>
<rect x="625" y="99.90" width="19" height="9.15" fill="#4a0088"/>
<rect x="625" y="90.85" width="19" height="9.15" fill="#4a0090"/>
<rect x="625" y="81.80" width="19" height="9.15" fill="#4a0098"/>
<rect x="625" y="72.75" width="19" height="9.15" fill="#4a00a0"/>
<rect x="625" y="63.70" width="19" height="9.15" fill="#4a00a8"/>
<rect x="625" y="54.65" width="19" height="9.15" fill="#4a00b0"/>
<rect x="625" y="45.60" width="19" height="9.15" fill="#4a00b0"/>
<rect x="625" y="36.55" width="19" height="9.15" fill="#4a00b0"/>
<rect x="625" y="27.50" width="19" height="9.15" fill="#4a00b0"/>
<line x1="625" x2="644" y1="389.50" y2="389.50" stroke="#fff" stroke-opacity="0.55" stroke-width="1"/>
<line x1="625" x2="644" y1="380.45" y2="380.45" stroke="#fff" stroke-opacity="0.55" stroke-width="1"/>
<line x1="625" x2="644" y1="371.40" y2="371.40" stroke="#fff" stroke-opacity="0.55" stroke-width="1"/>
<line x1="625" x2="644" y1="362.35" y2="362.35" stroke="#fff" stroke-opacity="0.55" stroke-width="1"/>
<line x1="625" x2="644" y1="353.30" y2="353.30" stroke="#fff" stroke-opacity="0.55" stroke-width="1"/>
<line x1="625" x2="644" y1="344.25" y2="344.25" stroke="#fff" stroke-opacity="0.55" stroke-width="1"/>
<line x1="625" x2="644" y1="335.20" y2="335.20" stroke="#fff" stroke-opacity="0.55" stroke-width="1"/>
<line x1="625" x2="644" y1="326.15" y2="326.15" stroke="#fff" stroke-opacity="0.55" stroke-width="1"/>
<line x1="625" x2="644" y1="317.10" y2="317.10" stroke="#fff" stroke-opacity="0.55" stroke-width="1"/>
<line x1="625" x2="644" y1="308.05" y2="308.05" stroke="#fff" stroke-opacity="0.55" stroke-width="1"/>
<line x1="625" x2="644" y1="299.00" y2="299.00" stroke="#fff" stroke-opacity="0.55" stroke-width="1"/>
<line x1="625" x2="644" y1="289.95" y2="289.95" stroke="#fff" stroke-opacity="0.55" stroke-width="1"/>
<line x1="625" x2="644" y1="280.90" y2="280.90" stroke="#fff" stroke-opacity="0.55" stroke-width="1"/>
<line x1="625" x2="644" y1="271.85" y2="271.85" stroke="#fff" stroke-opacity="0.55" stroke-width="1"/>
<line x1="625" x2="644" y1="262.80" y2="262.80" stroke="#fff" stroke-opacity="0.55" stroke-width="1"/>
<line x1="625" x2="644" y1="253.75" y2="253.75" stroke="#fff" stroke-opacity="0.55" stroke-width="1"/>
<line x1="625" x2="644" y1="244.70" y2="244.70" stroke="#fff" stroke-opacity="0.55" stroke-width="1"/>
<line x1="625" x2="644" y1="235.65" y2="235.65" stroke="#fff" stroke-opacity="0.55" stroke-width="1"/>
<line x1="625" x2="644" y1="226.60" y2="226.60" stroke="#fff" stroke-opacity="0.55" stroke-width="1"/>
<line x1="625" x2="644" y1="217.55" y2="217.55" stroke="#fff" stroke-opacity="0.55" stroke-width="1"/>
<line x1="625" x2="644" y1="208.50" y2="208.50" stroke="#fff" stroke-opacity="0.55" stroke-width="1"/>
<line x1="625" x2="644" y1="199.45" y2="199.45" stroke="#fff" stroke-opacity="0.55" stroke-width="1"/>
<line x1="625" x2="644" y1="190.40" y2="190.40" stroke="#fff" stroke-opacity="0.55" stroke-width="1"/>
<line x1="625" x2="644" y1="181.35" y2="181.35" stroke="#fff" stroke-opacity="0.55" stroke-width="1"/>
<line x1="625" x2="644" y1="172.30" y2="172.30" stroke="#fff" stroke-opacity="0.55" stroke-width="1"/>
<line x1="625" x2="644" y1="163.25" y2="163.25" stroke="#fff" stroke-opacity="0.55" stroke-width="1"/>
<line x1="625" x2="644" y1="154.20" y2="154.20" stroke="#fff" stroke-opacity="0.55" stroke-width="1"/>
<line x1="625" x2="644" y1="145.15" y2="145.15" stroke="#fff" stroke-opacity="0.55" stroke-width="1"/>
<line x1="625" x2="644" y1="136.10" y2="136.10" stroke="#fff" stroke-opacity="0.55" stroke-width="1"/>
<line x1="625" x2="644" y1="127.05" y2="127.05" stroke="#fff" stroke-opacity="0.55" stroke-width="1"/>
<line x1="625" x2="644" y1="118.00" y2="118.00" stroke="#fff" stroke-opacity="0.55" stroke-width="1"/>
<line x1="625" x2="644" y1="108.95" y2="108.95" stroke="#fff" stroke-opacity="0.55" stroke-width="1"/>
<line x1="625" x2="644" y1="99.90" y2="99.90" stroke="#fff" stroke-opacity="0.55" stroke-width="1"/>
<line x1="625" x2="644" y1="90.85" y2="90.85" stroke="#fff" stroke-opacity="0.55" stroke-width="1"/>
<line x1="625" x2="644" y1="81.80" y2="81.80" stroke="#fff" stroke-opacity="0.55" stroke-width="1"/>
<line x1="625" x2="644" y1="72.75" y2="72.75" stroke="#fff" stroke-opacity="0.55" stroke-width="1"/>
<line x1="625" x2="644" y1="63.70" y2="63.70" stroke="#fff" stroke-opacity="0.55" stroke-width="1"/>
<line x1="625" x2="644" y1="54.65" y2="54.65" stroke="#fff" stroke-opacity="0.55" stroke-width="1"/>
<line x1="625" x2="644" y1="45.60" y2="45.60" stroke="#fff" stroke-opacity="0.55" stroke-width="1"/>
<line x1="625" x2="644" y1="36.55" y2="36.55" stroke="#fff" stroke-opacity="0.55" stroke-width="1"/>
<line x1="625" x2="644" y1="27.50" y2="27.50" stroke="#fff" stroke-opacity="0.55" stroke-width="1"/>
<polygon points="625,27.1 644,27.1 634.5,18.9" fill="#4a00b0"/>
<polygon points="625,389.9 644,389.9 634.5,398" fill="#380000"/>
<g fill="#111"><text x="618.3" y="384.40" text-anchor="end" font-size="14.3">2</text>
<text x="618.3" y="348.20" text-anchor="end" font-size="14.3">4</text>
<text x="618.3" y="312.00" text-anchor="end" font-size="14.3">6</text>
<text x="618.3" y="275.80" text-anchor="end" font-size="14.3">8</text>
<text x="618.3" y="239.60" text-anchor="end" font-size="14.3">10</text>
<text x="618.3" y="203.40" text-anchor="end" font-size="14.3">12</text>
<text x="618.3" y="167.20" text-anchor="end" font-size="14.3">14</text>
<text x="618.3" y="131.00" text-anchor="end" font-size="14.3">16</text>
<text x="618.3" y="94.80" text-anchor="end" font-size="14.3">18</text>
<text x="618.3" y="58.60" text-anchor="end" font-size="14.3">20</text></g>
<text transform="translate(581.5,202.4) rotate(-90)" text-anchor="middle" font-size="18" fill="#111">Z Secchi Depth (metres)</text>
<line x1="657" x2="657" y1="0" y2="433" stroke="#f0f0f0" stroke-width="1"/>
<g id="map">
<rect x="673.5" y="90" width="325.5" height="281.5" fill="#fff"/>
<polygon fill="#c9c9c9" points="673.5,90 691.5,90 695,102.3 700.8,112.3 711.5,123.8 724.4,135.2 735.8,145.2 748.3,156 758.8,172.3 773,178.8 784.7,182.9 794.4,185.3 802.5,188.5 805.7,195 807,203 814,214.6 820.8,226 826.6,237.7 837,249.3 855.5,260.8 864.7,270 867.5,273.8 864.8,277.7 856.5,280.8 859.2,286.3 867.5,294.6 871.7,301.5 874.5,308.5 877.2,320 878,322 889.7,336.6 898.4,351 907,371.5 673.5,371.5"/>
<polygon fill="#646464" points="673.5,99 676.4,99.4 680,104 685.7,112.3 686.5,131 695,141 705,146 715.7,149.4 731,157 740,166 744,170.7 747,170 749,175 752.3,177.2 762,182 767,185.3 770,189 773,186 781.5,196.6 786,203 785,214.6 799,226 803.5,240 809,254 813,264 815,272 817,277.7 821.8,287.7 826.7,296 835.7,304.3 837.1,301.5 838.5,287.7 842.6,291.8 848.2,294.6 855.1,297.4 859.2,294.6 864.8,297.4 867.5,301.5 868.9,308.5 868,322 869.5,336.6 881,348 888,359.7 894,371.5 673.5,371.5"/>
<g fill="#6a6a6a">
<ellipse cx="768.6" cy="143.9" rx="1.9" ry="1.5" transform="rotate(-34 768.6 143.9)"/>
<ellipse cx="771.1" cy="144.6" rx="1.9" ry="1.5" transform="rotate(6 771.1 144.6)"/>
<ellipse cx="775.1" cy="145.4" rx="1.9" ry="1.5" transform="rotate(-13 775.1 145.4)"/>
<ellipse cx="760.0" cy="146.9" rx="1.9" ry="1.0" transform="rotate(-32 760.0 146.9)"/>
<ellipse cx="763.3" cy="147.1" rx="1.9" ry="1.0" transform="rotate(-33 763.3 147.1)"/>
<ellipse cx="767.5" cy="146.5" rx="1.9" ry="1.0" transform="rotate(-12 767.5 146.5)"/>
<ellipse cx="757.7" cy="153.7" rx="1.6" ry="2.4" transform="rotate(-33 757.7 153.7)"/>
<ellipse cx="760.0" cy="153.1" rx="1.6" ry="2.4" transform="rotate(-12 760.0 153.1)"/>
<ellipse cx="777.3" cy="150.3" rx="2.4" ry="1.9" transform="rotate(-3 777.3 150.3)"/>
<ellipse cx="781.7" cy="149.5" rx="2.4" ry="1.9" transform="rotate(33 781.7 149.5)"/>
<ellipse cx="782.9" cy="159.0" rx="2.6" ry="2.6" transform="rotate(-17 782.9 159.0)"/>
<ellipse cx="786.5" cy="158.2" rx="2.6" ry="2.6" transform="rotate(-16 786.5 158.2)"/>
<ellipse cx="791.1" cy="158.1" rx="2.6" ry="2.6" transform="rotate(-32 791.1 158.1)"/>
<ellipse cx="794.9" cy="161.4" rx="1.8" ry="1.7" transform="rotate(23 794.9 161.4)"/>
<ellipse cx="797.8" cy="161.0" rx="1.8" ry="1.7"/>
<ellipse cx="800.1" cy="162.1" rx="1.8" ry="1.7" transform="rotate(6 800.1 162.1)"/>
<ellipse cx="802.3" cy="160.2" rx="1.6" ry="1.7" transform="rotate(-9 802.3 160.2)"/>
<ellipse cx="804.3" cy="159.1" rx="1.6" ry="1.7" transform="rotate(23 804.3 159.1)"/>
<ellipse cx="810.4" cy="172.3" rx="2.1" ry="3.4" transform="rotate(-4 810.4 172.3)"/>
<ellipse cx="813.0" cy="169.3" rx="2.1" ry="3.4" transform="rotate(25 813.0 169.3)"/>
<ellipse cx="815.8" cy="172.4" rx="2.1" ry="3.4" transform="rotate(-21 815.8 172.4)"/>
<ellipse cx="802.0" cy="173.4" rx="1.8" ry="1.9" transform="rotate(-31 802.0 173.4)"/>
<ellipse cx="804.4" cy="173.8" rx="1.8" ry="1.9"/>
<ellipse cx="806.3" cy="173.3" rx="1.8" ry="1.9" transform="rotate(23 806.3 173.3)"/>
<ellipse cx="849.2" cy="185.9" rx="1.9" ry="1.7" transform="rotate(60 849.2 185.9)"/>
<ellipse cx="850.9" cy="186.2" rx="1.8" ry="1.1" transform="rotate(73 850.9 186.2)"/>
<ellipse cx="853.1" cy="189.3" rx="1.3" ry="0.9" transform="rotate(85 853.1 189.3)"/>
<ellipse cx="853.0" cy="190.8" rx="1.4" ry="1.0" transform="rotate(63 853.0 190.8)"/>
<ellipse cx="853.7" cy="191.7" rx="1.1" ry="0.7" transform="rotate(50 853.7 191.7)"/>
<ellipse cx="857.2" cy="192.3" rx="1.2" ry="0.8" transform="rotate(35 857.2 192.3)"/>
<ellipse cx="858.6" cy="194.3" rx="2.0" ry="1.2" transform="rotate(53 858.6 194.3)"/>
<ellipse cx="860.3" cy="195.2" rx="1.4" ry="0.8" transform="rotate(10 860.3 195.2)"/>
<ellipse cx="859.8" cy="195.4" rx="1.3" ry="0.9" transform="rotate(75 859.8 195.4)"/>
<ellipse cx="861.2" cy="196.8" rx="1.2" ry="0.8" transform="rotate(78 861.2 196.8)"/>
<ellipse cx="863.6" cy="199.6" rx="1.8" ry="1.2" transform="rotate(79 863.6 199.6)"/>
<ellipse cx="865.2" cy="200.4" rx="1.5" ry="1.3" transform="rotate(87 865.2 200.4)"/>
<ellipse cx="867.0" cy="200.8" rx="1.4" ry="0.8" transform="rotate(81 867.0 200.8)"/>
<ellipse cx="867.5" cy="201.6" rx="2.1" ry="1.4" transform="rotate(14 867.5 201.6)"/>
<ellipse cx="868.8" cy="202.5" rx="1.0" ry="0.6" transform="rotate(12 868.8 202.5)"/>
<ellipse cx="871.7" cy="205.1" rx="1.1" ry="0.6" transform="rotate(48 871.7 205.1)"/>
<ellipse cx="871.2" cy="205.5" rx="1.4" ry="0.9" transform="rotate(15 871.2 205.5)"/>
<ellipse cx="872.6" cy="207.3" rx="2.1" ry="1.4" transform="rotate(39 872.6 207.3)"/>
<ellipse cx="874.0" cy="207.6" rx="1.4" ry="0.8" transform="rotate(88 874.0 207.6)"/>
<ellipse cx="875.6" cy="208.7" rx="2.0" ry="1.5" transform="rotate(18 875.6 208.7)"/>
<ellipse cx="878.3" cy="212.1" rx="1.8" ry="1.1" transform="rotate(82 878.3 212.1)"/>
<ellipse cx="880.2" cy="212.8" rx="1.3" ry="0.8" transform="rotate(21 880.2 212.8)"/>
<ellipse cx="880.4" cy="213.0" rx="1.6" ry="1.1" transform="rotate(81 880.4 213.0)"/>
<ellipse cx="881.5" cy="215.6" rx="2.1" ry="1.8" transform="rotate(30 881.5 215.6)"/>
<ellipse cx="884.4" cy="216.7" rx="1.2" ry="0.9" transform="rotate(45 884.4 216.7)"/>
<ellipse cx="885.6" cy="218.6" rx="1.9" ry="1.3" transform="rotate(24 885.6 218.6)"/>
<ellipse cx="887.0" cy="219.7" rx="1.5" ry="1.3" transform="rotate(44 887.0 219.7)"/>
<ellipse cx="889.0" cy="219.6" rx="1.2" ry="0.7" transform="rotate(25 889.0 219.6)"/>
<ellipse cx="889.0" cy="221.1" rx="2.1" ry="1.6"/>
<ellipse cx="890.8" cy="222.8" rx="1.9" ry="1.0" transform="rotate(84 890.8 222.8)"/>
<ellipse cx="891.3" cy="223.4" rx="1.8" ry="1.0" transform="rotate(22 891.3 223.4)"/>
<ellipse cx="893.5" cy="225.3" rx="1.1" ry="1.0" transform="rotate(50 893.5 225.3)"/>
<ellipse cx="895.1" cy="226.8" rx="1.1" ry="0.6" transform="rotate(16 895.1 226.8)"/>
<ellipse cx="895.4" cy="227.7" rx="1.5" ry="1.2" transform="rotate(78 895.4 227.7)"/>
<ellipse cx="898.8" cy="229.9" rx="1.7" ry="1.1" transform="rotate(70 898.8 229.9)"/>
<ellipse cx="899.6" cy="228.8" rx="1.9" ry="1.5" transform="rotate(13 899.6 228.8)"/>
<ellipse cx="901.0" cy="232.3" rx="1.5" ry="1.3" transform="rotate(27 901.0 232.3)"/>
<ellipse cx="901.2" cy="231.8" rx="1.6" ry="1.2" transform="rotate(41 901.2 231.8)"/>
<ellipse cx="903.2" cy="233.5" rx="1.1" ry="1.0" transform="rotate(45 903.2 233.5)"/>
<ellipse cx="906.2" cy="235.4" rx="1.9" ry="1.3" transform="rotate(64 906.2 235.4)"/>
<ellipse cx="905.8" cy="235.4" rx="1.6" ry="1.3" transform="rotate(23 905.8 235.4)"/>
<ellipse cx="908.4" cy="238.2" rx="1.2" ry="0.6" transform="rotate(79 908.4 238.2)"/>
<ellipse cx="910.1" cy="238.9" rx="1.4" ry="1.0" transform="rotate(71 910.1 238.9)"/>
<ellipse cx="911.0" cy="240.7" rx="2.0" ry="1.0" transform="rotate(24 911.0 240.7)"/>
<ellipse cx="837.6" cy="190.1" rx="1.0" ry="0.7" transform="rotate(8 837.6 190.1)"/>
<ellipse cx="839.5" cy="192.5" rx="1.0" ry="0.7" transform="rotate(88 839.5 192.5)"/>
<ellipse cx="840.8" cy="194.9" rx="1.2" ry="0.8" transform="rotate(31 840.8 194.9)"/>
<ellipse cx="843.1" cy="198.0" rx="1.3" ry="0.8" transform="rotate(71 843.1 198.0)"/>
<ellipse cx="845.0" cy="199.5" rx="0.9" ry="0.6" transform="rotate(50 845.0 199.5)"/>
<ellipse cx="845.9" cy="201.9" rx="0.8" ry="0.4" transform="rotate(85 845.9 201.9)"/>
<ellipse cx="818.2" cy="164.5" rx="1.4" ry="1.2" transform="rotate(82 818.2 164.5)"/>
<ellipse cx="821.7" cy="166.0" rx="1.5" ry="1.3" transform="rotate(28 821.7 166.0)"/>
<ellipse cx="824.1" cy="167.3" rx="1.5" ry="0.8" transform="rotate(85 824.1 167.3)"/>
<ellipse cx="826.5" cy="169.0" rx="1.1" ry="0.8" transform="rotate(43 826.5 169.0)"/>
<ellipse cx="827.0" cy="171.3" rx="0.8" ry="0.5" transform="rotate(43 827.0 171.3)"/>
<ellipse cx="829.5" cy="173.1" rx="0.7" ry="0.5" transform="rotate(79 829.5 173.1)"/>
<ellipse cx="830.6" cy="176.6" rx="0.8" ry="0.7" transform="rotate(29 830.6 176.6)"/>
<ellipse cx="835.4" cy="174.7" rx="0.9" ry="0.5" transform="rotate(23 835.4 174.7)"/>
<ellipse cx="834.6" cy="176.3" rx="1.1" ry="0.9" transform="rotate(33 834.6 176.3)"/>
<ellipse cx="837.2" cy="179.3" rx="1.2" ry="0.8" transform="rotate(41 837.2 179.3)"/>
<ellipse cx="838.0" cy="178.9" rx="1.3" ry="0.9" transform="rotate(9 838.0 178.9)"/>
<ellipse cx="840.8" cy="180.2" rx="0.8" ry="0.5" transform="rotate(77 840.8 180.2)"/>
<ellipse cx="845.2" cy="181.9" rx="1.5" ry="1.0" transform="rotate(43 845.2 181.9)"/>
<ellipse cx="847.8" cy="184.7" rx="1.5" ry="1.1" transform="rotate(5 847.8 184.7)"/>
<ellipse cx="848.0" cy="185.5" rx="0.8" ry="0.5" transform="rotate(6 848.0 185.5)"/>
<ellipse cx="848.7" cy="189.7" rx="1.3" ry="0.9" transform="rotate(26 848.7 189.7)"/>
<ellipse cx="695.8" cy="93.4" rx="1.8" ry="2.6" transform="rotate(-30 695.8 93.4)"/>
<ellipse cx="703.2" cy="101.5" rx="4.2" ry="1.8" transform="rotate(-25 703.2 101.5)"/>
<ellipse cx="704.7" cy="105.8" rx="3.4" ry="1.7" transform="rotate(-35 704.7 105.8)"/>
<ellipse cx="707.2" cy="108.4" rx="3.0" ry="1.9" transform="rotate(-40 707.2 108.4)"/>
<ellipse cx="702.5" cy="109.8" rx="1.8" ry="1.6"/>
<ellipse cx="695.0" cy="118.0" rx="1.2" ry="2.2" transform="rotate(20 695.0 118.0)"/>
<ellipse cx="697.0" cy="124.0" rx="1.6" ry="0.9"/>
<ellipse cx="690.0" cy="121.0" rx="0.9" ry="1.8"/>
<ellipse cx="711.0" cy="116.0" rx="1.0" ry="1.6" transform="rotate(20 711.0 116.0)"/>
<ellipse cx="716.0" cy="120.0" rx="1.2" ry="1.0"/>
<ellipse cx="721.0" cy="128.0" rx="1.4" ry="1.0"/>
<ellipse cx="727.0" cy="126.0" rx="0.8" ry="1.6"/>
<ellipse cx="727.3" cy="122.5" rx="0.5" ry="0.3" transform="rotate(2 727.3 122.5)"/>
<ellipse cx="759.7" cy="101.7" rx="0.4" ry="0.3" transform="rotate(24 759.7 101.7)"/>
<ellipse cx="737.7" cy="111.1" rx="0.7" ry="0.5" transform="rotate(83 737.7 111.1)"/>
<ellipse cx="733.9" cy="122.3" rx="0.9" ry="0.5" transform="rotate(64 733.9 122.3)"/>
<ellipse cx="728.2" cy="109.7" rx="0.5" ry="0.3" transform="rotate(90 728.2 109.7)"/>
<ellipse cx="747.5" cy="106.3" rx="1.0" ry="0.9" transform="rotate(16 747.5 106.3)"/>
<ellipse cx="714.7" cy="128.1" rx="0.9" ry="0.6" transform="rotate(7 714.7 128.1)"/>
<ellipse cx="717.9" cy="137.9" rx="0.9" ry="0.7" transform="rotate(36 717.9 137.9)"/>
<ellipse cx="741.5" cy="131.2" rx="0.4" ry="0.2" transform="rotate(34 741.5 131.2)"/>
<ellipse cx="734.5" cy="111.8" rx="1.0" ry="0.9" transform="rotate(70 734.5 111.8)"/>
<ellipse cx="728.9" cy="101.6" rx="0.9" ry="0.5" transform="rotate(23 728.9 101.6)"/>
<ellipse cx="714.0" cy="117.2" rx="0.7" ry="0.4" transform="rotate(25 714.0 117.2)"/>
<ellipse cx="725.4" cy="134.9" rx="0.5" ry="0.4" transform="rotate(18 725.4 134.9)"/>
<ellipse cx="732.4" cy="101.9" rx="0.4" ry="0.2" transform="rotate(29 732.4 101.9)"/>
<ellipse cx="717.9" cy="143.1" rx="0.9" ry="0.4" transform="rotate(76 717.9 143.1)"/>
<ellipse cx="731.9" cy="114.7" rx="1.0" ry="0.5" transform="rotate(79 731.9 114.7)"/>
<ellipse cx="743.6" cy="102.0" rx="0.9" ry="0.8" transform="rotate(80 743.6 102.0)"/>
<ellipse cx="733.7" cy="131.5" rx="0.7" ry="0.6" transform="rotate(64 733.7 131.5)"/>
<ellipse cx="740.2" cy="136.6" rx="0.4" ry="0.3" transform="rotate(87 740.2 136.6)"/>
<ellipse cx="758.0" cy="128.9" rx="0.5" ry="0.2" transform="rotate(81 758.0 128.9)"/>
<ellipse cx="730.6" cy="104.7" rx="0.9" ry="0.6" transform="rotate(80 730.6 104.7)"/>
<ellipse cx="714.9" cy="123.9" rx="0.5" ry="0.3" transform="rotate(58 714.9 123.9)"/>
<ellipse cx="834.3" cy="176.2" rx="0.7" ry="0.5" transform="rotate(84 834.3 176.2)"/>
<ellipse cx="826.7" cy="176.1" rx="0.7" ry="0.6" transform="rotate(33 826.7 176.1)"/>
<ellipse cx="818.6" cy="176.5" rx="0.5" ry="0.4" transform="rotate(58 818.6 176.5)"/>
<ellipse cx="825.8" cy="163.4" rx="0.7" ry="0.5" transform="rotate(5 825.8 163.4)"/>
<ellipse cx="829.3" cy="172.5" rx="0.4" ry="0.2" transform="rotate(32 829.3 172.5)"/>
<ellipse cx="830.2" cy="174.3" rx="0.8" ry="0.4" transform="rotate(61 830.2 174.3)"/>
<ellipse cx="813.7" cy="159.4" rx="0.8" ry="0.6" transform="rotate(86 813.7 159.4)"/>
<ellipse cx="825.7" cy="174.8" rx="0.6" ry="0.4" transform="rotate(15 825.7 174.8)"/>
<ellipse cx="839.8" cy="169.2" rx="0.6" ry="0.3" transform="rotate(60 839.8 169.2)"/>
<ellipse cx="812.5" cy="166.1" rx="0.9" ry="0.8" transform="rotate(57 812.5 166.1)"/>
<ellipse cx="839.8" cy="163.5" rx="0.9" ry="0.8" transform="rotate(9 839.8 163.5)"/>
<ellipse cx="828.3" cy="155.0" rx="0.7" ry="0.6" transform="rotate(16 828.3 155.0)"/>
<ellipse cx="828.9" cy="172.1" rx="0.6" ry="0.3" transform="rotate(46 828.9 172.1)"/>
<ellipse cx="818.5" cy="181.4" rx="0.7" ry="0.3"/>
<ellipse cx="901.8" cy="243.9" rx="1.0" ry="0.8" transform="rotate(53 901.8 243.9)"/>
<ellipse cx="863.7" cy="223.0" rx="1.4" ry="0.6" transform="rotate(43 863.7 223.0)"/>
<ellipse cx="894.9" cy="211.8" rx="1.5" ry="1.2" transform="rotate(37 894.9 211.8)"/>
<ellipse cx="858.0" cy="208.7" rx="1.0" ry="0.8" transform="rotate(9 858.0 208.7)"/>
<ellipse cx="864.7" cy="229.4" rx="0.9" ry="0.4" transform="rotate(13 864.7 229.4)"/>
<ellipse cx="845.3" cy="242.7" rx="1.2" ry="0.6" transform="rotate(34 845.3 242.7)"/>
<ellipse cx="869.5" cy="223.0" rx="1.4" ry="1.1" transform="rotate(54 869.5 223.0)"/>
<ellipse cx="897.7" cy="251.3" rx="1.2" ry="1.1" transform="rotate(70 897.7 251.3)"/>
<ellipse cx="876.6" cy="246.0" rx="0.6" ry="0.5" transform="rotate(57 876.6 246.0)"/>
<ellipse cx="880.7" cy="212.9" rx="1.5" ry="0.9" transform="rotate(70 880.7 212.9)"/>
<ellipse cx="850.0" cy="231.9" rx="0.9" ry="0.5" transform="rotate(83 850.0 231.9)"/>
<ellipse cx="858.4" cy="242.4" rx="0.9" ry="0.6" transform="rotate(50 858.4 242.4)"/>
<ellipse cx="849.5" cy="241.7" rx="0.7" ry="0.4" transform="rotate(63 849.5 241.7)"/>
<ellipse cx="876.7" cy="230.8" rx="0.9" ry="0.7" transform="rotate(54 876.7 230.8)"/>
<ellipse cx="850.8" cy="216.0" rx="0.7" ry="0.4" transform="rotate(11 850.8 216.0)"/>
<ellipse cx="862.1" cy="226.0" rx="1.4" ry="0.7" transform="rotate(2 862.1 226.0)"/>
<ellipse cx="889.2" cy="228.5" rx="1.0" ry="0.7" transform="rotate(48 889.2 228.5)"/>
<ellipse cx="859.0" cy="247.9" rx="1.1" ry="0.8" transform="rotate(46 859.0 247.9)"/>
<ellipse cx="849.9" cy="233.7" rx="1.2" ry="1.0" transform="rotate(27 849.9 233.7)"/>
<ellipse cx="847.8" cy="256.1" rx="1.0" ry="0.7" transform="rotate(55 847.8 256.1)"/>
<ellipse cx="902.1" cy="253.4" rx="1.5" ry="0.6" transform="rotate(4 902.1 253.4)"/>
<ellipse cx="868.8" cy="248.5" rx="1.4" ry="1.2" transform="rotate(62 868.8 248.5)"/>
<ellipse cx="842.0" cy="227.3" rx="1.5" ry="1.2" transform="rotate(59 842.0 227.3)"/>
<ellipse cx="903.3" cy="219.2" rx="0.7" ry="0.3" transform="rotate(66 903.3 219.2)"/>
<ellipse cx="903.2" cy="211.2" rx="1.4" ry="1.1" transform="rotate(58 903.2 211.2)"/>
<ellipse cx="847.4" cy="249.3" rx="0.6" ry="0.3" transform="rotate(72 847.4 249.3)"/>
<ellipse cx="900.0" cy="241.8" rx="0.9" ry="0.4" transform="rotate(32 900.0 241.8)"/>
<ellipse cx="875.3" cy="229.9" rx="1.4" ry="0.6" transform="rotate(38 875.3 229.9)"/>
<ellipse cx="875.0" cy="238.2" rx="1.0" ry="0.5" transform="rotate(76 875.0 238.2)"/>
<ellipse cx="842.1" cy="235.6" rx="1.6" ry="0.9" transform="rotate(40 842.1 235.6)"/>
<ellipse cx="882.6" cy="255.4" rx="1.1" ry="0.6" transform="rotate(31 882.6 255.4)"/>
<ellipse cx="843.8" cy="228.5" rx="1.2" ry="0.5" transform="rotate(24 843.8 228.5)"/>
<ellipse cx="873.4" cy="243.4" rx="1.0" ry="0.5" transform="rotate(85 873.4 243.4)"/>
<ellipse cx="868.7" cy="226.1" rx="1.1" ry="0.8" transform="rotate(53 868.7 226.1)"/>
<ellipse cx="931.6" cy="254.3" rx="0.3" ry="0.2" transform="rotate(64 931.6 254.3)"/>
<ellipse cx="922.2" cy="261.2" rx="0.4" ry="0.3" transform="rotate(24 922.2 261.2)"/>
<ellipse cx="927.4" cy="242.3" rx="0.7" ry="0.4" transform="rotate(79 927.4 242.3)"/>
<ellipse cx="935.9" cy="239.9" rx="0.4" ry="0.3" transform="rotate(85 935.9 239.9)"/>
<ellipse cx="921.8" cy="268.0" rx="0.8" ry="0.3" transform="rotate(3 921.8 268.0)"/>
<ellipse cx="951.2" cy="236.8" rx="0.3" ry="0.1" transform="rotate(50 951.2 236.8)"/>
<ellipse cx="934.4" cy="276.1" rx="0.5" ry="0.2" transform="rotate(10 934.4 276.1)"/>
<ellipse cx="949.8" cy="249.7" rx="0.4" ry="0.3" transform="rotate(59 949.8 249.7)"/>
<ellipse cx="921.0" cy="272.8" rx="0.5" ry="0.3" transform="rotate(42 921.0 272.8)"/>
<ellipse cx="934.2" cy="234.5" rx="0.3" ry="0.1" transform="rotate(53 934.2 234.5)"/>
<ellipse cx="950.6" cy="235.5" rx="0.8" ry="0.4" transform="rotate(45 950.6 235.5)"/>
<ellipse cx="944.6" cy="248.3" rx="0.7" ry="0.3" transform="rotate(90 944.6 248.3)"/>
<ellipse cx="935.2" cy="252.7" rx="0.8" ry="0.4" transform="rotate(46 935.2 252.7)"/>
<ellipse cx="943.6" cy="259.7" rx="0.6" ry="0.3" transform="rotate(80 943.6 259.7)"/>
<ellipse cx="944.5" cy="229.8" rx="0.3" ry="0.1" transform="rotate(7 944.5 229.8)"/>
<ellipse cx="928.2" cy="278.6" rx="0.7" ry="0.4" transform="rotate(34 928.2 278.6)"/>
<ellipse cx="930.7" cy="292.8" rx="0.3" ry="0.2" transform="rotate(88 930.7 292.8)"/>
<ellipse cx="930.1" cy="246.0" rx="0.3" ry="0.2" transform="rotate(81 930.1 246.0)"/>
<ellipse cx="920.6" cy="320.2" rx="0.9" ry="0.4" transform="rotate(59 920.6 320.2)"/>
<ellipse cx="920.8" cy="331.1" rx="0.6" ry="0.3" transform="rotate(63 920.8 331.1)"/>
<ellipse cx="898.6" cy="334.9" rx="0.4" ry="0.4" transform="rotate(38 898.6 334.9)"/>
<ellipse cx="917.2" cy="344.3" rx="0.8" ry="0.4" transform="rotate(40 917.2 344.3)"/>
<ellipse cx="907.4" cy="344.7" rx="0.8" ry="0.5" transform="rotate(50 907.4 344.7)"/>
<ellipse cx="915.3" cy="326.4" rx="0.4" ry="0.2" transform="rotate(70 915.3 326.4)"/>
<ellipse cx="909.7" cy="323.5" rx="0.7" ry="0.3" transform="rotate(9 909.7 323.5)"/>
<ellipse cx="902.2" cy="320.9" rx="0.5" ry="0.3" transform="rotate(90 902.2 320.9)"/>
<ellipse cx="828.0" cy="204.7" rx="0.6" ry="0.4" transform="rotate(86 828.0 204.7)"/>
<ellipse cx="776.4" cy="235.8" rx="1.0" ry="0.8" transform="rotate(37 776.4 235.8)"/>
<ellipse cx="780.6" cy="238.2" rx="0.7" ry="0.6" transform="rotate(25 780.6 238.2)"/>
<ellipse cx="790.8" cy="205.8" rx="0.6" ry="0.3" transform="rotate(74 790.8 205.8)"/>
<ellipse cx="773.2" cy="195.5" rx="0.7" ry="0.3" transform="rotate(67 773.2 195.5)"/>
<ellipse cx="776.2" cy="258.7" rx="0.9" ry="0.8" transform="rotate(13 776.2 258.7)"/>
<ellipse cx="760.3" cy="265.0" rx="0.6" ry="0.4" transform="rotate(47 760.3 265.0)"/>
<ellipse cx="762.8" cy="215.0" rx="0.6" ry="0.3" transform="rotate(74 762.8 215.0)"/>
<ellipse cx="773.6" cy="196.4" rx="0.8" ry="0.4" transform="rotate(77 773.6 196.4)"/>
<ellipse cx="778.2" cy="256.1" rx="1.1" ry="0.5" transform="rotate(76 778.2 256.1)"/>
<ellipse cx="809.7" cy="219.7" rx="0.5" ry="0.3" transform="rotate(5 809.7 219.7)"/>
<ellipse cx="774.3" cy="211.7" rx="0.9" ry="0.6" transform="rotate(26 774.3 211.7)"/>
<ellipse cx="817.0" cy="259.6" rx="0.7" ry="0.4" transform="rotate(79 817.0 259.6)"/>
<ellipse cx="781.9" cy="207.3" rx="1.0" ry="0.7" transform="rotate(8 781.9 207.3)"/>
<ellipse cx="788.6" cy="257.6" rx="0.9" ry="0.4" transform="rotate(68 788.6 257.6)"/>
<ellipse cx="766.4" cy="203.9" rx="0.9" ry="0.6" transform="rotate(36 766.4 203.9)"/>
<ellipse cx="806.7" cy="225.5" rx="0.5" ry="0.4" transform="rotate(45 806.7 225.5)"/>
<ellipse cx="789.0" cy="191.5" rx="1.0" ry="0.8" transform="rotate(82 789.0 191.5)"/>
</g>
<g stroke="#333" stroke-width="1.1" fill="none">
<line x1="755" y1="90" x2="755" y2="371.5"/>
<line x1="836.7" y1="90" x2="836.7" y2="371.5"/>
<line x1="918.5" y1="90" x2="918.5" y2="371.5"/>
<line x1="673.5" y1="184.2" x2="999" y2="184.2"/>
<line x1="673.5" y1="277.8" x2="999" y2="277.8"/>
</g>
<g fill="#6a6a6a">
<rect x="732.2" y="91.4" width="45.8" height="16.2"/>
<rect x="814.2" y="91.4" width="45.4" height="16.2"/>
<rect x="895" y="91.4" width="44.5" height="16.2"/>
</g>
<g fill="#fff" font-size="15.5">
<text x="755" y="106" text-anchor="middle">148°E</text>
<text x="836.5" y="106" text-anchor="middle">150°E</text>
<text x="917" y="106" text-anchor="middle">152°E</text>
<text x="676" y="189">20°S</text>
<text x="676" y="283">22°S</text>
<text x="679.5" y="154.2">Burdekin</text>
<text x="755" y="272.4">Broad Sound</text>
<text x="819.5" y="333">Fitzroy</text>
</g>
<g fill="#fff" font-size="17.5" font-weight="bold">
<text x="726" y="175">A</text>
<text x="805.4" y="294.8">B</text>
<text x="858.6" y="354.6">C</text>
</g>
<g id="compass" transform="translate(960.7,144.9)" stroke="#111" stroke-width="0.7" stroke-linejoin="round">
<polygon points="0,-15.7 -4,-4 0,0" fill="#111"/><polygon points="0,-15.7 4,-4 0,0" fill="#fff"/>
<polygon points="17.5,0 4,-4 0,0" fill="#111"/><polygon points="17.5,0 4,4 0,0" fill="#fff"/>
<polygon points="0,16 4,4 0,0" fill="#111"/><polygon points="0,16 -4,4 0,0" fill="#fff"/>
<polygon points="-18,0 -4,4 0,0" fill="#111"/><polygon points="-18,0 -4,-4 0,0" fill="#fff"/>
</g>
<g fill="#111" font-size="12.5" text-anchor="middle">
<text x="960.6" y="126.2">N</text>
<text x="960.6" y="172.8">S</text>
<text x="934.6" y="150.2">W</text>
<text x="983.4" y="150.2">E</text>
</g>
<g stroke="#222" stroke-width="1.2" fill="none">
<polyline points="755.3,67.5 755.3,74 837,74 837,67.5"/>
</g>
<g fill="#111" font-size="13.5">
<text x="755.3" y="65.8" text-anchor="middle">0</text>
<text x="821" y="65.8">220 km</text>
</g>
</g>
<rect x="673.5" y="90" width="325.5" height="281.5" fill="none" stroke="#333" stroke-width="1.3"/>

</svg>
</body></html>
